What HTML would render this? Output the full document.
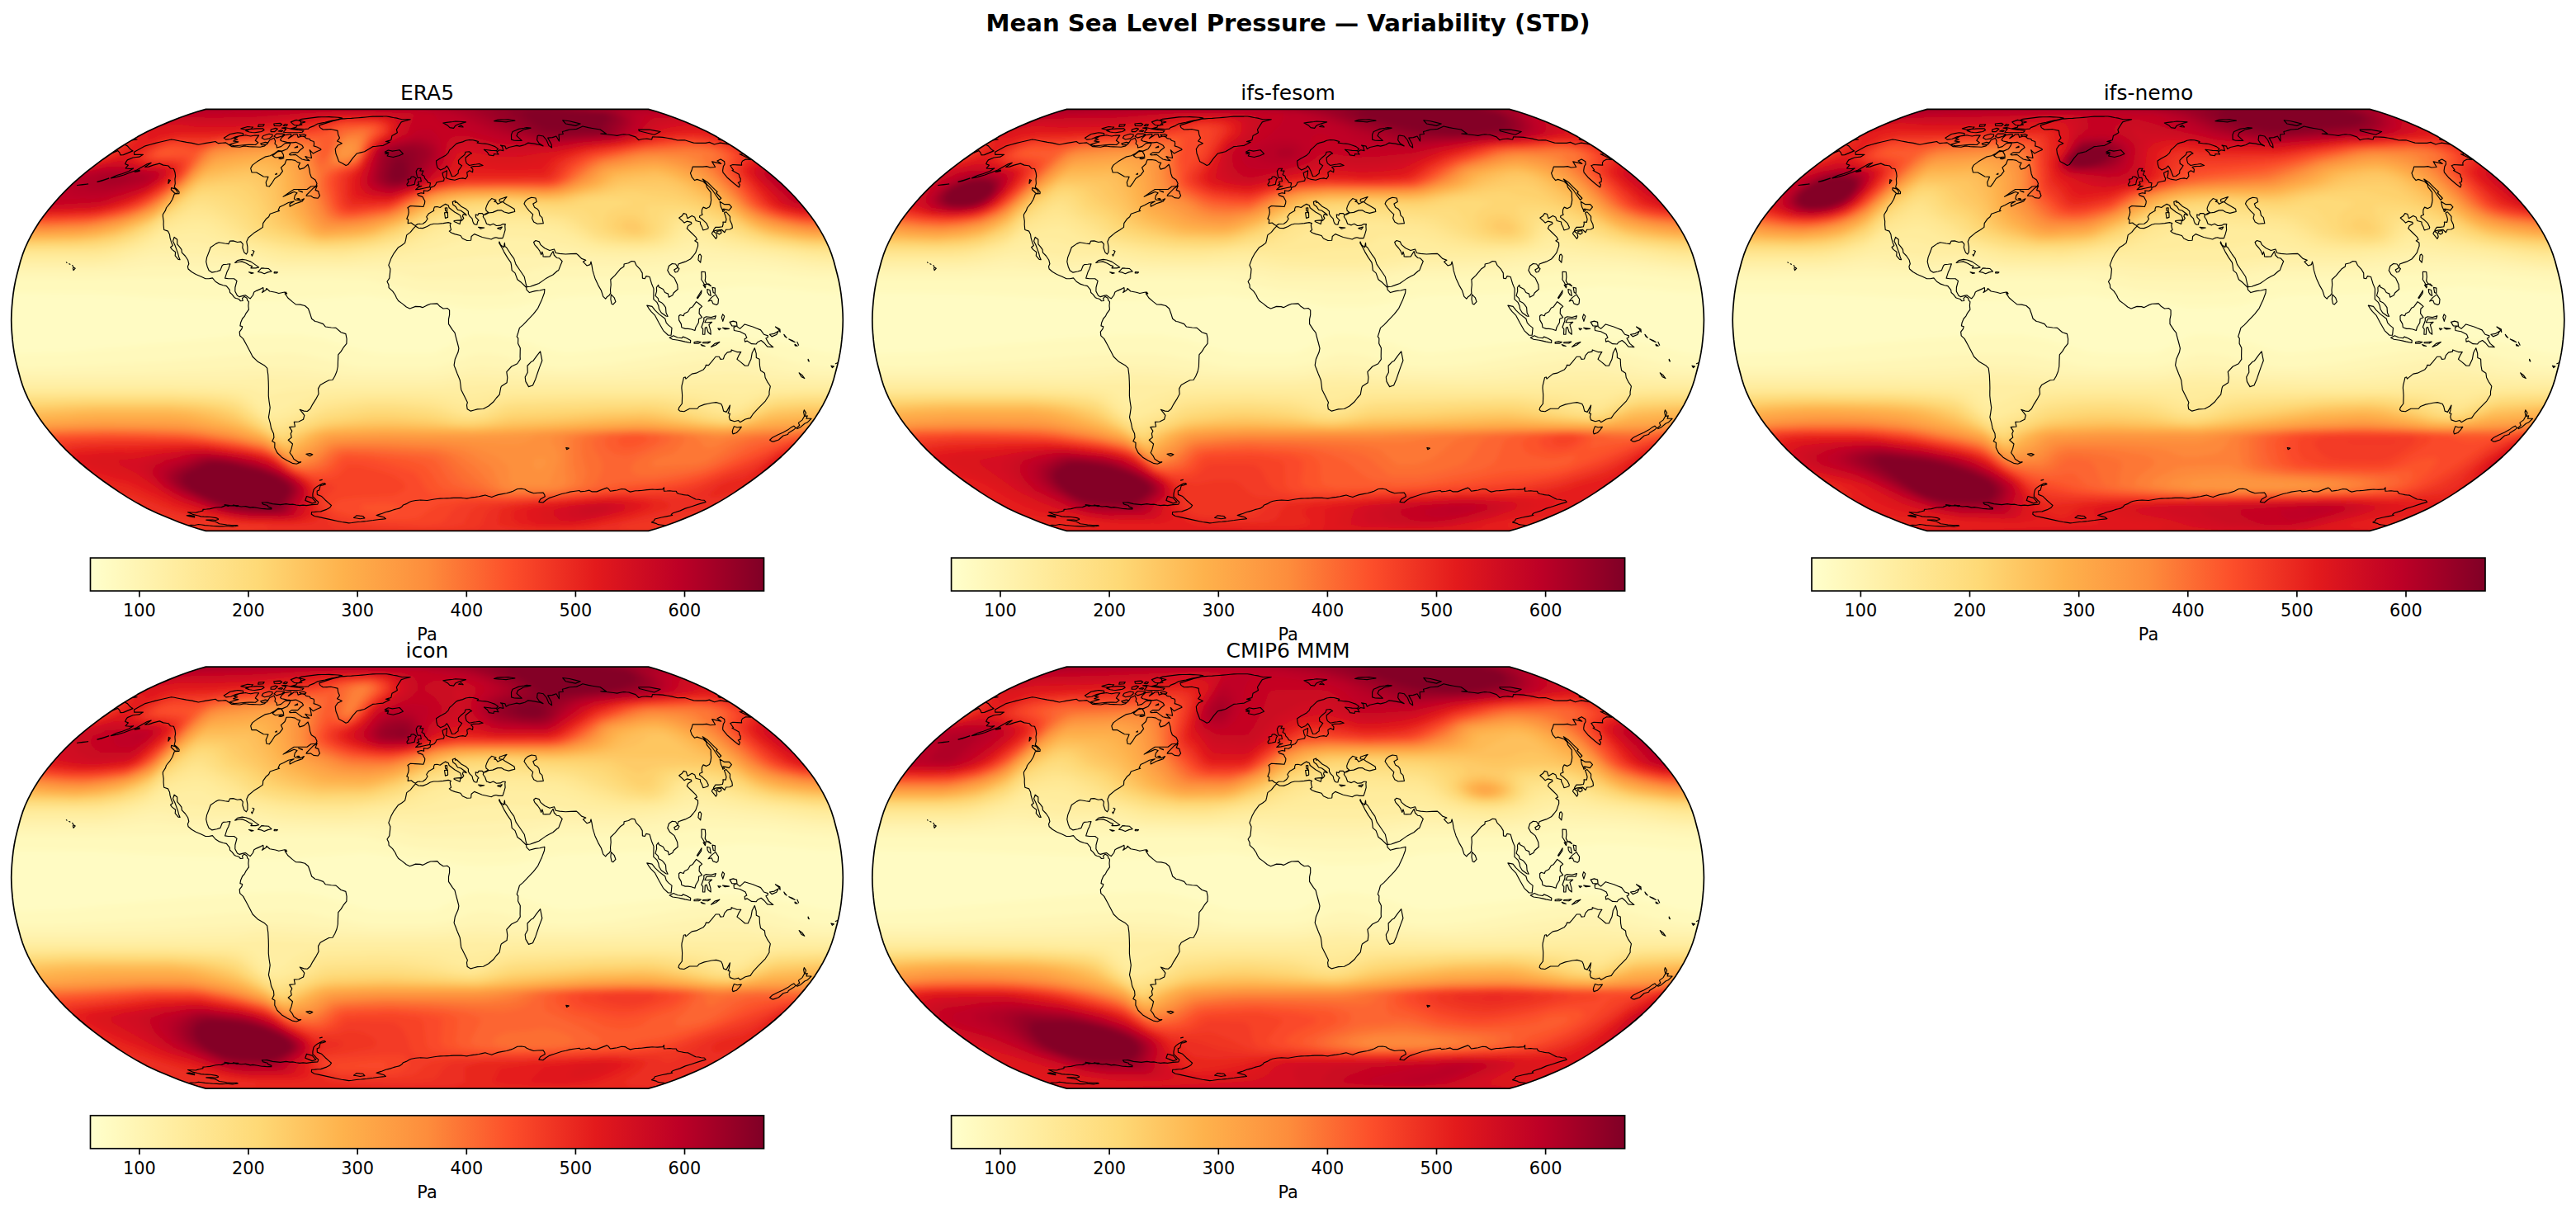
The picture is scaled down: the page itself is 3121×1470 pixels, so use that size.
<!DOCTYPE html>
<html><head><meta charset="utf-8"><title>Mean Sea Level Pressure — Variability (STD)</title>
<style>html,body{margin:0;padding:0;background:#fff;overflow:hidden;width:3121px;height:1470px}svg{display:block}text{font-family:"DejaVu Sans","Liberation Sans",sans-serif;fill:#000}.t{font-size:25px;text-anchor:middle}.k{font-size:20.83px;text-anchor:middle}</style></head><body>
<svg width="3121" height="1470" viewBox="0 0 3121 1470">
<defs>
<clipPath id="rc"><path d="M268.1 255.5L277.5 252.9L288.3 249.4L300.2 245.1L313.0 240.0L326.3 234.4L339.2 228.3L351.0 222.0L362.0 215.5L372.6 208.8L382.7 201.9L392.7 194.9L402.3 187.7L411.7 180.4L420.7 172.9L429.2 165.4L437.2 157.8L444.6 150.1L451.5 142.3L458.1 134.5L464.3 126.7L469.9 118.8L474.9 110.9L479.5 103.0L483.6 95.0L487.2 87.1L490.2 79.2L492.7 71.3L494.8 63.4L496.9 55.4L498.8 47.5L500.3 39.6L501.5 31.7L502.4 23.8L503.1 15.8L503.6 7.9L503.8 -0.0L503.6 -7.9L503.1 -15.8L502.4 -23.8L501.5 -31.7L500.3 -39.6L498.8 -47.5L496.9 -55.4L494.8 -63.4L492.7 -71.3L490.2 -79.2L487.2 -87.1L483.6 -95.0L479.5 -103.0L474.9 -110.9L469.9 -118.8L464.3 -126.7L458.1 -134.5L451.5 -142.3L444.6 -150.1L437.2 -157.8L429.2 -165.4L420.7 -172.9L411.7 -180.4L402.3 -187.7L392.7 -194.9L382.7 -201.9L372.6 -208.8L362.0 -215.5L351.0 -222.0L339.2 -228.3L326.3 -234.4L313.0 -240.0L300.2 -245.1L288.3 -249.4L277.5 -252.9L268.1 -255.5L-268.1 -255.5L-277.5 -252.9L-288.3 -249.4L-300.2 -245.1L-313.0 -240.0L-326.3 -234.4L-339.2 -228.3L-351.0 -222.0L-362.0 -215.5L-372.6 -208.8L-382.7 -201.9L-392.7 -194.9L-402.3 -187.7L-411.7 -180.4L-420.7 -172.9L-429.2 -165.4L-437.2 -157.8L-444.6 -150.1L-451.5 -142.3L-458.1 -134.5L-464.3 -126.7L-469.9 -118.8L-474.9 -110.9L-479.5 -103.0L-483.6 -95.0L-487.2 -87.1L-490.2 -79.2L-492.7 -71.3L-494.8 -63.4L-496.9 -55.4L-498.8 -47.5L-500.3 -39.6L-501.5 -31.7L-502.4 -23.8L-503.1 -15.8L-503.6 -7.9L-503.8 -0.0L-503.6 7.9L-503.1 15.8L-502.4 23.8L-501.5 31.7L-500.3 39.6L-498.8 47.5L-496.9 55.4L-494.8 63.4L-492.7 71.3L-490.2 79.2L-487.2 87.1L-483.6 95.0L-479.5 103.0L-474.9 110.9L-469.9 118.8L-464.3 126.7L-458.1 134.5L-451.5 142.3L-444.6 150.1L-437.2 157.8L-429.2 165.4L-420.7 172.9L-411.7 180.4L-402.3 187.7L-392.7 194.9L-382.7 201.9L-372.6 208.8L-362.0 215.5L-351.0 222.0L-339.2 228.3L-326.3 234.4L-313.0 240.0L-300.2 245.1L-288.3 249.4L-277.5 252.9L-268.1 255.5Z"/></clipPath>
<path id="ro" d="M268.1 255.5L277.5 252.9L288.3 249.4L300.2 245.1L313.0 240.0L326.3 234.4L339.2 228.3L351.0 222.0L362.0 215.5L372.6 208.8L382.7 201.9L392.7 194.9L402.3 187.7L411.7 180.4L420.7 172.9L429.2 165.4L437.2 157.8L444.6 150.1L451.5 142.3L458.1 134.5L464.3 126.7L469.9 118.8L474.9 110.9L479.5 103.0L483.6 95.0L487.2 87.1L490.2 79.2L492.7 71.3L494.8 63.4L496.9 55.4L498.8 47.5L500.3 39.6L501.5 31.7L502.4 23.8L503.1 15.8L503.6 7.9L503.8 -0.0L503.6 -7.9L503.1 -15.8L502.4 -23.8L501.5 -31.7L500.3 -39.6L498.8 -47.5L496.9 -55.4L494.8 -63.4L492.7 -71.3L490.2 -79.2L487.2 -87.1L483.6 -95.0L479.5 -103.0L474.9 -110.9L469.9 -118.8L464.3 -126.7L458.1 -134.5L451.5 -142.3L444.6 -150.1L437.2 -157.8L429.2 -165.4L420.7 -172.9L411.7 -180.4L402.3 -187.7L392.7 -194.9L382.7 -201.9L372.6 -208.8L362.0 -215.5L351.0 -222.0L339.2 -228.3L326.3 -234.4L313.0 -240.0L300.2 -245.1L288.3 -249.4L277.5 -252.9L268.1 -255.5L-268.1 -255.5L-277.5 -252.9L-288.3 -249.4L-300.2 -245.1L-313.0 -240.0L-326.3 -234.4L-339.2 -228.3L-351.0 -222.0L-362.0 -215.5L-372.6 -208.8L-382.7 -201.9L-392.7 -194.9L-402.3 -187.7L-411.7 -180.4L-420.7 -172.9L-429.2 -165.4L-437.2 -157.8L-444.6 -150.1L-451.5 -142.3L-458.1 -134.5L-464.3 -126.7L-469.9 -118.8L-474.9 -110.9L-479.5 -103.0L-483.6 -95.0L-487.2 -87.1L-490.2 -79.2L-492.7 -71.3L-494.8 -63.4L-496.9 -55.4L-498.8 -47.5L-500.3 -39.6L-501.5 -31.7L-502.4 -23.8L-503.1 -15.8L-503.6 -7.9L-503.8 -0.0L-503.6 7.9L-503.1 15.8L-502.4 23.8L-501.5 31.7L-500.3 39.6L-498.8 47.5L-496.9 55.4L-494.8 63.4L-492.7 71.3L-490.2 79.2L-487.2 87.1L-483.6 95.0L-479.5 103.0L-474.9 110.9L-469.9 118.8L-464.3 126.7L-458.1 134.5L-451.5 142.3L-444.6 150.1L-437.2 157.8L-429.2 165.4L-420.7 172.9L-411.7 180.4L-402.3 187.7L-392.7 194.9L-382.7 201.9L-372.6 208.8L-362.0 215.5L-351.0 222.0L-339.2 228.3L-326.3 234.4L-313.0 240.0L-300.2 245.1L-288.3 249.4L-277.5 252.9L-268.1 255.5Z" fill="none" stroke="#000" stroke-width="1.67" stroke-linejoin="round"/>
<linearGradient id="cb" x1="0" x2="1" y1="0" y2="0"><stop offset="0" stop-color="#ffffcc"/><stop offset="0.125" stop-color="#ffeda0"/><stop offset="0.25" stop-color="#fed976"/><stop offset="0.375" stop-color="#feb24c"/><stop offset="0.5" stop-color="#fd8d3c"/><stop offset="0.625" stop-color="#fc4e2a"/><stop offset="0.75" stop-color="#e31a1c"/><stop offset="0.875" stop-color="#bd0026"/><stop offset="1" stop-color="#800026"/></linearGradient>
<filter id="bl" x="-5%" y="-5%" width="110%" height="110%"><feGaussianBlur stdDeviation="3"/></filter>
<path id="co" d="M-355 -203.6l13.5-7.4 5.9-1.6 5.8-1.6 6.7-1.6 6.6-1.6 6.6-1.5 3.6 0.6 3.5 0.7 3.7 0.7 3.7 0.7 3.8 0.7 3.3 0.5 3.4 0.5 3.9 1 3.9 0.9 4-0.8 4-0.8 6.3-1 6.3-1.1 1.8 1.1 1.8 1 4.5-0.4 4.5-0.4 2.3 1.6 2.4 1.6 2.5 1.6 4.9 0.3 4.9 0.3 5.4-1.4 2.7 0.4 2.7 0.4 4.6 0.2 4.7 0.2 4.6 0.2 5.3-1.4 3.7-3.2 2.4-3.9 5.3-2.6 1.6 3.9-0.6 3.1 2.4 2.2 0 2.7 5.1-1.4 5-4 3.3-0.3 3.2-0.2-1.3 3.2-2.8 4.1-6.1 2.7-4.8-0.5-4.5 3.3-5.1 2.8-6.4 1.4-9.5 5.7-5.7 4.3-2.1 3.8 1.3 5 5.7 0 2.6 1.5 2.6 1.5 3.4 2.1 5.7 0.3-2.8 6.6 0.7 4.5 3.3 0.6 2.9-3.6 3.7-6 6.3-4.5 3.4-4.5-2.1-4.4 4.7-4.3 1.9-5.2 5.5 0 5 0.8 3.1 2.3 3 0.6-2.2 4.4 1.7 3.5 5.2-1.5 4.8-4.4 1.6 5.3 0.9 5.9 1.7 4.5 4.7 3 2 4.5-1.1 3-6.2 0.6-4.7 3.4-3.7 0-3.6 0-4.3 0-4.2 0-6.5 4.3-6.6 4.6 4.5-2.1 4.4-1.9 4.3-1.8 3.7 1.2-2.7 3.1-0.9 4 2 1.6 5.6 0.6 4.4-2.2-2.2 3.1-4.2 1.4-4.2 1.4-6.6 3.4-0.2-3.1 5.2-3.1-6.8 1.6-6 3.1-4.5 2.2-1.8 4 1.5 0.7-4.2 1.2-7.2 2.5-1.6 3.5-3.4 2.8-3.5 5.1-0.3 4.7-4.5 3.2-6.2 3.8-6.8 5.7-2.1 4.8 1.1 6.3 0 6.3-1.5 2.6-2.4-1.9-2.2-6.1 0.5-4.1-2.5-3.1-4.2 0.6-5-1.6-4.1 0.3-1.6 3.5-4.4-0.6-7.3-1.3-3.6 1.6-6.4 4.4-2.1 5.7-2.5 6.4-0.9 5.3 1.4 5.8 2 4.7 3.8 2.5 5.7-1.2 4.3-1.3 2.2-5.7 1.5-1.3 4.2-0.4 4.1-0.5-2.1 6.3-1.9 3.8-2.3 7.3 4.1 0.6 6.9 0 3.4 2.6-2.1 7.9-0.1 4.7 2.7 5.4 2.7 1.3 4.3-1.3 2.8-0.6 4 2.9 1.9 1.2 3.3-4.1 1.3-3.8 2.9-1.6 5.7-2.5 2.4-1.3 0.3 3.5-1.6 2.5 4.7-3.1 0.7-1.9 3.9 3.4 6.9 1.3 4.1 1.3 7.1-1.6 1.2 2.9 2.7 4.1 5.4 4.7 4.1 3.2 5.5 0.3 5.6 1.3 4.1 3.5 2.7 7.6 1.4 4.7 4.2 3.2 2.8 0.6 7 2.6 2.8 3.4 7 1 5.6 0.3 6.2 5.4 5.7 1.9 1.2 6-0.2 5.7-4 5.1-2.7 4.4-3.4 4.1-0.3 7-0.2 7.3-1.3 6-2.4 5.7-2.7 4.5-4.3 0.3-4.8 2.5-5.7 3.2-2.6 4.7 0.5 6.4-2.8 5.3-4.4 7-3 5.7-3.5 2.9-4-0.3-5.1-1.9 3.4 4.1 2.2 3.1-1.3 4.8-5.6 2.8-5.6 0.3 1.2 5.7-6.8 0.6 3.1 4.7-1.5 3.2 0.9 4.6-4 3.1 5.3 4.7-1.5 6.2-1.9 4.6 3.2 4.2 1.6 3.3 5.9 3.9 2.9-0.3-5.5 2.4-5-0.9-6.1-3-6.7-4.2-5.5-5.4-3.1-6.2 0.1-6.1-3.1-1.6 2.1-4.7-0.4-4.6-2.9-6.3-1.2-6.3-2-7.3 0.9-5.3 0.9-6.4-1.2-7.9-0.7-6.3 0-4.8 0.1-4.7-0.2-7.9-0.4-8-1.1-8.2-3.6-3.5-7.4-4.1-6.6-6.3-3.3-6.4-4.1-7.9-4-7.3-4-3.8-0.5-4.7 2.7-3.5 0.8-2.9-2.8-0.9 0.7-3.8 2-4.8 2.8-3.2 1.5-3.1 3.5-4.8-0.5-4.7 0.5-4.8-1.6-1.6-0.7-2.8-3.3-1.9-2.3 2.2 0.7 2.9-2.8 0.3-1.9-2.2-3.5-1-1.9-0.9-2.9-3.8-2.6-2.3-0.4-3.1-3.8-4.8-4-0.9-5.4-1.9-3.9-2.6-3.7-4.4-4.2 0.9-4.2 0-5.2-2.5-6.5-2.8-5.1-2.9-4.1-3.5-0.7-3.1 1.4-3.2-1.2-4.8-3.2-4.7-4-4.1-0.5-3.8-2.4-3.2-2.7-3.2-0.1-5.7-3.6-2.8-1.6 4.7 2.4 4.8 2 5.4 1.7 4.7 1 4.1 1.5 3.5-2.1-0.3-3.8-4.4 0.4-4.5-4.1-3.1-2-2.6 2.8-2.2-1.8-4.1-1.5-5.4-0.5-3.8-1.9-4.1-4.9-1.6-0.6-6.3 0.1-4.1-0.8-5.4-0.1-2.8 3.2-5.1 1-3.1 5-6.2 2.4-4.1 2.4-6.5 5.6-0.3 0.2-2.1-2-2.5-3.9-3.1 1.1-4.5-0.4-5.4 0.7-3.6-0.6-4.5-1.6-4.4-4-0.6-2.3-2.9-3.1-0.5-3.1-0.4-2.3-1-2.3-1-7.7 2-5.6 2-4.4 0.3 7.6-5.2-4.9 1.5-6.5 3.7-6.1 3.6-7.7 2.9-7.8 3-8.3 2.4-7.5 1.5 7-3.3 6.9-2.1 7.8-3 5.5-3.5-4.5 0.6-5-0.6 3.3-3.8-3.8-1.4 1.3-2.9 1.4-2 6.9-2.9 3.7-0.4 3.8-0.4 4.7-2.8-4.3 0-3.2 0-3.2 0zM-385.7 -171.7l-7 2.1-6.9 2.1 4.5-0.9zM-410.8 -164.8l-6.6 0.6-6.5 0.9 6.2-0.6zM-130.8 -236l6.3-2 6.3-2 4.6-1.3 4.5-1.2 4.5-1.2 4.3-0.3 4.2-0.3 4.3-0.2 4.2-0.3 4.2-0.3 4.5-0.4 4.4-0.4 4.4-0.4 4.4-0.4 4.1-0.1 4.1 0 4.2 0 4.1-0.1 4.1 0.7 4.1 0.8 4.2 0.7 3.1 0.8 3.2 0.8 3.4 0 3.4 0 3.4 0-3.6 1-3.7 1-3.7 1.1-2.9 4.5-2.9 4.7 1 3.7-3.2 1.9-3.3 1.9-1.1 5.2-3.2 0.9-3.2 0.9 4.8 0.8-3.9 2-4 2-4.2 0.4-4.2 0.5-4.3 0.4-4.9 3-5.1 3.1-4.6 1.1-4.6 1.1-5 5.6-5.8 8-2.5 0.9-3.7-2.3-4.8-2.3-1.6-4.3-2.1-5.6-0.7-5.5 2.8-4.1 5.3-2.7-2.9-1.3-2.9-1.3 3-3.9-1.8-3.9-0.7-4.9-4.1-0.9-4-0.9-4.8 0.3-4.8 0.2-1.8-1.2-1.7-1.2zM-128.6 -206.3l-5.3 2.2-4.3 2.2-2.8-2.8-1.3-1.4 1.2 3.6 1.1 6.2-3.9-0.8-3.7-1.2 1.9 2.6 3.1 2.5-5.1-0.8-3.9-0.9-3.9-2.8-3.7-2.8-3.4 0.3-3.4 0.2-1-0.8 2.9-2.2 3.7 0 3.7 0 2.9-3.1 3.9-3-1.5-2.4-3.7-2.2-3.8-1.8-4.4 0.5-3.3-0.2-3.4-0.3-3-0.7-2.9-0.6-2-1.3 1.3-2.6 3.9-3.4 3.9-0.6 4-0.6 0.1 2-3.5 3.1 4.4-2.6 2.4-2 4-0.3 0.5 1.8 0.5 1.8 4.9-1.3 3.3 0.8 1.6 1.8 4.4 0.8 0.8 1.8 4.1 1.3 0.4 2.6-0.5 2.7 4.3 1.4 4.1 2.2zM-143.9 -231.7l-5.1 0.4-3.9-0.2-3.9-0.2-4-0.2-4-0.1 6.3-1.7 0.3-1.8 3.3-0.6 3.3-0.6-1.7-1.6 5.5-1.7-2-0.6-2-0.5-1.9-0.5-1.9-0.5 3.5-1.4 4-0.5 3.9-0.5 4-0.5 4-0.5 3.9-0.5 4.4-0.1 4.5 0 4.5-0.1 3.7 0.2 3.6 0.2 3.7 0.2 2.5 0.4 2.5 0.5-5.6 1.6-3.2 0.7-3.3 0.7-4.4 1-4.5 1.1-4.3 0.9-4.4 0.9-4 2.3-5.9 2.3zM-239.1 -212.9l2.6 1 2.7 0.9 4.4-0.4 4.5-0.4 4.5-0.4 4.4-0.4 4 0.1 4 0.2 3.4-2.7-1.8-1.3-1.8-1.3 2.1-3.1 2.2-3.1-4.8 0-5 1-3.1-0.6-3.2-0.7-4.1 0.7-4.1 0.6-5.8 3.4 4.3 0.5-5.2 2.1 3.1 0.4 3.1 0.4-5.2 1.5zM-246.3 -220.7l2.5 2 5.8-0.7 5.9-2.6 4.6-1 4.6-1.1-0.1-2.2-3.3-0.4-3.3-0.4-4.5 0.9-4.5 0.9zM-151.4 -227.6l-3.1 0.3-3 0.2-4.8 0-4.7 0-3.6-0.2-3.5-0.3 3.2-3.9-2.5-0.6-2.6-0.6 4.2-0.5 3.7 0.9 3.7 0.8 4 0.6 4 0.6 3.4 0.4 3.4 0.4zM-175.8 -222.8l-6.7 2.1-3-2.1 3-3 3.3 0 3.4 0 2.9 0.5zM-191.1 -220l-5.9 1.1-3.2-1.8 1.6-2.6 7.2-2.3 4 0.8-0.1 2zM-200.7 -228.3l-4 0.6-4.1 0.6-3.3-0.3-3.3-0.4-2.2-0.9-2.2-0.8 5.5-2 4-0.2 4-0.3 3.7 0 3.7 0 1.5 1.7zM-155 -236l-3-0.1-3-0.1-1.3-1.2-1.3-1.1-1.6-1.5 6.7-2.5 2.5 0.7 2.5 0.7 0.9 2.2zM-173.8 -197.7l-5.2 0.4-5.1 0.4-3.3-2.2 5.9-4.8 4.8-0.8 2.5 4.2zM-184.7 -228.3l-4.7 0 0.1-2.5 5.7-1.7 2.5 1zM-213.4 -231.5l-3.7 0.4-3.8 0.3-2.4-0.6-2.3-0.6 8.1-2.4 3.3 0.3 3.3 0.2zM-194.3 -212.9l-5.8 0.8-1.7-1.6 5.7-1.8 2.6 0.5zM-176.2 -228.3l-4.2-0.5 3.3-1.2 2.2 0.5zM-198.7 -234.8l-3.1 0.2-3 0.2 0.6-2.3 3.5-0.2 3.4-0.2zM-178.6 -235.1l-3.3-0.2-3.3-0.2-0.5-2.3 4-0.4 4-0.3 1.8 1.4zM-170.5 -235.1l-3.9-0.4 2.3-1.9 3 0.5zM-147.6 -222.8l-4.9 0-2.4-1.8 5.4-0.7 2.8 1.2zM-156.9 -209.4l-3.5 0.6 3.3-1.9zM-179.6 -195.4l2.6 0.2 3.4-1.1-3.8-0.8zM-183.9 -176.5l1.8-1.2-0.2 1.2M-155.8 -156.9l4.5 1.3 0.2 0.6zM-157.8 -147l3.4 0.9-0.9-1.2zM-146.4 -150.4l5.7 0 3.1 2.2 5.3 0.6 2.3-3.1-1.2-2.8-0.5-2.5-3.7-1.5 2.1-5.2-4.5 2.8-3.6 3.6-4.6 4.7zM-302.8 -152.9l-3.3-1.2-4.1-4 0.3-2.1 4.7 1.2 2.5 3.4zM-313.6 -165.4l0.5-4.8 2 0.9zM-348.3 -180.4l-6 0.9 5.9-2.3zM-232.9 -69.4l3.1-2.8 5.7-1.3 4.5 0.6 6 2.2 5.1 3.5 4.6 3.2-3.7 1-6 0 1.6-2.3-3.4-1.2-3.9-2.3-5.2-2.2-4.2 0.7zM-205.1 -58.3l4.4-4.7 3.5 0.3 4.9 0.3 3.8 3.5-4.5 0.9-4.3 1.9-3.4-1.6zM-215.9 -58l5.4 1-2.5 0.6zM-185.2 -58.3l4.1 0.3-1 1.1-3.3-0.1zM-211.6 -84.3l2 1-2.5 5.7-0.8-1.9M-171.2 -33.9l1.3 1.9-2.3 0.3zM-428.7 -64l2.4 1.3-2.2 2.5-0.6-2.2zM-429.8 -66.2l0.8 0.9M-433.8 -68.1l1.2 0.6M-437.1 -70l0.6 0.6M-146.6 162.4l4.6-0.6 3.3 1.2-3.4 1.8zM168.3 154.7l3.4 0.6-2.5 1.6zM-51.3 -203.6l4.2-2.2 5 1.1 4.3-0.7 4.3-0.7 2.8 2.8 1.5 1.9-5.2 2.3-3.3 0.8-3.4 0.9-3.6-0.7-3.7-0.7 1.5-2.3-4.2-0.5 4.5-1.4zM19.3 -238.9l2.9 1.6 3 1.8 2.2 2.3 4.7 0.7 2.1-3 3.9-1.9 4.5-1.3 4.4-1.3-4.2-0.3-4.1-0.3-4.2-0.3-3.3 0.5-3.4 0.4-4.2 0.5zM38.1 -234.4l2.7 0.3 2.8 0.2-2.5-2.3zM102.1 -218.7l3.5 1.1 4.5 0.1 4.6 0.1-6.2-5.9 1.6-3.8 3.5-1.8 3.3-1.9 4.4-0.9 4.3-1-5-0.5-3.2 0.6-3.3 0.5-3.2 0.6-3.6 1.6-3.7 1.6-1.6 3.7zM168 -237.8l5.8 1.1 6 1.2 3-1.2 2.9-1.1-6.7-1.7-6.6-1.6-4.1-0.5-4.1-0.5zM81 -241.1l4.9 0.4 4.9 0.3 4.8 0.4 3.7-0.6 3.5-0.5 3.6-0.6-4.1-0.7-3.9-0.7-4.4 0.2-4.4 0.2-4.4 0.2-2.1 0.7zM257 -229.1l6 1.5 6.1 1.5 6.1 1.5 2.6-1.2 2.5-1.3 2.3-1.2-6.7-1.2-6.8-1.3-4.3 0-4.3 0-4.4 0zM354.3 -218.4l3.8 0.5M-358.1 -217.9l6.7-1-4.1-0.5M355.5 -219.4l-3 0 1.8 1M366.7 -212.6l-5.7-1.1-5.8-1-3.6 0.9-3.6 0.9-6.1-2.6-2.2 0.5-2.2 0.5-5.1 0-5 0-4.5-0.2-5.4-1.7-5.5-1.7-4.3 0.1-4.3 0.1-7.5-1.8-5.2-0.9-5.2-0.9-4.2-0.2-4.1-0.1-4.2-0.2-0.8 3.1-5.9-0.8-2.8 0.1-2.8 0.2-2.2 0.6-2.1 0.7-3.9-3.9-8.1-2.6-3.2-0.2-3.2-0.3-3.9 0.8-3.9 0.8-4.4-0.6-4.5-0.5-4.4-0.5-3.3-0.3-3.4-0.4 3.4 0 3.3 0-7.2-5-4.7-0.8-4.8-0.8-4.7-0.8-7.1-1.6-2.4 1.1-2.4 1.1-2.5 1.1-4.3 0.4-4.2 0.3-2.8 0.8-2.9 0.9-3 0.8 0.9 3-2.6 0.2-2.7 0.3 0.5 5.4-0.1 2.6-3.5-6-2.3 0.8-2.4 0.8-2.7 0.2-2.8 0.3 2.2 3.9 2.2 3.9 0.5 4.1-3.7-2.7-2.7-6.6-3.9-4.7-5.5-1-1.6 0.5-0.6 5.2 2.5 3.9 4.9 3.2-3.8-1.3-3.5-0.7-3.4-0.7-3.9-0.5-3.8-0.5-3.8 2.4-3.2 0.8-3.2 0.8-3.4-0.8-4.7 1.1-4.7 1-3.4 2-1.2-3.3-5.6-1.1 2.1 1.6 1.4 5-4.5-0.9-3.5 2.2 2.1 3.1-5.5-0.6-0.4 2.3-5.6-0.9-2-3.3-4.1-3.3 4.3 0.5 4.4 0.6 3.2 0.1 3.2 0.2 2-2.2-3.7-2.8-4.6-1.6-4.6-1.6-3.1-0.3-3.2-0.2-3.1-0.4-3.1-0.4 1.5-1.6-3.2-0.9-3.3-0.9-4.4-0.3-4.4 0.8-3.7 1.6-4.8 1.3-2.8 1-2.7 2.5-2.8 2.7-2.8 2.4-1.7 3.6-3 2.8-4.1 2.3-3.2 1.7-4.2 2.8 0.4 4.1 1.2 4.3 3.6 2.7 5.3-2.4 2.3-2.6 1.5 2 1.9 3.8 1.7 4.2 1.1 2.7 3.3-0.3 4.3-3.3 0.3-3.6 2.7-3.5 1.5-2.3-3.9-2.6-0.3-3.8 3.3-3.4 4.3-3.6 1-3.1 4.5-0.5 3 2.2-1.8 0.5-2.8 2.3-2.8 2.2 0.1 3.4 1 3.5 3.5 2.6 4.6-0.9 3.8-0.5 3.7-0.6 4.3 2-4.8 0.9-3.3 0.1-3.4 0.2-3.2 0.8 2.5 2.7-0.3 3.5-3.7-1.8-3.2 2.1 0.7 4.5-2.4 3.3-3.2-0.9-4.6 0.6-5.2 1.8-5.3-0.9-2.4-0.6-3.1-1.2 0.6-2.1 0.5-3 0.2-3.6-5.4 2.7 0.7 3.9 1.4 3-0.6 2.7-3.5 0.6-5.2 1.2-1.1 2.7-1.9 2.1-4.5 1.6 0 2.1-3.4 2.1-4.6-0.6 0.2 3.4-3.4-0.6-4.5 1.2 1.2 1.9 5.2 1.8 2.7 5-0.3 2.8-1.6 4.1-5-0.4-5.1-0.3-5.5-0.3-3.4 2.2 0.9 1.6 0.4 4-0.6 3.2-1.8 4.7 1.8 0.7-0.4 4.7 4-0.6 2.8 2.2 2.3 1.2 2.7-1.9 6.3-0.3 3.4-2.5 2.3-3.5-1.3-2.5 2.9-4.1 3.5-1.9 2.6-1.5-0.3-1.6 1-2.8 3.3-0.3 3.5 0.9 3.2-2.2 3.3-1.9 3.6 1.6 0.8 2.8 3.5 2.8 3.2 2.5 3.7 1.9 3.2 2.2 1.3 3.8-0.6 2.8 2-1.2 1.4-2.2-1.4-2.2 0.8-2.6 4 1.3-1.4-1.6-5.4-4-3.9-1-2.6-4.1-3.1-2.1-0.5-3.5 3.4-1.2-0.1 2.2 1.7-0.7 1.9 1.9 4.1 3.8 5.3 2.8 2.8 2.8 0 3.1 1.8 2.9 2.8 2.8 0.8 3.2 1.2 2.8 2 1.3 1.8 0 1-4.1 1.2-1-3.5-3.8-0.3-3.4 2.7 0.9 1-2.2 4.4 0 1.5 1.9 6-3.2-2.8-2.1-0.4-2.9 1.3-3.7 2-4.1 3.8-4 5.3 1.9-2.2 1.8 2.4 0.6 1.9 2.5 3-1.5 2.8-1.3-3.9-0.6 0.3-2.5 4.4-1.4 4.3-1.4-2 2.2-2.6 4 2.3 1.6 6.3 3.7 5.1 3.2 0.6 3.1-3.7 0.9-3.7 1-5.3-1.3-3.7-2.2-4.3 0-6 2.5-5.1 0.7-3.6 1.9-2.1 0-0.9 2.8 2.4 3.5 1.8 5 4.6 1.6 3.5-1.6 3.9 2.2 4.7-0.3 3-1.6 3.1 0-0.5 2.2 0.3 4.8-1.5 5.4-1.6 4.7-5.1 0-3-0.9-2.4 0.6-3.3 1.6-4.1-0.9-6.8-1.6-4.9-1.9-4.7-1.9-3.6 2.8-0.5 4.8-4.8 0.3-5.5-2.5-2.3-3.5-7.2-1.9-4.1-1.6-2.4-1.9 2.3-1.6-0.9-3.2-0.4-2.8 1-1.9-3.2-1-6 1-6.5 0.6-5.2 0-4 1-3.9 2.2-5.3 2.2-5.2-0.3-3.4-2.2-2.7 2.8-3.6 4.4-4.6 3.5-1.2 6.1-0.9 3.4-4.1 3.2-4.2 2.5-5.1 7-3.4 6.3-3 8 2.1 4.7-0.4 4.8-0.7 6.3-2.8 4.1 1.9 3.8 0.2 3.5 4.6 4.4 3.3 4.8 1.4 3.2 2.2 3.5 4.7 3.4 5 4.2 4.2 1.9 7-2.6 5.6 0.3 2.8 1 5-2.5 4.8-1.9 8.1-0.4 3.1 3.5 4.2 2.6 5-0.4 2.5 2.3 0 5.7-1.1 5.3 0 5.8 4.8 7.2 2.7 3.2 0.9 3.8 2.4 8.9 1.6 6.3-0.9 4.8-3.7 8.5-1.2 7.3 2 5.1 1.9 5 3.2 7.7 0.8 5.8 0.7 5.9 3.1 6.3 1.4 2.9 3.2 6.3-0.9 3.2 0.7 5 4.1 2.3 4.1-1.2 4-1.1 7.2-0.3 6.4-3.5 5.8-5 3.6-4.8 3.8-4.1 1.4-7.9 0.7-1.9 6.8-4.5 0.7-6.3-1-7 5.8-6.3 7.1-3.5 3.6-5.4-0.2-3.1 0.1-5.3 0.1-5.2-2.7-5.4 0.2-6.3-1.6-2.2 1.7-5.1 1.5-5.4 4.2-3.5 5.7-6 6.9-7.3 5.5-7 2.4-5.2 2.4-5.2 3-8.2 0.4-4.5-6 1.6-5.6 0.6-6.9 1.9-3.4-3.5-0.4-2.8-5.8-5.7-4.9-3.8-2.9-7.9-3.8-3.2-0.6-5.7-0.7-3.8-4.2-6-4.3-7.3-2-4.1-3.7-6.4 0.3-1.4 1.5 3.7 3.8 3.1 1.1-5.4 0.4 4.5 1.7 0.9 5.3 8.3 3.9 5.3 2.3 7 5.4 7.9 4.9 7.3 0.7 3.2 1.4 6.3 1 2.6 4.1-0.4 5.2-1.9 5.2-1.9 4.5-3.1 4.5-3.2 4-2.1 4-2 5.4-4.8 1.4-0.6 2.2-5.7 2.3-5.4-3.4-3.5-3.3-0.6-3.1-3.2-1.3-4.7-4 6.3-5.4 0.3-2.7-0.3 0-2.2-1.1-3.5-1.1 3.5-2.1-4.8-2.2-3.1-3.7-4.1-1.2-3.2 2.4-1.9 4.2 1.3 1.8 3.8 4.9 4.1 6 2.8 5.5-1.6 1.9 4.5 4.7 0.9 7.2 0.7 6.5-0.4 6.7-0.3 2.2 1.9 4 4.1 5.2 1.9-3.4 1.9 4.6 4.8 4-1.3 1-3.5 1 4.2 1 6.3 1.4 4.8 1.5 4.7 2.2 4.8 2.2 4.7 3.1 5.4 2.4 7.3 2.9 2.8 1.9-2.5 2.1-1.3 2.1-3.1-0.3-3.8 0.7-6.4-0.4-6.3 5.1-4.8 6.5-7.9 4.5-3.1 0.2-2.9 5.3-1.3 3.8-2.2 3.6 0.3 2 4.5 4.5 4.7 2.9 4.8 0.2 6.3 2.9 0.6 1.5-3.1 4.3 0.9 2.3 7.9 2.6 6.4-0.1 6.3-0.1 6.4 4.1 3.8 1.9 4.1 0.7 4.1 2.7 4.4 5.7 4.1 2.2 0.4-2.1-4.5-0.5-6.3-2.7-3.8-2.3-2.2-3.4-1.6-0.8-3.5-3.3-3.2 1.6-5.4-0.2-4.7 2.3-2.9 0.5 2.3 5.2 2.8 2.3 4.1 3.8 1.6 0.8 4.1 4.6-2.5 1.2-2.8 5.1-4.5-0.5-5.4-3.5-7.9-5.7-4.7-2.7-4.8 1.7-5.4 3.9-2.8 4.2 0.6 2.2 3.5 1.1-3.5 5.2-1.9 3.1-1 6.2-3.1 3.3-3.8 3-3.8 1.4-4.1 1.5-4.2-0.1-3.8-3.7-2.5 2.7-1.6-1.7-3.2-5.5-5.3-5-4.8 1.3-3.2 4.3-2.8-0.5-1.6-5.2-1.2-3.1 1.9-1.9-1.9-4.5-4.1 3.4-2.2 2.2-3.2 3.1 0.9 1.5 5.1 5.4-3.2 3.5 1.9 1.3 4.1 5.4 1.6 0 2.2 2.1 4.1 1.2 3.5 2.7-0.6 3.4-1.3 0.3-1.6-2.2-4.7-4.3-4.1-4.2-3.2 0.3-1.9 3.2-1.2-0.7-2.2 0.2-4.1 1.6-2.8 3.5 1.5 3.9-1.8 1.4-3.8 0.7-4.6-0.3-4.1-0.1-5.2-4.8-6.2-0.9-3.6-3.4-3.3-7.6-2.7-2.9 1.2-3.2-3.6-1.9-5.1 1.5-3.3 1.2-4.4 6.3 0 6.1 0 4.6-0.5 4.2 1.4 3.1-0.3 3.1-0.3-3.9-6.6 5.5 1.3 5.6 1.3-4.8-3.5 2-1 2.1-1 4.6 2.9 0.3 3.2-1.6 2.6-0.8 4.9 0.3 2.4 5 6 8.6 7.5 5.9 4.5 1-3-2.1-2.7 2.7-0.9 0.2-3.9-1.1-1.5-0.8-3.6-8.3-4.8 1.6-0.5-3.8-5.3 3-1.2 5.4 0.3 5.4 0.3-0.3-2.9 1.4-2.3 2-1 1.9-1 5.8 0.6-4.2-2.6-9.1-4.2 2.5 0.3 1.6-1.1M-366.7 -212.6l1.8 0.8 1.8 0.8 1.5 1.8 1.6 1.8 1.6 1.2 1.8 1.2-11.4 4.8-3.6 0.2-1.1-3-2-2.2-8 3.3M129.2 -118.8l4.3 2.2 7.3-0.6-1.5-7-2.8-2.5-1.1-5.6-1.8-2.2-3.6-2.2-1.7-4.1 4.4-2.5-1.2-4.6-5.1-0.7-4.5 1.9-3.1 2.8-1.3 3.1 3.1 4.7 3.1 3.8 4.5 4.4-1.2 4.4zM-13.8 -158.1l5.3-0.6 4.9-1.2 6.7-1.3 0.9-4.8-3.3-0.9-0.7-1.8-2.8-3-0.9-3-2.8-1.5 1.9-4.5-4.1-0.3 1.7-2.6-4.3 0-2 3.2 0.4 3 0.8 3.3 0.9 1.8 3.2-0.3 0.5 2.7 0.4 1.8-3.6 0.3-0.2 1.5 1.1 1.5-2.7 1.5 4.8 1.2 1-0.3-3.7 1.2zM-14.7 -167.8l-0.6 3.3-4.6 1.2-4.1 0.6-0.6-1.8 2.1-3-1-3 3.6-0.9 0.5-2.1 3.1-0.3 3.4 2.4-1.2 1.5zM21 -130.1l3.9-0.4 0.2 6-3.1 1zM21.8 -135.8l2.3-0.3 0 4.7-1.9-0.9zM32.6 -120.4l4-0.3 4-0.3-1 4.7-7-3.1zM62.1 -112.5l7.2 0.7-4.6 1.2zM85.2 -111.2l5.6-1.6-2 2.9zM346.8 -107.7l3.8-1 6.2-0.9 3.6 3.5 1.7-3.5 4.6-0.3 3.2-1.6-0.5-4.1-2.5-5.4 0.1-4.4-4.7-5.7-2.3 1.3 1.5 3.8 1 4.1-0.8 3.4-3.3-0.3 0.3 2.2-0.9 3.5-4.2 0.6-4.2 0-2.3 3.2zM358.3 -131.4l-0.6-2.2-1.7-3.4-1.4-6.6 5.6 3.4 5.8 0 2.9 3.2-3.2 4-5.6-1.5-1.7 0 1.9 2.2zM346.9 -107.4l3.3 2.2 1 4.4-1.3 2.3-2.4-2.9-2.6-3.2 0.9-2.2zM351.1 -107.4l4.9-1 0.5 2.9-2.6 1.6-2.5-1.6zM333.8 -170.8l5.9 3.9 5.9 6 6.1 5.6-1.5 1.2 6 6.5-2.2 2.2-4.4-6.2-4.2-6.2-6-6.1zM330.7 -79.8l1.6 2.2-1.1 7.9-2.8-3.2 0.7-5.7zM299.2 -60.8l4.5-2.9 1.7 1.6-2.2 3.8-2.7 0.3zM222.9 -31l3.9 4.1 1.6 4.7-3 3.2-1.9-0.6-1.1-5.7zM332.4 -58.6l4.4 0.3 0.5 6-0.6 4.8 1.8 3.1 5.4 3.2-2.5-2.5-5.6 0.3-1.4-2.5-2.1-3.2 0.3-3.2zM340.6 -22.8l3.8-4.4 5-3.8 3.6 5.7-0.5 5.3-1.9 1.6-4.3-1.6-1.6-3.8zM345.5 -39.6l3.4 0.9-0.1 6.4-2.1-1zM339.3 -37.4l3.2 1 1.2 6.9-2.3-1.2-1.7-2.6zM326.9 -26.9l5.6-8.9-0.5 3.5-4.2 6zM334.6 -42.5l2.8 0.7-0.5 2.8zM305 -4.8l1.7-1.5 3.9 1.2 1.1-2.8 4.4-2.2 2.6-4.5 2.7-1.2 4.7-6.4 2.6 1.9 4.4 3.8-3.2 2.9-0.3 5.7 3.4 4.7-3.9 1.9-0.3 4.5-3.4 5.7-1 3.8-4.2-1.6-4.1-0.6-3.4 0-4.4-1.6-0.5-4.1-2.7-4.8zM266.3 -17.7l6.2 1.2 3.5 4.5 5.2 5 7.1 5.4 1.4 4.8 2.7 3.1 4.1 3.2-0.9 8.9-3.6 0-5.9-5.7-2.7-4.8-2.7-4.7-4.5-8.6-4.9-5.1-2.9-3.8zM293.7 21.5l4.7-2.5 4.9 2.2 5.2 0.7 1.5-1.6 4.7 1.9 4.5 2.5-0.2 2.9-6.6-1.3-4.1-1-4.1-0.9-6.9-1zM335.3 -2.5l2.8-1.6 6.1 0.9 5.6-1.9-1.3 3.8-4.9-0.1-4.9-0.2-2.3 4.5 3.6 0 5.1-0.4-3.7 3.2 2 7 0.3 4.7-3.2-2.5-2-6.3-1.7 0.9-0.4 7.9-2.5 0 0.3-6.3-1.8-2.5 2.9-8zM366.6 2.5l4.2-1.2 4.2 1.2 0.5 5.4 3.5 2.6 5.8-5.4 4.8 1.6 4.9 1.5 4.8 1.9 4.8 1.9 3.9 5.4 4.9 1.6-0.2 2.2-2.3 1 3.7 6.3 5.1 4.4-6.9-0.6-2-2.2-1.8-2.2-3.9-3.2-4.3 2.2-1.6 2.2-5.6-0.3-5.3-3.5-2.8 1-0.3-3.5 2.6-1.3-1.7-4.1-6.8-3.5-6.9-1.2-0.4-3.8 2.9-1.6-5.1-0.3zM344 32.6l4.5-4.1 5.8-1.9-4.5 3.5zM323.6 26.6l4.2-0.6 4.1 0.6-2.9 1.6-5.5 0zM334.2 26.9l4.7-0.3 4.2-0.3-2.9 1.9-6.1-0.3zM331.7 29.8l4.9 1.9-3.6-0.7zM356.8 -3.2l1.3-3.8 2.1 2.2-1.9 6.4zM358.1 9.5l7.8 1-5.1 0.6zM352.4 10.1l3.4 0.4-2 1.5zM415 17.4l5.6-0.9 5-3.2-2.3 4.4-5.7 2.3zM421.9 8.2l5.5 2.9 0.3 3.5-1.8-3.2zM432.3 17.4l3.3 4.1-2.1-1.5zM438.3 23.1l4 1.6 3.4 2.2-3.5-1.6zM445.5 29.5l3.1 1.9-2.8-0.4zM448.3 26.6l1.8 3.8M461.6 47.5l1.2 2.6-1-0.7zM450.7 64l3.5 2.5 3.1 4.2-3.7-1.9zM489.4 55.4l3.5 0.7-2.1 1.6zM494.8 52.9l3-1.3M310.9 69.7l1.8-0.6 0.7 2.2 7.4-6 5.1-1 8.7-4.1 2.5-3.2 0.7-2.5 3.2 0.3 3.5-4.1 5.1-6.3 4.2 0 1.7 3.1 3.4-0.3 1.5-4.4 3.2-3.5 4.8-1 0.3-2.2 6.6 2.6 5 0-2.7 4.1-2.1 4.7 4.8 3.8 4.8 4.1 3.6 0 3.7-7.9 1.4-7.9 3-5.7 1.9 6.7 0.1 5 3.8 1.9 0.4 7.9 1 5.7 4.9 3.2 0.7 5.4 2.4 4.8 3.8 5.7-1.3 6.6 0 3.8-4.7 7.6-8.7 8.9-6.4 7-3.1 4.7-6 1.3-6.5 3.7-2.1-2.2-4.7 1.3-5.4-1.9-1.1-3.8 1.1-3.8-2.4-0.6 1.2-2.5 1.3-7-4.5 8.2-3.4-1.2-1.4-5.7-1.5-2.9-6-1.9-5.5 0.6-4.4 1-4.4 0.9-6.2 2.3-2.4 2.8-4.3 0-5 0-6.7 3.5-5-0.6-1.8-1.6 0.7-2.6 3.6-4.7 0.2-6.4 0.1-3.8-0.2-3.1-0.5-5.7 0.2-3.2 1.2-4.7zM371.9 128.9l3.8 1.2 5.1-0.6-2.6 3.5-3.5 3.7-4.2 1.3-0.8-2.5 0.8-3.2zM456.8 109l2.2 3.5-1.3 4.1 3-0.7-1.2 3.5 6 0-5 4.8-3 1.2-5.1 4.4-4 1.9-0.8-0.9 3.6-3.2-1.3-3.1 4.7-3.5 2.5-4.7-1-4.8zM444.3 128.3l2.3 2.5-2.5 2.2-6.3 4-0.8 1.6-5.5 1.6-5.6 4.9-6.1 2.2-1.7 0-3-1.9 3.3-3.1 6.3-3.1 6.7-3.1 5.8-3.1 4.2-3.2zM137.1 38l1.1 5.6 1.1 5.5-3 7.9-2.5 7.2-2.4 7.1-3.4 7.9-5 1.6-3.6-6.3-0.7-5.4 3.1-5.7-0.3-8 4.4-4.7 2.3-1 5.1-6.9zM-289.7 248.9l1.8-0.2 1.7-0.3 4.7 0.2 2.2-0.5 2.2-0.5 4 0.6 3.9 0.6 5.1 0.4 5.1 0.4 3.8 0.2 3.7 0.2 3.6 0 3.6-0.1 3.6 0 5.1 0.4 3.2-0.4 3.2-0.5-1.1-0.6-3.3-0.1-3.4-0.1-3-0.2-2.9-0.1-3.1-0.7-5.8-0.7-2.1-1.3-3.1-1.5-6.8-1.2-3.9-0.6 3.9-0.1 3.9-0.1 3.7 0.6 1.6-0.6 1.6-0.6-0.3-0.8-2.4-0.9-6.9-1.1-3.9-0.2-3.9-0.2-3.8-0.3-3-0.9-6.9-1.6-5.8-2.6 4.8 0.3 4.7 0.2 2.3-0.6 2.3-0.6 2.1-0.6 2.2-0.6-0.1-1.5 4.3-0.3 4.3-0.4 3.4-0.9 3.4-0.8 3.6-0.2 3.6-0.1 2.3-1 2.4-1 4.1 0.1 4 0.1 4 0.1 3.5 0.5 3.5 0.5 2.7-0.2 2.7-0.1 5.6 1.5 3.2-0.5 5.4 0.9 5.4 0.9 3.5 0.2 3.5 0.3 4.5 0 0.1-1.3-3.9-1.5-0.9-1.7-5.2-1.3-1.5-2.1 3-0.1 3-0.1 6.8 1.8 4.8 0.5 4.7 0.5 3.4-0.5 3.5-0.5 4.5 0.7 3.7-0.2 4.1 0.8 4.1 0.7 4.2-0.5 4.2 0.5 3.2-0.5 3.2-0.5 3.5-0.3 3.5-0.2 1-2.8-2.8-2.4-2.3-2.6-1.8-1.3 0-3.5 0.5-2.4 0.7-2.8 2-2.2 2.2-1.7 3.5-1.9 2.5-1.4 3-0.6 1.2 1.1-3.4 1.2-2.9 0.5-0.8 2.8-0.7 2.8-2.5 1.1 0.1 4.3 5.4 2.2 4.4 4.4 4.4 3.9 3 2.6-1.7 2.5-2 1.2-2.1 1.2-3.6 1.3-3.5 1.2-3.7 0.2-3.6 0.3-3.7 0.2-0.3 2.8 3.6 2.1 5.8 1.2 5.6 1.2 5.8 1.3 5.7 1.2 5 1.1 4.9 1.1 4.5 0.6 4.4 0.7 3.7-0.4 3.7-0.5 3.8-0.4 3.6-0.3 3.6-0.4 3.6-0.3 3.7-0.5 3.8-0.5 3.8-0.6 3.8-0.4 3.9-0.4 3.8-0.4-2.5-2-4.4-1.1-4.5-1.1 3.5-1.2 3.6-1.1 4.4-1.7 2.8-0.7 2.8-0.7 2.5-0.9 2.6-0.9 2.7-0.6 2.7-0.6 3.4-2.2 1.6-2 3.6-1.3 3.7-2.1 2.5-1 5.2-1 3-0.3 3-0.3 3.9 0.3 4 0.3 4.3-0.8 4.3-0.8 3.7-0.4 3.7-0.4 4.1-0.1 4-0.2 4-0.2 4.1-0.3 4.5 0 4.5 0 3.5 0.4 3.4 0.4 3.2-0.7 3.1-0.6 4.2-0.5 4.2-0.6 3.8-0.9 3.8-0.9 3.7 1.3 4.2 1.3 2.9-1.3 4.7-1.6 5.1-1 5.2-0.9 5.4-1.6 2.5-0.9 5.3-2.7 5-0.3 4.2 0.8 2.1 1.4 3.8 1.7 4.5 1.6 5.2-0.5 6.2-0.3 1.8 2.4 0.6 2.4-5.6 3.2-1.8 3.4 5 0.7 3.7-3.1 4.3-2.6 5.7-1.8 4.5-1.5 4.5-1.5 5-1.1 4.9-1.3 6-0.9 5.4-0.8 1.5 1.4 5.6-0.6 5-1.1 2.9 1.7 6 0 6.4-2.5 6.1-2.2 2 1.4 2 2.7 4.1-0.6 4.2-0.7 5.4-1.4 4.2 0.3 3.2 1.9 3.2 1.4 6.2-1.4 3.5-0.1 3.4-0.2 6.7-0.8 3.5-0.3 3.4-0.3 3 0.2 3 0.1 6.5-0.5 1.7-2-0.2 2.5 0.1 1.9 3.5-0.2 3.6-0.3 3.5 0.5 4.2 0 1 2.2 2.2 1.1 2.9 0.5 2.8 0.6 2.8 0.3 2.8 0.2 3.4 1.9 1.7 0.9 1.6 0.9 2.5 1.1 3.6 0.3 2.8 0.7 3.9 0.3 1.8 2.1-5.1 1.5-4.1 1.3-8.5 2.8-7.1 2.2-6.1 2.7-8.8 2.9-2.2 1.6 1.4 1.2-6.2 1.1-6.9 1.3-8.1 2-1.1 2.2-2.9 1.8 2.7 0.7 2.8 0.7 1.2 0.7 1.3 0.6 2.4 0.3 2.3 0.3 2.3 0.4 2.8 0.1M-89 239.6l1.8-1.3 1.8-1.4 3.7 0.4 3.8 0.3 2.3 2.4-2.8 0.4-2.8 0.5-3.9-0.7zM-146 213.7l6.6 1.8 4.8 5.2-4.8 1.3-4.1-1.7-4.2-1.6zM-291.4 236.9l3.5-0.4 6 1.3 0 1.3-6.3-1.3zM-235.1 224.3l3.2 0.3 3.2 0.2-1.6 1zM-245.4 223.8l6.1 1-1.9 0.8zM-130.1 194.3l2.9-0.8" fill="none" stroke="#000" stroke-width="1.15" stroke-linejoin="round" stroke-linecap="round"/>
</defs>
<rect width="3121" height="1470" fill="#fff"/>
<text x="1560.6" y="37.6" style="font-size:29.17px;font-weight:bold;text-anchor:middle">Mean Sea Level Pressure — Variability (STD)</text>
<g transform="translate(517.50 387.85)">
<g clip-path="url(#rc)"><g filter="url(#bl)"><rect x="-540" y="-290" width="1080" height="580" fill="#fffbc3"/>
<path fill="#fff9bc" d="M-516 -268l1032 0 0 235-42-1-72-7-24 0-84 8-132 5-54 12-18 2-24 1-18-1-36-6-36-3-36-5-18-2-78 5-60 1-120-4-72-4-108-1 0-229zM-243 20l51-2 36 0 30 5 48 14 12 2 12 2 48 0 12 0 6-2 36-18 6-2 12-1 18 1 18 3 12 3 36 12 8 1 10 2 25-2 71-9 42-5 36-2 30 0 24 1 24 4 66 13 12 1 18 0 0 231-1032 0 0-232 12 1 18 0 54-2 186-18z"/>
<path fill="#fff6b6" d="M-516 -268l1032 0 0 218-36-1-30-2-31-5-23-1-24-1-24 0-30 2-30 4-24 2-102 1-18 3-24 10-16 4-14 3-12 0-30 0-60-4-18-4-36-9-12-2-180-2-84 0-66 2-108-1 0-211zM309 38l39-3 30 1 30 4 36 11 24 5 18 2 30 0 0 214-1032 0 0-215 36 1 66-2 90-5 90-8 66-3 12 1 12 2 48 12 12 2 18 1 66 0 12-1 24-7 18-7 12-2 6 0 18 2 25 7 23 6 18 2 18 0 25-2 23-2 84-15z"/>
<path fill="#fff3b0" d="M-516 -268l1032 0 0 209-42 0-66-9-48-4-30-1-18 1-36 5-24 2-72-1-30 1-18 3-36 11-12 1-84 1-12-1-32-8-16-2-108 1-18-1-30-4-42-2-78 0-42 6-24 1-114 0 0-203zM330 50l24-1 18 0 18 3 36 8 18 3 30 3 42 0 0 206-1032 0 0-207 60 1 78-1 138-5 48-2 36 1 48 6 30 2 78 0 18-1 36-8 12-1 18 1 48 6 24 1 24 0 61-3 35-4 48-7z"/>
<path fill="#fff1a9" d="M-516 -268l1032 0 0 203-30 0-18-1-54-9-78-10-12 0-42 7-30 3-24 0-60-4-90 1-18 1-66 8-54 1-42 3-72-1-12-1-30-7-42-4-18-1-54 0-48 12-24 2-96 0-18-1 0-196zM52 68l14 0 66 3 66 1 72-2 96-6 18 1 30 4 24 2 36 1 42 1 0 199-1032 0 0-200 210-1 72 1 36-2 101 4 97 1 18-1 30-5z"/>
<path fill="#ffeea3" d="M-516 -268l1032 0 0 198-30 0-24-2-48-8-42-6-36-8-12-2-6 1-18 7-12 4-24 2-24 1-24-1-18-2-36-8-43-8-41-1-30 2-36 12-42 9-72 8-54 0-18-1-12-2-29-9-19-2-42-9-6-1-42 4-48 16-24 4-12 1-84-1-24-1 0-191zM-516 80l0-2 234 1 60 3 12 2 12 5 6 2 22-5 38-3 60-1 84 0 54-4 114 0 198-1 138 1 0 194-1032 0 0-186z"/>
<path fill="#ffec9d" d="M-516 -268l1032 0 0 194-36 0-24-3-24-5-60-8-42-13-12-1-6 2-11 8-7 4-18 4-24 2-36-2-24-5-30-12-10-3-26-6-24-1-48 0-12 1-36 16-30 10-48 8-30 4-48-1-24-1-68-18-10-3-18-9-6-1-12 0-30 7-6 1-18 10-12 4-24 7-18 4-12 0-84 0-24-2 0-186zM-516 86l0-3 6 0 192-1 72 3 18 2 12 5 6 4 15 14 3 2 6 1 10-3 26-13 12-5 18-3 30-2 36 0 48 0 24 2 30 2 6 0 30-5 18-2 168 0 60 2 48 5 24-5 18-2 96-1 0 189-1032 0 0-180z"/>
<path fill="#ffe997" d="M-516 -268l1032 0 0 190-42 0-78-11-30-7-36-13-12-3-6 1-11 11-7 5-12 5-12 2-18 1-36-2-12-3-12-4-32-16-28-6-18-2-12 0-48 0-17 2-16 6-33 16-18 7-24 5-48 6-24 0-30-1-12-1-18-4-42-11-18-8-18-12-6-2-6-1-12 1-30 9-18 11-12 6-24 8-18 4-18 1-84 0-24-1 0-183zM-516 86l198 0 48 1 30 2 6 1 12 4 6 4 18 17 6 3 6 2 6-1 10-3 15-6 17-10 12-4 18-2 30-2 36-1 48 2 18 3 24 7 6 0 6-1 24-9 18-3 96-2 78 0 24 1 30 4 12 3 24 7 6 0 6-1 24-10 18-4 36-2 60 0 0 186-1032 0 0-180z"/>
<path fill="#ffe691" d="M-516 -268l1032 0 0 187-30 0-24-2-60-8-30-7-12-4-24-10-18-5-6 0-6 2-12 15-12 7-12 2-12 1-30-1-18-2-12-4-30-17-8-4-33-6-25-1-54 1-12 2-14 4-14 6-32 16-12 4-30 6-36 5-42-1-30-3-42-11-10-4-10-6-17-12-11-6-6-1-12-1-10 2-26 11-18 12-12 6-18 7-18 4-12 2-18 1-78 0-24-2 0-179zM-516 92l0-3 102-1 108 0 54 3 12 2 12 3 12 7 18 15 12 6 6 1 25-9 17-9 12-5 24-4 30-3 36 0 42 3 12 3 24 8 6 2 6 0 6-1 24-12 18-4 102-2 72 0 24 2 24 4 12 3 24 9 6 1 7-1 29-14 18-5 36-2 60 0 0 183-1032 0 0-174z"/>
<path fill="#fee38b" d="M-516 -268l1032 0 0 185-48-1-54-7-24-5-18-6-42-17-18-3-6 1-5 3-7 12-6 6-6 3-10 3-14 2-24-1-18-2-12-3-13-8-17-11-12-5-42-6-18-2-54 3-18 3-19 6-14 6-15 10-12 5-30 8-36 5-24 0-18 0-36-5-36-9-6-2-9-6-21-15-12-8-6-2-12-3-6 0-6 2-30 15-18 13-12 6-18 7-18 4-18 3-24 0-66 1-24-2 0-177zM-516 92l6 0 96-1 96 0 36 1 36 3 12 2 6 2 6 4 17 13 7 5 12 7 6 1 6-1 24-9 24-12 24-5 30-3 30 0 42 3 12 2 24 8 12 3 6 0 6-1 10-4 20-9 18-3 102-3 66 0 18 2 24 4 12 4 18 6 18 3 6 0 11-4 19-10 18-6 36-2 60-1 0 181-1032 0 0-174z"/>
<path fill="#fee085" d="M-516 -268l1032 0 0 182-48 0-42-5-18-4-12-2-18-6-42-17-12-4-12-2-6 0-7 2-5 6-5 12-8 6-5 3-18 3-24-1-18-3-12-4-6-4-18-13-12-6-42-6-24-2-36 1-26 2-22 6-16 6-12 6-14 9-18 7-18 4-18 3-24 3-30 0-42-6-31-8-12-6-17-16-12-8-18-9-12-2-6 1-30 16-30 20-18 8-18 5-24 4-24 1-66 1-24-2 0-175zM-516 98l0-4 102-1 102 0 48 2 24 4 12 4 28 19 14 9 6 2 6-1 48-20 6-2 30-5 24-3 30 1 36 3 12 2 26 8 16 2 12-2 30-13 12-1 102-4 60 0 18 1 12 3 24 5 24 8 7 1 11 1 6 0 6-2 30-15 18-4 30-2 60 0 0 178-1032 0 0-168z"/>
<path fill="#fedd7f" d="M-516 -268l1032 0 0 180-6 0-30 0-18-1-30-3-24-4-24-8-48-20-18-5-12-1-6 0-6 3-4 3-7 18-9 6-16 4-18 0-18-4-17-6-19-16-6-4-6-2-12-2-60-6-24 0-30 2-18 4-18 6-17 6-19 12-12 5-30 8-30 4-36 1-12-1-30-6-19-5-11-3-4-3-7-6-10-12-9-7-18-11-12-4-6-1-6 0-12 6-12 8-18 10-18 13-12 6-18 8-18 5-18 2-30 1-60 0-24-1 0-173zM-516 98l0-1 6 0 36 0 66-2 96 0 48 3 18 2 12 3 12 7 18 12 18 12 6 2 6 0 42-18 12-4 30-5 24-3 30 0 30 3 12 2 30 8 18 1 18-3 24-10 12-2 102-3 60-1 24 3 48 13 24 2 14-3 28-13 18-5 30-1 60-1 0 176-1032 0 0-168z"/>
<path fill="#feda79" d="M-516 -268l1032 0 0 179-12 0-24 0-18-1-48-7-24-7-42-19-12-5-18-5-12-1-12 0-6 1-5 3-2 6-1 12-3 6-7 5-4 1-8 2-18-1-12-2-14-5-7-6-9-13-4-5-8-3-36-2-48-4-24 0-30 2-18 4-12 4-18 7-36 19-30 8-30 4-36 1-12-2-35-8-20-6-8-6-15-20-12-9-18-9-6-1-12-1-6 1-6 2-30 19-30 21-18 8-18 6-24 4-24 1-66 1-24-2 0-171zM-455 98l47-1 96 0 30 1 24 3 24 5 6 3 20 13 22 14 6 3 6 0 18-8 30-12 36-6 24-3 24 0 24 1 24 3 30 7 18 1 18-2 24-9 12-2 102-4 60-1 18 2 54 13 12 2 12 0 18-4 24-11 12-4 6-1 30-2 60-1 0 174-1032 0 0-173 60 0z"/>
<path fill="#fed673" d="M-516 -268l1032 0 0 177-18 0-36-1-48-7-24-7-30-15-24-10-24-7-18-2-24 1-5 3 8 24-2 6-7 4-6 2-6 0-12-1-16-5-8-5-1-7 0-6 3-6 4-3 12-4 17-5-17-4-12-1-24 2-24 6-12 1-18 0-30-3-12-1-26 0-34 4-12 2-18 6-18 8-30 16-24 8-18 4-18 1-24 2-12-1-12-2-30-8-18-6-6-4-5-6-11-18-8-7-6-5-11-6-7-1-18-2-12 2-6 3-54 37-24 12-18 6-24 4-24 2-60 0-30-2 0-169zM-516 104l0-2 6-1 42 0 60-2 96 0 36 2 25 3 17 5 21 13 33 19 6 1 6-2 12-7 36-12 54-8 18 0 24 2 30 3 30 6 18 0 17-2 25-7 12-2 48-2 54-3 54-2 18 2 36 8 24 5 12 2 12 0 18-4 30-13 12-3 30-2 60-1 0 172-1032 0 0-162z"/>
<path fill="#fed16d" d="M-516 -268l1032 0 0 175-18 1-36-1-30-4-18-3-12-4-12-5-36-19-30-11-24-7-24-3-24-5-6 0-48 5-9 1-15 5-18 2-54-3-56 2-16 4-18 6-18 8-30 16-24 8-12 3-18 2-30 2-12 0-12-3-31-10-13-6-7-6-12-24-11-12-10-6-12-2-12 0-12 1-12 3-6 3-54 38-24 12-18 6-18 3-30 3-60 1-30-3 0-167zM229 -124l5-3 6-1 6-1 6 1 6 3 6 8 3 5-2 6-7 3-6 0-19-3-8-6 0-6 3-5zM-516 104l114-3 90 0 36 2 24 4 18 5 17 10 19 10 18 11 6 2 6-2 12-7 30-11 36-5 24-3 18 0 18 1 30 2 36 6 18 0 18-2 30-7 54-3 54-3 54-2 18 2 23 5 33 6 16 2 12 0 18-3 30-13 12-2 30-2 30 0 30-2 0 170-1032 0 0-162z"/>
<path fill="#fecb67" d="M-516 -268l1032 0 0 174-24 0-18 0-18-1-42-7-18-6-12-6-30-18-54-22-12-3-42-3-12 1-18 5-24 4-30 7-18 0-48-3-42 2-18 2-24 8-48 23-24 9-12 3-18 2-30 2-12 0-16-5-32-13-6-5-4-6-8-19-6-11-4-6-8-6-6-1-12-1-24 2-12 2-6 2-6 4-42 32-12 8-24 11-18 6-24 4-24 2-60 1-30-2 0-166zM237 -118l3-2 6-1 6 1 4 2 4 6-2 4-6 3-6-1-11-6zM-440 104l38-1 90 0 24 1 18 2 21 4 15 5 24 13 12 6 18 11 6 2 6-1 12-7 10-5 26-8 54-5 30 0 42 3 30 4 18 0 18-2 30-6 54-2 54-5 54-1 12 1 54 10 30 3 12-1 12-2 30-12 12-3 30-2 30 0 30-1 0 167-1032 0 0-165 72-2z"/>
<path fill="#fec661" d="M-516 -268l1032 0 0 172-24 1-18 0-18-2-30-4-18-5-18-7-36-22-26-13-28-14-12-4-12-1-30 2-12 1-24 8-18 3-24 6-12 2-12 0-48-2-36 1-24 2-10 2-14 5-48 24-30 11-12 2-24 3-18 1-12-1-12-3-23-12-9-6-6-6-3-6-8-24-5-10-10-8-8-2-6 0-30 3-18 4-6 2-48 37-12 8-24 11-18 6-24 5-24 2-60 1-30-3 0-164zM-516 110l18-1 36-1 60-3 90 0 24 2 27 3 27 9 36 17 18 11 6 2 6 0 18-11 12-5 12-3 54-6 36 0 36 2 30 3 24 1 18-1 30-5 54-3 66-5 42-2 12 2 30 5 30 5 24 2 12-1 12-3 30-11 12-2 24-2 36-1 30-1 0 165-1032 0 0-156z"/>
<path fill="#fec05b" d="M-516 -268l1032 0 0 171-24 0-18 0-18-1-30-5-18-4-18-8-36-24-24-12-25-15-17-6-12-1-21 1-21 4-24 10-36 8-18 3-12 1-30-2-24 0-32 0-22 3-16 3-8 3-48 24-30 11-24 4-36 2-10-2-8-3-23-15-7-6-4-6-4-12-5-24-5-6-12-6-12-2-24 3-30 6-12 8-48 38-6 4-18 7-24 9-24 5-24 2-60 1-30-3 0-162zM-457 110l61-3 84 0 30 3 24 5 24 7 36 15 24 14 6 1 19-12 14-6 9-2 12-2 42-3 30-1 96 5 24-2 24-3 60-3 42-4 60-2 12 1 23 4 37 5 24 2 12-1 12-2 30-10 12-2 24-2 36-1 30-2 0 163-1032 0 0-159 18-1 36-1z"/>
<path fill="#feba55" d="M-516 -268l1032 0 0 170-30 0-18-1-18-1-29-6-13-3-12-5-12-7-30-21-41-24-19-8-12-3-6-1-42 5-6 2-12 7-10 4-44 11-18 1-54-1-42 1-12 1-24 6-42 22-36 13-18 4-42 3-12-3-7-4-21-18-5-6-5-12-1-6-2-18-2-6-5-5-6-3-8-4-10-1-24 3-30 6-6 2-12 9-48 39-12 6-36 14-24 5-24 2-60 1-24-2-6-1 0-161zM-423 110l27 0 84 0 17 0 13 2 24 6 30 9 30 12 24 14 6 1 6-2 18-12 12-5 12-3 24-2 48-1 102 3 42-3 60-3 66-5 36-2 18 2 55 7 29 2 19-2 35-9 12-2 24-2 36-1 30-3 0 161-1032 0 0-155 18-2 42-2 30-2z"/>
<path fill="#feb54f" d="M-516 -268l1032 0 0 168-30 1-18-1-24-3-24-4-18-6-18-10-36-26-28-17-26-11-12-3-6-1-34 3-14 3-14 9-10 5-42 11-18 1-60-1-36 1-17 1-22 6-39 21-36 14-18 3-42 3-12-3-6-4-16-16-4-6-3-6-5-12-2-24-3-6-3-2-6-4-12-5-6 0-24 2-36 8-6 2-6 5-54 44-18 9-30 11-24 5-24 2-60 2-24-3-6-1 0-159zM-463 116l61-4 90 0 18 2 24 4 48 13 24 9 24 15 6 1 6-2 22-14 8-3 12-3 24-2 48-1 84 2 24 0 42-3 53-2 49-4 54-2 18 1 42 5 42 3 26-3 28-7 18-2 84-5 0 158-1032 0 0-152 18-2 30-1z"/>
<path fill="#feaf4b" d="M-516 -268l1032 0 0 167-30 0-18 0-24-3-24-5-18-6-18-9-36-28-22-14-26-12-12-4-12-2-12 1-36 5-6 3-12 9-6 3-42 12-18 1-42-2-30 1-30 1-18 2-18 6-18 10-24 12-30 11-12 2-12 2-36 2-10-3-8-6-15-18-5-12-2-6-3-24-2-6-3-4-6-5-6-3-6-2-12-1-30 3-24 5-6 3-12 8-54 45-18 8-30 11-24 5-24 3-54 1-24-2-12-2 0-157zM-425 116l29-1 78 0 18 1 12 1 60 14 24 8 12 6 18 11 6 2 6-1 27-17 9-3 12-2 60-3 108 3 108-5 60-5 36-1 18 1 28 3 56 4 24-2 24-5 12-2 96-6 0 155-1032 0 0-148 90-7z"/>
<path fill="#feaa49" d="M-516 -268l1032 0 0 165-30 1-18-1-23-3-25-5-18-6-18-9-36-29-16-11-20-10-12-5-12-3-12-2-26 2-22 4-6 2-18 13-30 10-18 3-12 1-42-2-36 1-24 1-24 3-12 5-18 10-24 12-30 10-12 3-12 1-24 2-12 0-6-1-8-6-14-18-3-6-4-12-3-24-1-6-3-6-6-5-6-4-7-3-11-1-18 1-18 3-18 3-12 5-66 54-18 9-24 9-24 6-24 3-60 2-24-2-12-3 0-155zM-470 122l74-4 84 0 18 2 60 12 30 9 12 5 18 12 6 2 6 0 3-2 28-18 11-3 6 0 60-3 114 2 198-11 78 7 24 1 18-1 42-6 96-7 0 153-1032 0 0-146 42-3z"/>
<path fill="#fea546" d="M-516 -268l1032 0 0 164-30 0-18 0-18-2-30-6-18-6-12-6-8-6-34-28-18-12-18-9-12-5-12-3-12-1-18 1-36 6-7 3-6 6-10 6-25 9-18 4-12 1-48-2-42 1-18 2-23 3-13 6-18 10-18 9-30 10-12 3-18 2-24 2-6-1-6-2-6-5-8-10-7-12-3-12-3-24-4-12-4-6-7-5-12-4-6-1-18 1-18 2-30 6-12 8-24 22-36 29-12 6-30 11-24 6-24 4-60 1-22-2-14-3 0-153zM-428 122l32-1 60 0 30 0 24 3 42 8 36 10 12 5 18 12 6 3 6 0 6-2 30-19 12-3 60-2 114 1 192-10 18 1 72 5 18 1 60-6 42-3 54-3 0 150-1032 0 0-143 48-4 36-2z"/>
<path fill="#fea044" d="M-516 -268l1032 0 0 162-30 1-18 0-18-3-30-6-18-6-18-10-8-6-28-25-18-12-18-9-12-4-12-3-12-2-16 1-38 7-11 5-6 6-7 5-24 9-12 3-18 2-42-2-30 1-24 0-18 2-21 4-45 24-30 9-12 3-18 2-24 2-6-1-6-3-5-6-5-6-6-12-4-12-2-18-2-12-2-6-3-6-6-6-7-3-6-3-12-1-30 2-30 5-6 3-12 8-24 23-36 29-18 8-24 9-30 7-18 2-54 2-24-1-18-5 0-151zM-479 128l17-2 66-3 84 1 18 1 48 8 18 4 24 7 12 4 24 16 6 1 6-3 30-19 6-2 6-1 60-2 54 1 66 0 132-8 54-2 18 0 72 5 18 1 48-5 108-6 0 148-1032 0 0-142 36-1z"/>
<path fill="#fd9a42" d="M-516 -268l1032 0 0 161-36 1-18-1-18-3-24-5-18-6-18-10-12-11-24-22-18-12-12-6-12-5-18-5-12-1-18 2-36 6-5 1-7 4-12 10-24 10-12 4-18 2-42-1-48 0-18 1-12 2-19 4-35 19-18 8-30 7-24 3-18 0-6-1-7-6-5-6-7-12-3-12-2-24-6-18-5-6-8-6-11-3-6 0-24 1-24 2-18 4-6 2-12 9-24 24-36 29-18 8-18 7-24 6-30 5-54 2-12-1-12-1-18-5 0-149zM-462 128l72-3 72 1 24 1 24 4 30 5 36 9 12 5 24 15 6 2 8-3 16-9 12-9 6-2 6-2 18-1 42-1 54 1 72-1 48-2 78-6 54-2 18 0 72 6 18 0 48-4 108-6 0 146-1032 0 0-141 48-2z"/>
<path fill="#fd953f" d="M-516 -268l1032 0 0 159-36 1-18-1-18-3-24-5-18-6-12-6-9-7-33-30-12-9-12-8-12-5-12-4-12-2-12-1-18 2-42 8-6 3-13 10-5 3-21 9-9 3-12 2-72-1-36 1-14 1-16 3-9 3-39 21-12 4-30 7-24 3-18 0-6-2-6-6-6-8-3-7-3-12-2-24-2-6-4-12-3-6-7-6-6-2-12-3-6-1-18 1-24 3-19 2-11 4-12 9-23 23-31 26-6 4-12 6-24 9-30 8-24 3-48 2-24-1-24-6 0-147zM-102 -204l-1 2 1 1 4-1zM-419 128l35 0 78 1 36 3 36 7 36 9 6 3 24 15 6 3 6-1 7-4 29-18 6-1 18-2 48-1 42 1 78 1 120-10 60-3 24 1 66 5 18 0 48-4 36-1 18-2 54-2 0 144-1032 0 0-139 96-4z"/>
<path fill="#fd903d" d="M-516 -268l1032 0 0 158-36 1-18-1-18-3-30-7-12-4-10-6-9-6-35-33-24-17-18-7-18-3-12-1-18 1-42 9-8 3-14 12-20 10-12 4-18 2-48-1-48 1-24 2-12 2-12 4-36 20-12 4-24 6-18 2-18 1-12-1-6-3-4-5-4-6-5-12-3-12 0-18-2-6-6-18-5-6-12-6-19-1-32 1-34 5-6 2-12 10-24 25-30 25-8 5-10 5-24 9-30 7-24 4-48 2-24-2-12-2-12-4 0-145zM-102 -210l-5 8 5 5 6-2 6-3 1-6-1-1-6-4zM-516 134l42-1 18-2 60-2 78 1 30 2 48 7 42 10 6 3 24 16 6 3 6-1 6-2 12-6 12-10 6-3 6-2 12-1 60-2 70 2 50 4 24 1 12-1 6-2 14-8 61-6 33-1 42-1 84 7 18-1 32-4 40-1 18-2 54-1 0 142-1032 0 0-132zM132 168l-3 2-1 6 4 5 6 0 5-5 2-6-1-1-6-2z"/>
<path fill="#fd893b" d="M-516 -268l1032 0 0 156-36 1-18-1-18-2-24-6-18-6-8-4-9-6-31-31-18-15-12-8-6-3-12-4-12-1-18-1-18 1-42 9-12 6-15 11-11 6-16 7-12 2-78-1-30 1-18 2-12 2-12 4-36 19-12 5-24 5-12 2-18 1-12-1-6-1-6-5-7-12-4-12-1-6-1-18-1-6-9-24-9-6-10-2-12-1-42 2-30 4-6 2-6 3-6 6-26 28-28 24-18 10-24 9-30 7-18 3-54 2-12 0-12-1-12-3-12-4 0-143zM-102 -214l-8 12 1 6 1 2 6 0 6-2 10-6 2-6-1-6-5-3-6 0zM-472 134l16-2 66-1 72 1 30 1 54 9 36 9 12 6 18 12 6 3 6 1 8-3 10-5 18-13 6-2 6-1 24-2 36 0 60 2 18 2 14 1 22 6 18 8 13 10 2 6 1 12 2 5 2 1 28 1 16-1 11-30 0-6-2-6-7-12 6-6 42-4 48-3 30 1 60 5 18 1 54-4 36-1 18-3 54-1 0 141-1032 0 0-136 42-1z"/>
<path fill="#fd8038" d="M-516 -268l1032 0 0 154-36 2-18-1-18-3-30-7-17-7-13-8-36-38-18-15-6-4-6-3-6-2-30-2-12 1-12 1-47 10-11 6-15 12-10 6-17 6-14 2-48-1-48 1-24 2-12 2-12 4-36 19-12 4-30 6-18 2-12 0-6-1-7-4-5-6-3-6-6-18-2-24-4-12-3-12-5-6-7-2-12-2-12-1-24 1-48 5-6 1-7 4-26 30-6 6-21 17-19 13-23 10-24 6-30 5-48 3-24-1-18-4-12-4 0-141zM-96 -220l-6 3-3 3-3 5-3 7-2 6 5 4 6 0 12-4 7-6 1-12-1-6-1 0-6-1zM-463 134l49-2 48 0 60 2 30 2 42 7 36 9 12 6 18 12 6 4 6 1 6-1 10-4 8-5 12-10 6-3 6-1 18-1 36 0 72 3 24 5 14 6 10 7 9 5 5 6 8 18 8 5 6 1 24-1 18 1 12-2 11-4 2-6-2-12 1-18-3-18 5-6 52-5 36-1 18 1 62 5 10 3 6 0 15-3 33-2 42-2 12-2 60-2 0 140-1032 0 0-134 48-2z"/>
<path fill="#fd7736" d="M-516 -268l1032 0 0 153-42 1-18-1-24-4-18-5-18-8-6-4-7-6-17-19-28-29-2-4-2-2-1-6-21-2-48 1-48 10-12 5-7 4-15 12-10 6-16 6-12 1-48-1-48 1-24 2-18 4-13 5-29 15-12 5-24 5-18 2-18 0-7-3-5-3-2-3-6-12-4-12-1-6 0-18-5-12-4-18-2-1-12-4-18-1-30 1-48 4-6 1-10 6-24 30-13 12-25 19-12 6-18 8-24 6-30 5-48 2-24-1-18-4-12-4 0-139zM-102 -220l-6 8-5 10-2 6 1 5 6 2 18-5 6-5 2-3 5-18-1-2-6-3-12 2zM-438 134l48-1 54 1 36 1 30 4 36 6 36 8 12 6 24 16 6 2 7-1 11-3 6-3 12-11 6-4 12-2 54 0 60 3 12 3 6 2 8 3 18 12 10 10 12 14 9 6 15 2 54-1 7-1 14-6 3-6 0-6-3-12-1-30 6-6 40-4 30-1 18 1 42 3 11 1 7 6 6 8 6 1 6-1 17-8 22-6 51-2 18-3 60-1 0 138-1032 0 0-133 42-1 18-3 18 0z"/>
<path fill="#fc6e33" d="M-516 -268l1032 0 0 152-42 1-18-1-30-6-18-6-15-8-7-6-14-16-24-26-3-6 4-6 0-6-13-4-18-2-54 4-16 2-38 9-12 6-20 15-10 6-12 5-12 1-48-1-48 1-24 2-20 4-26 12-14 8-12 5-33 5-15 2-6 0-7-2-5-2-4-4-4-6-7-18-1-6 1-18-7-18-2-12-6-6-18-2-12 0-30 1-48 5-10 2-9 6-22 30-14 12-17 13-12 8-12 6-12 4-30 8-24 4-48 2-24-1-18-4-12-5 0-70 78 0 20-7-2-3-6-1-90 0 0-56zM-96 -226l-6 3-6 7-8 14-2 6 0 6 4 3 6 0 18-5 6-5 3-5 6-18 0-6-3-2-12 1zM-494 140l26-1 12-2 54-2 60 0 54 3 48 7 42 9 12 6 24 16 12 3 6-1 12-4 18-15 12-4 30 0 78 4 12 3 7 2 8 6 26 24 8 6 10 6 13 3 12 1 54-1 17-3 15-5 5-13 0-5-5-19-1-12 1-6 5-6 35-3 24-1 18 1 40 3 2 6-6 8-6 6-6 3-6 1-14 6-4 6 6 2 6 0 42-3 12-3 5-2 10-6 18-12 9-4 18-6 16-2 26 0 18-3 60-2 0 137-1032 0 0-131 18 0z"/>
<path fill="#fc6530" d="M-516 -268l1032 0 0 150-42 1-18-1-24-4-24-7-12-7-8-6-14-18-17-18-4-6 0-6 4-6-2-6-13-6-24-2-54 4-24 4-30 7-12 5-18 13-5 5-10 6-9 3-12 2-48-1-48 1-24 2-12 2-10 3-26 12-12 7-12 4-42 7-12 0-6-2-6-3-5-7-8-24 0-12 3-6 4-5 26-7 4-1 6-4 13-31-1-3-6-3-18 3-7 3-9 12-8 18-6 9-6-5-1-4 0-12-1-6-4-2-18-1-18-1-78 6-13 4-9 6-16 24-11 12-23 18-12 8-12 6-24 8-36 7-54 2-12 0-12-1-18-4-12-5 0-64 72 0 17-5 15-6 5-6-13-1-96 0 0-53zM-464 140l8-2 6 0 60-2 72 2 36 2 54 9 30 6 12 6 24 16 12 3 6 1 6-1 10-4 14-13 6-4 6-1 30 0 72 5 10 1 11 6 20 24 9 6 16 6 18 5 12 1 60-2 27-4 20-6 7-12 2-6 0-6-1-6-8-12-2-6 0-6 7-6 44-3 42 3 2 6-8 6-35 18-5 6-1 6 5 5 4 1 8 1 18-1 37-6 17-4 17-8 29-18 14-6 42-5 18-3 60-2 0 136-1032 0 0-126 18 0 30-4z"/>
<path fill="#fc5c2e" d="M-516 -268l1032 0 0 149-42 1-18-1-24-4-21-7-12-6-8-6-13-16-17-20-3-6 1-6 3-6-2-6-12-6-6-1-12-2-12 0-54 3-57 12-14 6-13 10-8 8-10 6-6 2-12 2-66-1-36 1-12 1-24 5-21 8-23 12-10 4-42 6-12 0-8-4-5-6-8-24-1-6 1-6 3-6 6-4 24-7 6-4 12-26 4-7 1-6-5-1-6 0-24 2-8 5-6 12-4 12-6 7-1-1-2-6 2-12-5-5-42 0-78 6-16 5-9 6-10 18-9 12-7 6-21 16-12 8-12 7-24 8-36 7-54 2-12 0-12-1-17-5-13-6 0-57 60 0 12-2 23-7 15-6 5-6-7-2-6-1-102 0 0-51zM-458 140l8-1 18 0 60-1 72 2 24 2 48 8 30 6 6 2 6 4 24 17 6 2 12 2 12-2 6-2 5-3 11-12 8-3 6-1 18 1 66 5 12 2 8 2 6 6 11 18 6 6 16 6 34 6 15 2 60-2 42-6 24-6 6-2 6-1 38-2 40-7 18-4 18-6 15-8 27-15 18-6 30-5 12-4 66-2 0 134-1032 0 0-118 24 0 12-6 18-4zM221 140l31-1 29 1 1 6-9 6-15 7-12 4-6 1-12-2-7-4-5-6-1-6 1-1z"/>
<path fill="#fc522b" d="M-516 -268l1032 0 0 147-48 2-18-2-18-3-17-6-13-6-8-6-30-36-2-6 5-11-2-7-12-6-5-1-12-3-12-1-18 0-48 5-54 11-12 6-12 7-12 13-10 5-8 2-102 1-18 1-24 5-24 9-23 12-7 3-42 6-12-1-6-3-4-5-2-3-6-21 0-6 0-6 4-6 2-1 10-5 14-4 6-4 3-4 9-20 8-10 1-6-3-1-12-2-24 2-6 1-12 6-6 2-6 1-60 3-54 5-9 1-17 6-9 6-8 18-4 6-11 12-8 7-18 12-21 11-21 7-36 7-48 3-24-1-17-4-19-8 0-52 60 0 39-12 15-6 6-6-6-4-6-1-108 0 0-49zM-324 -202l0 1 6 0 11-1-5-2-6 1zM-447 140l51-1 48 1 48 1 30 3 42 7 30 6 12 6 24 17 6 2 12 3 12 0 9-3 8-6 7-8 6-4 6-1 23 1 47 6 20 6 6 4 6 8 7 12 8 6 21 4 42 5 12 0 48-1 18-2 52-6 20-3 36-4 30-4 24-6 18-5 18-8 42-20 36-10 12-4 18-2 48-1 0 133-1032 0 0-106 36 0 2-2 1-6 5-6 10-4 6-5 6-2zM238 140l27 0 2 6-15 7-12 1-6-2-4-6 4-3z"/>
<path fill="#fa4a29" d="M-516 -268l1032 0 0 146-48 2-18-2-18-4-13-4-14-6-8-6-29-36-1-6 1-6 3-6-2-6-11-6-10-3-12-3-12-1-18 0-48 6-54 11-8 2-11 6-11 8-8 10-10 6-6 1-102 1-18 1-24 5-26 10-22 11-6 2-42 6-9-1-3 0-6-4-4-8-4-18-1-6 1-6 4-6 22-8 6-5 7-10 5-12 6-8 5-5 1-6-6-4-6 0-30 0-14 4-4 3-6 2-18 3-48 3-60 5-30 10-6 1-5-3-7-1-12 0-6 1-12 6 0 1 6 3 30-2 6 4-1 6-6 12-4 6-7 6-16 12-20 13-12 5-12 4-36 8-12 2-36 1-30 0-18-5-8-4-4-4-6 0 0-45 54 0 18-7 32-10 14-6 7-6-2-6-9-1-114 0 0-47zM-454 146l4-3 6 0 54-2 90 2 24 2 48 7 30 7 12 5 24 17 6 2 18 5 12 0 6-2 7-4 11-12 6-2 18 1 11 1 24 6 25 8 6 4 12 19 8 5 10 2 42 1 30 2 66-3 135-14 21-4 24-7 32-13 46-20 36-12 30-2 36-1 0 131-1032 0 0-97 42 0 6-1 3-4 0-6 0-6 9-9zM-78 224l-2 6 20 3 18 0 8-3-5-6-15-1-18 1z"/>
<path fill="#f74327" d="M-516 -268l1032 0 0 145-48 1-18-1-18-4-12-3-12-6-8-6-29-36-1-6 2-6 3-6-2-6-10-6-15-5-12-2-12-1-18 0-48 5-54 11-13 4-11 6-8 6-10 12-12 6-6 1-96 0-18 1-24 5-29 11-19 10-6 2-42 5-6 0-6-2-3-3-4-6-3-18-1-6 1-6 4-6 18-7 6-4 4-7 8-15 6-8 8-7 2-6-8-6-8 0-30 0-24 8-12 2-108 10-12 3-18 4-6 1-24-2-12 2-7 2-9 6 4 6 33 0 3 2 2 4-1 6-8 12-7 6-16 12-20 12-22 9-36 8-48 3-18 0-12-1-18-5-4-2-8-8-6 0 0-31 36 0 6-2 30-13 36-12 15-6 7-6 1-6-5-1-12-1-114-1 0-45zM-450 146l12-1 24-1 54-1 66 2 36 4 42 7 24 6 6 3 24 17 18 7 6 2 6 0 12 1 6-1 6-3 12-12 6 0 7 0 24 6 18 6 5 3 5 3 5 6-1 6-9 5-6 2-42 2-18 2-6 2-7 5 2 6 20 6 9 2 30 3 24 1 18-2 7-4 7-6 11-6 23-4 18-2 36 0 60-2 78-8 43-2 29-4 24-5 18-7 48-19 54-24 6-1 18-2 48-1 0 129-1032 0 0-91 54 0 7-5-1-18 3-6z"/>
<path fill="#f33b25" d="M-516 -268l1032 0 0 143-48 2-12-1-18-3-12-3-14-6-9-6-29-36-1-6 3-6 4-6-2-6-10-6-14-5-12-3-18-2-24 1-42 5-56 10-17 6-10 6-7 6-9 12-9 4-6 1-96 0-18 2-24 5-32 12-16 9-6 2-42 4-6 0-5-3-4-6-4-18 1-12 4-6 14-6 6-4 15-26 9-9 5-3 2-5-6-7-7-1-6 0-30 0-7 2-17 5-18 3-102 10-24 5-6 1-24-2-12 1-12 4-14 8 1 6 7 2 24 0 6 1 5 3-1 6-4 8-10 10-14 11-18 11-12 5-12 5-18 5-18 3-42 2-32 0-10-1-11-5-6-6 1-6 10-10 12-10 24-16 18-7 34-11 15-5 8-7 2-6-5-2-12-2-120 0 0-44zM-426 146l54-1 78 1 42 5 30 4 18 4 12 4 6 3 24 17 24 11 26 6-1 6-7 6-4 6 0 6 3 6 8 6 11 4 30 4 45 4 21 1 19-1 10-6 8-12 10-6 13-2 96-5 78-7 54-2 24-3 24-7 54-21 54-26 6-2 26-3 46 0 0 126-1032 0 0-85 60 0 6-2 2-3 2-6-3-11 0-13 5-4 18-1z"/>
<path fill="#f03423" d="M-516 -268l1032 0 0 63-90 0 0 3 0 1 90 0 0 75-48 2-18-2-19-4-16-6-9-6-29-36-1-6 3-6 5-6-1-6-17-8-12-5-18-4-18-1-18 1-42 6-63 11-15 6-10 6-6 6-9 12-5 2-6 1-96 1-12 1-30 6-54 22-42 4-6-1-6-6-3-18 1-12 5-6 9-4 6-4 6-10 6-12 5-6 7-7 7-5 2-6-4-6-11-2-6 0-30 0-42 9-102 11-24 4-30-1-12 1-6 2-12 5-11 7-1 6 12 3 24 1 7 2 1 6-2 6-5 6-7 6-30 20-8 4-16 6-30 8-24 2-54 1-19-5-7-6 2-6 12-12 15-12 18-12 21-8 32-10 16-6 7-6 4-6-5-4-6-1-6-1-126 0 0-42zM-445 152l1 0 12-2 30-2 108 0 30 2 54 9 18 5 6 3 18 13 28 14 8 6 3 6 0 18 3 6 6 6 6 5 6 3 12 2 36 4 60 2 24 0 20-4 10-18 11-6 163-13 60 0 24-3 12-3 38-17 28-9 12-6 30-17 12-5 30-2 42-1 0 124-1032 0 0-79 72-1 4-4 2-6 0-6-8-18z"/>
<path fill="#ec2d21" d="M-516 -268l1032 0 0 55-96 0-6 1-1 4 7 4 2 2 4 2 12 2 78 0 0 71-48 1-12 0-19-4-17-5-6-3-5-4-29-36 0-6 4-7 5-5-2-6-15-8-18-7-18-3-12-2-30 2-77 12-28 6-15 6-9 6-15 19-12 1-90 0-12 1-30 7-36 14-12 6-6 2-42 2-6-2-2-2-1-6-2-12 1-12 5-6 5-2 6-5 7-11 6-12 5-6 16-12 2-6-3-6-9-3-6 0-30-1-12 1-18 4-30 5-66 8-24 2-18 3-36 0-18 3-12 5-15 9-1 6 10 4 24 1 6 1 2 0 3 6-2 6-4 6-15 12-14 9-17 9-7 3-12 4-24 6-12 1-24 1-30 1-12 0-14-4-8-6 1-6 19-18 16-12 16-8 12-5 37-11 16-6 8-6 4-6-3-6-14-1-132 0 0-41zM-430 152l46-2 96 0 18 1 30 4 36 6 12 4 6 3 18 13 25 13 6 6 3 6 2 20 6 9 6 7 2 6 4 3 6 2 37 1 23 3 54 2 30-2 24-4 6-5 7-17 14-7 141-11 66 2 18-1 12-4 32-16 28-9 12-5 30-19 12-6 6-1 18-2 54-1 0 91-162 0-12-2-6-5-6-2-6 0-24 3-65 12-2 6 13 2 24 1 246 0 0 15-1032 0 0-16 210 0 30 1 60 0 26-3-6-6-44-1-48-7-42-7-6 0-6 1-6 5-6 2-6 0-156 0 0-38 84 0 4-3-3-6 3-12-3-6-9-12-2-6 4-4 6-1z"/>
<path fill="#e8251f" d="M-516 -268l1032 0 0 51-108 0-6 2 0 1 16 12 8 4 12 3 78 0 0 66-54 2-12-1-18-4-10-4-9-6-30-36 0-6 4-6 7-6-2-6-2-1-12-7-18-7-18-5-18-2-30 2-60 11-30 4-18 4-18 7-6 4-3 2-9 13-6 4-6 1-90 0-12 1-30 8-48 19-6 2-42 1-5-7-1-2-1-10 1-12 5-6 7-5 5-7 10-18 3-4 6-6 12-8 2-6-2-6-6-2-6-2-36-1-126 18-42 4-36 0-18 3-18 8-13 8-1 6 8 4 6 1 24 1 6 3 3 3-2 6-4 6-9 8-18 12-24 11-15 5-21 5-12 2-24 1-30 1-12-1-8-2-10-6 0-6 19-18 16-12 13-7 18-7 36-10 15-6 15-12 1-6-7-2-12-1-138 0 0-39zM-345 152l51-1 24 1 54 8 18 4 12 5 18 13 22 12 7 6 2 6 2 6 0 12 4 12-1 5-1 1-5 3-18 2-54 0-24-2-10-3-32-4-24-5-18-6-38-15-10-2-6 0-6 4-6 0-6 0-12-6-13-8 2-12-19-17-5-7-1-6 12-2 18-2 60-1zM435 158l9-2 24-2 48-1 0 83-144 0-6-1-4-5 12-12 3-6-5-3-6 1-6 3-12 1-6 0-1-2 13-11 18-7 12-2 6-4 34-24 8-4zM173 218l43-3 24 0 43 3 13 6-8 6-18 5-42 11-16 2-8 3-12 2-42 2-24-1-24-2-15-4-1-6 3-12 13-5 66-6z"/>
<path fill="#e51e1d" d="M-516 -268l1032 0 0 46-120 0-5 2 5 6 12 9 12 6 12 4 12 2 72 0 0 63-54 2-13-2-17-4-6-1-10-7-30-36 0-6 4-4 9-8-3-6-12-7-12-7-12-4-18-4-18-1-18 0-18 2-54 11-35 4-13 3-11 3-15 6-8 6-8 12-6 2-96 0-10 4-26 8-18 7-30 12-6 1-24 0-12-2-6-2-2-6-1-6 1-12 4-6 6-6 16-27 6-5 14-10 2-6-1-6-3-2-6-2-12-2-30 0-139 18-29 2-36 0-12 2-6 1-12 5-12 6-11 8-1 6 6 4 10 2 20 1 6 2 6 4-1 5-5 6-6 6-18 12-25 12-19 6-16 4-12 2-30 1-24 1-12-1-6-2-8-5 0-6 18-18 16-12 9-6 16-6 44-12 15-6 15-12 5-6-4-3-12-2-150 0 0-37zM-422 158l26-1 42-1 72-3 18 1 36 5 30 6 12 5 18 13 20 11 7 6 2 6 1 6 0 12 2 12-8 6-6 2-18 2-54-2-30-4-30-6-18-5-18-7-47-22-31-7-6-2-18-12-9-9-4-6 1-3 6-2zM451 158l35-2 30 0 0 71-132-1-2-2 14-12 5-6 4-6-3-2-5-4 0-6 21-18 8-5 12-5 12-1zM189 218l33-2 18 0 22 2 8 3 5 3-7 6-22 8-30 7-30 6-36 1-18-1-18-2-3-1-7-6-1-6 2-6 17-6 64-5z"/>
<path fill="#e0181d" d="M-516 -268l1032 0 0 42-132 0-2 0-2 6-2 2-8-2-4-2-6-2-18-3-18-2-18 1-24 4-17 4-31 7-42 5-12 3-12 3-16 6-14 13-18 1-24 1-48-4-6 1-17 12-13 4-24 10-30 11-6 2-18-1-12-2-6-3-3-3-2-6 1-12 3-6 7-9 11-21 7-7 16-11 3-6-1-6-6-4-4-2-14-1-36-1-132 18-18 1-54 1-18 3-6 3-6 2-4-2 2-6-16-2-162 1 0-35zM384 -214l0-1 2 1-2 1zM-380 -196l14-4 6 0 1 4 11 6 12 2 18 1 6 2 2 1 0 6-4 6-7 6-18 12-21 10-24 8-24 4-60 2-6-1-9-5-1-6 18-18 15-12 10-6 21-7 36-9zM404 -196l4-4 24 7 12 1 72 0 0 60-60 2-18-4-7-2-5-2-6-4-31-36 1-6 12-10zM-345 158l57-4 18 1 54 7 12 3 16 5 38 24 6 6 3 6 2 6-3 24-10 6-10 2-54-1-30-4-24-5-18-5-18-6-42-21-12-5-48-14-18-13 0-6 24-3 24-2 18 1 12-1zM435 164l15-2 24-2 42 0 0 52-96 0-5-6 5-6 1-6-8-6-5-6 6-6 8-6 10-5zM202 218l20-1 18 1 12 2 12 4-7 6-17 6-36 9-24 4-24 1-24-2-10-6-2-6 1-6 20-6 57-5z"/>
<path fill="#db141e" d="M-516 -268l1032 0 0 38-144 0-18-2-42 0-24 4-30 8-24 6-51 6-39 11-12 5-12 2-18 2-12-1-12-1-24-5-12 0-14 17-9 6-13 5-18 8-30 11-6 1-18-1-12-4-2-2-4-5-1-7 1-6 2-6 16-30 6-6 11-6 8-6 2-6 0-6-3-3-6-3-18-2-36-1-36 3-85 12-17 2-48 0-24-2-36 0-36 2-132 0 0-32zM-373 -196l7 0 13 6 5 2 30 3 5 1 1 6-4 6-7 6-19 12-29 12-21 6-16 3-54 2-6-1-10-4-2-6 11-12 13-12 8-6 10-6 18-6 42-10zM412 -196l2 0 6 1 24 5 72 0 0 57-60 1-20-4-12-6-15-18-12-12-5-6 2-6 14-10zM-319 158l37-3 18 1 48 7 18 5 12 5 34 21 7 6 3 6 1 6-1 6-2 7 0 5-3 6-9 6-6 1-42 0-18-1-18-3-24-6-18-5-24-9-18-9-24-14-12-6-48-14-7-6 13-4 8-2 22-1 18 0 30-4zM466 164l50 0 0 31-78 0-1-1-1-6-7-6-4-6 7-6 30-5zM158 224l58-5 18 1 19 4-5 6-18 6-38 9-24 3-12-1-6-1-10-4-3-6 1-6 18-5z"/>
<path fill="#d51120" d="M-516 -268l1032 0 0 33-144 0-36-2-30 2-12 2-12 3-9 4-39 10-48 6-30 6-19 2-23 4-24 1-36-6-12-1-6 3-8 17-6 6-9 6-25 13-30 10-6 0-18-1-9-4-5-6-2-6 1-6 2-6 15-30 6-6 11-6 9-6 2-6 0-6-4-6-8-2-24-2-36 0-42 4-66 9-18 1-48 0-18-3-42 2-30 2-144 0 0-29zM-392 -190l20-3 6 1 7 2 11 3 24 2 6 1 4 6-4 6-7 6-17 11-18 7-17 6-13 4-18 3-54 2-11-3-3-6 11-12 13-12 7-6 10-6 17-6 22-4zM408 -190l6-3 6 0 24 4 72 0 0 54-60 2-14-3-10-4-3-2-17-18-12-12-4-6 1-6 11-5zM-298 158l16-1 12 0 48 6 28 7 14 8 27 16 6 6 3 6 1 6-1 6-4 12-3 6-5 3-6 2-12 1-36-1-18-1-12-2-18-4-36-12-12-5-12-7-36-25-12-6-6-3-4-6 22-2 30-6 24-3zM461 176l13-5 42 0 0 7-54-1zM174 224l42-3 18 1 8 2-4 7-17 6-23 5-12 2-12 0-12-1-2-1-7-6 1-6 14-4z"/>
<path fill="#d00d21" d="M-516 -268l1032 0 0 30-162-1-18-1-36 1-12 2-12 5-10 6-26 8-12 2-42 5-30 5-48 3-18 0-36-7-12-1-6 2-1 1-4 6-4 12-4 6-6 6-8 6-10 6-14 6-21 7-12 3-18-3-6-2-4-5-2-6 0-6 1-6 10-24 4-6 7-6 12-6 9-6 3-6 0-6-2-6-8-3-30-2-42 0-30 2-72 8-12 1-42 0-30-2-72 4-144 0 0-26zM-385 -190l13-1 24 6 24 1 6 5 1 1-4 6-7 6-14 9-12 5-36 12-18 3-54 2-4-1-2-1-3-5 10-12 13-12 7-6 10-6 17-6 24-4zM415 -190l5-1 6 1 24 3 66 0 0 50-60 2-7-1-15-6-31-30-4-6 3-6 12-5zM-283 158l13 0 18 2 30 4 18 5 18 6 31 19 6 6 3 6 1 6-2 6-8 18-7 4-6 1-48-1-24-3-18-5-30-10-18-7-14-9-8-6-14-11-5-7-3-6 9-6 17-5 36-6zM188 224l28-2 16 2-3 6-16 6-15 3-12 2-6-1-6-1-4-3 1-6 15-5z"/>
<path fill="#cb0922" d="M-516 -268l1032 0 0 26-162 0-30-1-36 1-6 1-12 7-10 8-19 6-19 4-30 3-42 5-60-1-42-8-12 1-6 5-7 21-4 6-14 12-9 6-14 6-18 6-12 2-12-2-6-1-6-4-3-7-1-6 11-30 3-6 8-6 13-6 11-6 3-6 0-6-1-6-2-2-6-2-36-3-36 0-33 1-75 8-48 0-24-1-36 1-36 2-156 0 0-22zM-408 -184l24-4 12 0 24 4 18 1 6 2 4 3-4 7-6 5-12 7-12 5-36 12-18 3-48 2-6-1-4-4 9-12 19-18 10-6 14-4zM408 -184l12-4 6 0 18 2 12 0 60 0 0 46-60 3-12-2-6-3-31-30-5-6zM-307 164l25-4 12 0 12 0 42 7 15 3 15 7 29 17 7 6 3 6 0 6-2 6-4 6-2 6-3 6-10 4-42 0-24-3-24-6-30-11-18-8-10-6-8-6-12-12-4-6 1-6 3-1 8-5 16-4zM203 224l17 0 0 6-10 4-12 3-11-1-3-6 14-4z"/>
<path fill="#c50624" d="M-516 -268l1032 0 0 22-192 0-42 1-9 1-9 8-3 4-7 6-18 6-14 3-36 3-30 4-12 0-48-3-12-1-36-9-12 0-6 2-2 1-4 6-3 18-2 6-16 18-9 6-12 5-18 6-12 2-12-3-6-2-3-2-4-6 0-6 7-24 2-5 4-7 6-4 30-14 9-24-45-2-48 0-36 1-66 5-48 1-48-1-24 1-12 2-174 0 0-19zM-400 -184l16-2 12 0 18 3 24 2 7 3-3 6-7 6-11 6-52 17-15 1-33 2-12 0-3-2 2-6 5-6 18-18 10-6 22-5zM416 -183l10-3 30 2 60 0 0 42-60 2-11-2-7-5-27-25-5-6 2-1 6-4zM-295 164l13-2 12-1 30 3 34 6 14 6 12 5 21 13 7 6 3 6 0 6-3 6-4 6-2 6-4 6-6 2-12 1-30 0-24-3-18-4-12-5-30-11-12-6-12-7-9-9-5-6-1-6 4-6 5-2 7-4 17-4z"/>
<path fill="#c00225" d="M-516 -268l1032 0 0 19-192 0-54 1-6 2-8 14-8 6-17 6-81 8-36-3-30-4-36-11-24-5-6-3-6-5-4-7-20-2-36-1-66-1-108 4-84 1-36 3-174 0 0-16zM-18 -226l6-4 6-1 12 0 6 6 4 6 2 11 1 6-1 6-3 6-15 18-9 6-27 10-12 1-12-3-6-3-4-5-1-6 3-12 6-18 3-6 5-3 24-9 12-5zM-390 -184l18 0 42 5 4 1-3 6-8 6-5 3-8 3-40 12-12 2-24 0-18 0-4-2 2-6 4-6 12-12 11-6 23-4zM425 -184l7 0 24 1 60 0 0 36-54 2-12-1-6-2-12-9-17-14-3-7 8-4zM-286 164l10-1 12-1 30 4 24 5 18 6 12 5 20 12 6 6 3 6 0 6-8 12-2 6-5 6-8 2-36 0-12-1-12-2-12-3-18-6-30-12-15-8-8-6-6-6-4-6 0-6 7-6 8-4 24-7z"/>
<path fill="#b90026" d="M-516 -268l1032 0 0 16-198 0-54 1-9 1-1 12-4 6-8 6-14 5-6 2-72 5-30-3-30-5-18-7-46-21-32-3-36-2-96 0-168 4-18 1-192 0 0-12zM-22 -220l10-3 12 2 6 2 6 6 2 5 1 6-1 6-3 6-14 18-9 6-17 6-13 3-6 0-11-3-8-6-1-6 7-30 4-6 15-6 18-5zM-411 -178l21-3 12-1 46 4 0 6-10 7-17 5-31 8-18 1-18-1-4-2-2-1-2-5 4-6 6-6 10-4zM420 -178l12-3 6-1 18 1 60 0 0 30-42 0-18-2-12-3-6-3-18-13zM-277 164l13 0 11 0 37 7 18 5 12 5 24 13 7 6 2 6-1 6-8 12-1 6-5 5-3 1-9 1-36-1-24-3-12-4-28-11-14-6-12-6-8-6-5-6-3-6 1-6 9-6 6-2 24-8z"/>
<path fill="#b00026" d="M-516 -268l281 0 0 12-89 3-192 0 0-9zM-2 -268l518 0 0 13-216 0-42 1-6 1-8 3 4 6 0 6-4 6-7 6-3 2-12 3-6 1-66 4-24-2-30-8-18-6-37-18-17-3-26-3 0-6zM-37 -214l19-4 6-1 6 1 6 2 6 3 4 5 1 6-1 6-10 14-6 10-9 6-15 5-12 3-10-2-8-3-3-3-2-6 6-30 5-6 12-4zM-398 -178l20-1 29 1 7 3 5 3-14 6-33 8-12 1-12-1-6-2-3-6 4-6 11-4zM432 -178l12-1 72 0 0 22-42 0-17-3-13-4-12-7-1-1 1-4zM-289 170l13-4 6-1 12 0 18 3 18 3 18 5 18 6 12 6 10 6 7 6 2 6-1 6-8 12-2 6-2 2-6 4-42-1-24-3-37-14-23-10-11-8-5-6-2-6 4-6 2-1 7-5 11-4z"/>
<path fill="#a70026" d="M29 -268l202 0 0 12 3 2 2 4 7 6 0 6-10 12-11 4-66 4-18 0-29-8-25-10-30-15-12-3-13-2 0-6zM-26 -214l8-1 6 0 7 1 5 3 5 3 2 6-2 6-8 12-6 12-10 6-17 6-6 0-6 0-6-3-5-3-3-6 2-16 4-14 6-6 20-5zM-397 -172l13-3 6 0 12 1 13 2-18 6-7 1-12 1-5-2-1-1zM448 -172l8-3 60 0 0 11-48-1-6-1-12-5zM-282 170l6-2 12-1 30 3 30 7 15 5 13 6 9 6 7 6 3 6-2 6-8 12-2 7-5 3-12 1-30-1-24-3-33-13-26-12-8-6-5-6-1-6 5-6 2-1 18-8z"/>
<path fill="#9e0026" d="M58 -268l138 0 0 13 26 1 6 3 10 7-1 6-6 6-3 6-6 2-66 5-12-1-25-6-35-16-18-10-8-4 0-6zM-44 -208l8-1 18-3 6 1 9 3 4 6-2 6-7 12-4 13-11 5-13 4-6 0-6-1-6-3-5-6 1-6 5-24 5-3zM-276 170l12-2 26 2 34 8 12 5 13 5 10 6 7 6 3 6-2 6-8 12-3 6-2 2-6 1-6 1-30-1-18-2-18-6-18-7-26-12-8-6-4-6 0-6 6-6 20-9z"/>
<path fill="#960026" d="M79 -268l99 0 0 12 38 3 10 3 7 6-11 18-12 2-54 2-12 0-16-4-34-18-10-6-5-6 0-6zM-32 -208l16 0 7 6-7 30-12 6-8 2-6 0-6-1-6-7 3-18 4-12 11-5zM-269 170l11 0 10 0 32 7 24 7 10 4 10 6 8 6 2 6-2 6-5 6-6 13-5 1-24 0-26-2-16-4-18-6-28-14-8-6-4-6 1-6 7-6 26-11z"/>
<path fill="#8d0026" d="M99 -268l63 0 0 13 54 4 5 1 7 6-7 6-2 6-3 4-6 2-66 1-6-1-11-6-27-18-1-12zM-39 -202l9-1 8 1 2 6 0 6-1 18-9 5-6 2-6-1-6-3-2-3 2-13 6-14zM-276 176l12-4 6-1 12 1 24 5 18 4 12 5 12 5 6 3 7 6 2 6-2 6-12 18-7 1-12 0-30-2-19-5-30-12-11-6-8-6-3-6 1-6 8-6 8-3z"/>
<path fill="#840026" d="M114 -250l6-3 6-1 12-1 72 4 6 1 4 6-7 6-2 6-7 2-42 0-18-1-12-6-12-8zM-39 -190l3-4 6 1 3 3 1 6 1 6-1 6-10 4-6-2-3-2 1-6 2-8zM-271 176l7-2 6-1 24 3 30 7 16 5 8 5 10 7 3 6-3 6-10 15-6 3-42-2-18-5-27-11-12-6-7-6-3-6 2-6 5-3 12-6z"/>
</g>
<use href="#co"/>
</g><use href="#ro"/></g>
<text class="t" x="517.5" y="120.8">ERA5</text>
<rect x="109.5" y="676.1" width="816.0" height="40.0" fill="url(#cb)" stroke="#000" stroke-width="1.67"/>
<path d="M168.9 716.1v7.3" stroke="#000" stroke-width="1.67"/>
<text class="k" x="168.9" y="747.4">100</text>
<path d="M301.0 716.1v7.3" stroke="#000" stroke-width="1.67"/>
<text class="k" x="301.0" y="747.4">200</text>
<path d="M433.2 716.1v7.3" stroke="#000" stroke-width="1.67"/>
<text class="k" x="433.2" y="747.4">300</text>
<path d="M565.3 716.1v7.3" stroke="#000" stroke-width="1.67"/>
<text class="k" x="565.3" y="747.4">400</text>
<path d="M697.4 716.1v7.3" stroke="#000" stroke-width="1.67"/>
<text class="k" x="697.4" y="747.4">500</text>
<path d="M829.5 716.1v7.3" stroke="#000" stroke-width="1.67"/>
<text class="k" x="829.5" y="747.4">600</text>
<text class="k" x="517.5" y="776.1">Pa</text>
<g transform="translate(1560.60 387.85)">
<g clip-path="url(#rc)"><g filter="url(#bl)"><rect x="-540" y="-290" width="1080" height="580" fill="#fffbc3"/>
<path fill="#fff9bc" d="M-516 -268l1032 0 0 235-42-1-66-6-30-1-84 7-132 5-54 11-18 2-30 0-12 0-36-7-36-1-54-6-78 5-48 1-132-5-72-3-108-2 0-228zM-237 20l51-2 24 0 12 1 30 6 48 14 18 2 48 0 12 0 12-4 30-16 6-2 12-1 18 1 18 3 24 7 24 8 7 1 11 2 25-2 71-9 36-4 30-2 36-1 30 2 24 3 66 14 12 1 18-1 0 231-1032 0 0-232 12 1 18 0 54-2 150-15 42-3z"/>
<path fill="#fff6b6" d="M-516 -268l1032 0 0 218-36 0-78-8-48 0-24 1-66 6-102 1-18 3-30 9-12 2-12 2-18 0-24 0-60-3-24-4-30-7-18-2-132-1-126 0-66 1-108 0 0-212zM311 38l37-2 30 0 30 5 36 9 24 5 18 2 30 0 0 215-1032 0 0-216 48 1 60-2 82-5 98-8 60-1 24 2 31 7 34 6 19 2 60-1 18-2 18-5 18-7 12-2 6 0 18 2 26 7 28 6 18 1 18 0 18-1 24-2 60-11 24-4z"/>
<path fill="#fff3b0" d="M-516 -268l1032 0 0 210-42-1-66-7-48-2-30-1-18 1-54 7-102 2-12 1-48 9-12 1-90 0-12-2-34-8-14-1-102 0-48-4-66 3-54-3-42 4-24 1-114 0 0-204zM327 50l27-1 18 0 18 2 42 9 22 2 26 2 36 0 0 208-1032 0 0-208 60 0 84-1 126-4 54-3 36 1 46 5 32 3 78 0 18-1 30-6 18-2 18 1 60 7 48 1 48-3 84-11z"/>
<path fill="#fff1a9" d="M-516 -268l1032 0 0 205-30 0-18-2-54-7-66-6-24-1-66 10-102 3-48 7-24 2-90-1-36-6-18-2-48 2-54-1-18-1-36-5-66 3-48-5-12 1-36 6-24 2-96 1-18-1 0-198zM335 62l37-1 18 2 48 6 36 1 42 0 0 202-1032 0 0-202 78 0 198-1 42-3 36 1 36 3 36 1 90 1 18-1 36-6 12 0 78 6 60 1 54-2 72-7z"/>
<path fill="#ffeea3" d="M-516 -268l1032 0 0 200-30 0-18-1-54-8-78-10-12-1-36 8-24 4-18 1-90 2-54 9-18 1-42 0-42-2-42-6-18-1-48 3-54-1-18-2-36-6-60 0-36-5-12 0-12 2-36 9-24 3-96 1-24-1 0-193zM43 74l23-1 90 4 66 1 150-6 60 3 84 1 0 196-1032 0 0-197 210 0 168 3 138 0 18-1 24-2z"/>
<path fill="#ffec9d" d="M-516 -268l1032 0 0 196-30 0-24-2-43-8-53-7-30-6-12-1-6 0-12 6-12 5-18 2-30 3-90-3-18 3-16 4-14 3-24 3-36 0-48-2-36-5-18-1-54 5-54-2-18-2-30-6-40-5-14-3-12-4-12-2-36 4-24 10-24 6-24 4-96 1-24-1 0-189zM-516 80l198 0 78 2 18 3 12 4 12 12 6 4 6-1 18-9 18-6 12-3 18-1 60-1 90 0 60-3 132 2 108-1 48 0 48-1 90-1 0 192-1032 0 0-186z"/>
<path fill="#ffe997" d="M-516 -268l1032 0 0 192-30 0-24-2-84-13-18-4-30-8-12-1-6 3-9 7-9 5-12 3-18 1-24 0-30-2-18-3-36-10-30-1-13 1-23 12-6 1-30 1-24 3-18 2-18 0-48-1-48 4-36 0-30-2-60-11-18-6-6-3-18-11-6-2-12 1-30 9-6 2-18 11-18 6-30 7-18 1-84 0-24-1 0-185zM-516 86l0-2 192-1 42 1 42 3 12 2 8 3 10 8 12 12 6 3 6 2 6-1 14-6 10-5 9-7 9-4 12-3 30-2 48-1 48 2 18 1 30 6 6 0 30-8 18-2 180 0 48 2 42 6 12-2 18-5 24-3 90-2 0 189-1032 0 0-180z"/>
<path fill="#ffe691" d="M-516 -268l1032 0 0 189-42-1-72-10-36-7-36-12-12-2-6 1-12 13-4 3-8 4-12 2-12 0-30 0-30-6-12-4-24-10-11-4-43-5-30-1-36 0-6 2-13 5-23 15-12 4-12 3-78 7-18 1-30-1-30-3-48-10-18-8-24-15-12-5-6 0-6 1-30 12-18 13-12 6-30 8-18 3-12 1-84 0-24-2 0-181zM-454 86l148 1 36 1 30 3 12 3 6 3 6 4 18 16 12 5 6 0 24-9 6-3 12-9 6-2 12-3 30-2 42-1 48 2 18 3 24 7 12 2 10-3 20-8 18-3 174-2 48 4 12 2 24 6 12 1 6-1 24-10 18-4 24-2 72 0 0 185-1032 0 0-185 60 0z"/>
<path fill="#fee38b" d="M-516 -268l1032 0 0 186-48-1-60-8-36-9-12-3-24-9-18-5-6 0-6 4-8 13-10 7-18 3-18 0-12-1-16-3-20-5-30-15-12-4-48-5-24-1-42 1-12 2-11 3-14 6-29 16-12 4-60 7-18 1-30-1-36-4-30-5-12-4-12-6-42-26-6-2-6-1-6 2-30 16-18 15-6 4-18 6-18 5-12 2-18 1-84 0-24-2 0-178zM-516 92l0-2 96-2 108 1 54 3 18 2 12 4 6 3 19 15 11 7 6 3 6 1 29-11 13-8 12-6 12-2 30-2 42-1 42 2 18 4 20 7 16 2 12-2 18-8 18-4 174-4 18 2 30 4 30 8 12 2 6 0 6-2 30-13 18-4 90-2 0 183-1032 0 0-174z"/>
<path fill="#fee085" d="M-516 -268l1032 0 0 184-42-1-60-8-18-3-24-7-42-16-18-3-6 1-4 3-5 12-4 6-5 4-6 2-12 2-24-1-18-3-11-4-14-6-23-13-12-4-42-4-30-1-48 1-18 3-19 6-14 6-15 11-6 3-12 3-24 4-18 3-24 1-36-1-36-4-24-5-12-3-11-6-13-9-18-10-18-14-6-2-6 1-6 3-24 13-6 5-18 16-6 4-6 2-24 8-18 3-24 2-78-1-24-2 0-175zM-516 92l90-1 108 0 30 1 30 2 18 3 12 4 30 21 12 7 6 2 6-1 24-10 24-13 18-3 30-3 36 0 42 3 12 2 24 7 18 3 18-4 24-9 12-2 162-4 30 3 30 6 14 4 22 3 6 0 10-3 26-12 18-4 90-3 0 181-1032 0 0-174z"/>
<path fill="#fedd7f" d="M-516 -268l1032 0 0 182-30-1-24-2-30-3-24-4-18-4-15-6-45-17-18-4-6 0-6 2-2 1-3 6-2 12-5 6-6 3-12 2-18 0-24-5-13-6-23-16-12-5-18-2-60-3-48 1-18 2-19 5-17 6-11 6-13 9-6 3-12 3-24 5-12 2-24 1-36-1-42-6-18-4-12-4-18-14-22-12-14-13-6-3-6-1-12 5-24 15-6 4-18 17-6 4-12 5-18 6-24 3-30 2-66-1-24-2 0-173zM-516 98l0-3 84-2 120 0 42 2 24 4 12 2 12 7 11 8 19 12 12 6 6 0 26-12 22-11 18-3 30-3 30-1 36 2 18 3 29 7 19 2 14-2 28-9 12-2 102-4 60-1 18 2 54 11 24 3 12-2 10-4 20-9 18-5 90-3 0 179-1032 0 0-168z"/>
<path fill="#feda79" d="M-516 -268l1032 0 0 180-48-2-54-7-18-4-13-5-41-17-12-4-12-3-12-2-6 0-8 2-3 6 1 12-1 6-7 6-12 3-12 0-12-1-12-3-9-5-7-6-8-14-6-7-6-2-6 0-30 2-60-3-54 2-18 3-23 7-14 6-23 14-24 7-18 4-12 1-24 1-24-1-42-6-29-8-7-4-17-14-19-9-3-3-11-12-4-2-6-2-6 1-6 2-24 14-12 9-18 17-6 4-18 8-18 5-18 3-30 1-66-1-24-2 0-171zM-516 98l0-1 108-2 96 0 42 2 24 4 12 3 6 3 18 13 24 15 6 2 6 0 12-6 42-17 24-4 24-2 24-1 30 2 24 3 30 7 18 1 18-2 24-7 12-2 54-2 48-3 60-1 18 2 25 5 34 7 19 1 12-2 12-4 18-9 18-4 90-4 0 177-1032 0 0-168z"/>
<path fill="#fed673" d="M-516 -268l1032 0 0 178-48-2-36-4-18-3-24-7-42-19-18-7-18-5-18-2-12 1-5 2 8 24-1 6-8 5-5 1-19 0-18-6-6-6-2-12 2-6 6-5 6-3 10-4-16-3-12-1-24 2-30 6-12 1-60-2-36 1-18 1-24 7-18 6-13 6-21 12-26 9-12 2-12 1-24 0-24-1-36-5-23-6-7-2-6-4-18-14-19-10-5-4-6-8-6-5-6-2-6-1-12 3-27 17-9 7-18 17-6 5-12 5-18 7-24 4-30 1-60-1-30-2 0-169zM-487 98l67-2 102 0 24 1 24 3 24 4 12 3 48 29 6 4 6 0 18-9 30-12 24-5 30-3 24 0 24 1 24 3 36 6 18 1 18-2 24-6 12-1 54-2 48-3 54-2 18 1 49 9 35 3 18-3 30-12 12-3 90-4 0 175-1032 0 0-172 24-1z"/>
<path fill="#fed16d" d="M-516 -268l1032 0 0 176-54-2-36-4-18-4-18-6-48-24-36-13-12-3-18-3-12-4-24 2-48 5-18 5-18 3-66-2-30 1-18 2-16 3-18 6-14 6-30 17-30 9-12 2-12 0-42-1-18-3-24-5-20-7-9-6-13-11-22-13-10-12-4-2-6-3-6-1-12 1-6 2-30 20-6 5-18 18-6 4-12 6-18 7-24 4-30 2-60-2-30-2 0-167zM256 -130l8 1 6 3 7 8 3 6-2 6-8 3-12 0-12-2-2-1-7-6 0-6 2-6 7-4 6-1zM-427 98l115 0 24 2 24 3 18 4 12 3 20 12 16 9 18 11 6 1 6-2 12-7 36-14 48-5 18-1 24 1 36 3 30 5 18 1 16-2 26-5 12-1 54-2 48-3 54-2 18 2 33 5 51 5 18-3 30-12 12-3 90-4 0 173-1032 0 0-170 84-3z"/>
<path fill="#fecb67" d="M-516 -268l1032 0 0 175-36-2-24-2-30-3-22-6-15-6-29-15-36-17-25-16-11-4-6-1-24 3-96 19-12 0-72 0-39 1-33 11-17 7-25 14-18 6-18 5-24 1-30-1-12-1-26-6-19-6-11-6-16-14-15-10-20-18-13-3-12 0-6 0-6 3-30 21-30 27-13 6-17 7-18 3-36 3-60-2-30-2 0-165zM249 -118l3-2 6-2 6 1 6 4 4 5-4 6-6 1-6-1-11-6zM-516 104l66-3 42-1 96 0 30 2 24 4 24 7 16 9 20 11 18 11 6 2 6-2 12-8 30-11 18-3 30-4 24-1 24 1 30 2 36 5 18 0 18-1 30-5 60-2 66-4 36-1 12 1 36 5 54 4 18-2 30-12 12-2 90-5 0 171-1032 0 0-162z"/>
<path fill="#fec661" d="M-516 -268l1032 0 0 173-36-1-24-2-30-4-18-4-12-5-12-6-24-14-31-17-29-19-9-5-9-1-6 0-11 1-49 16-54 10-12 1-48 0-42 0-18 1-12 2-24 8-42 21-18 7-18 5-18 1-42-2-19-4-20-6-14-6-7-5-12-13-14-12-10-12-14-6-16-1-12 0-6 1-6 4-30 20-24 23-6 4-12 7-18 7-24 5-30 1-60-1-30-3 0-163zM-474 104l60-2 96 0 38 2 28 6 18 7 36 17 18 12 6 2 6-1 12-8 10-5 26-8 48-5 18-1 24 1 36 2 30 3 18 1 48-5 54-2 72-4 36-1 48 5 54 3 18-2 30-11 12-2 90-5 0 169-1032 0 0-165 36-2z"/>
<path fill="#fec05b" d="M-516 -268l1032 0 0 172-60-4-30-4-18-4-12-5-12-6-82-53-14-5-12-1-7 0-11 4-42 15-48 11-18 2-54-1-42 1-12 0-12 2-9 2-15 6-42 21-24 9-12 3-12 1-42-1-14-3-19-6-16-6-11-6-5-6-18-24-7-11-6-4-24-2-24 0-12 6-30 21-24 23-6 4-12 7-18 7-24 5-30 2-60-2-30-3 0-161zM-432 104l120 0 18 1 18 3 14 2 28 10 36 16 18 11 6 3 6 0 13-10 17-7 12-4 18-3 30-2 24-1 24 1 36 1 30 3 18 1 48-5 60-1 48-3 54-2 48 4 54 3 20-3 28-9 12-2 90-6 0 167-1032 0 0-162 78-5z"/>
<path fill="#feba55" d="M-516 -268l1032 0 0 170-42-2-24-2-24-4-18-4-12-5-12-6-30-21-45-30-15-6-12-3-6 0-22 3-20 7-12 7-12 5-48 10-12 1-102 0-18 3-18 4-42 21-30 12-12 3-12 1-36-1-12-2-16-5-26-10-9-8-5-6-16-30-4-6-8-4-48 1-6 1-6 3-36 25-30 27-18 10-12 5-12 3-12 1-30 3-60-3-30-3 0-159zM-486 111l42-4 36-1 96 0 24 2 24 5 36 12 30 12 24 15 6 0 6-3 12-9 14-6 10-3 12-2 36-3 42 0 90 4 48-4 60-1 102-5 42 3 60 3 12-1 12-2 30-9 54-4 42-3 0 165-1032 0 0-159 30-2z"/>
<path fill="#feb54f" d="M-516 -268l1032 0 0 169-42-3-24-2-24-4-18-4-18-8-12-7-30-23-33-22-12-6-9-3-12-2-6-1-12 2-20 4-16 6-9 6-9 4-12 4-36 8-18 1-90 0-24 2-22 5-44 23-24 9-12 3-12 1-30-1-18-3-6-2-30-12-8-6-5-6-7-12-6-18-4-6-6-6-6-2-6-1-48 2-6 2-6 4-36 25-30 27-12 7-18 8-12 3-12 2-30 2-54-2-36-4 0-157zM-457 110l61-2 84 0 24 2 26 6 58 20 12 6 18 11 6 1 6-2 17-12 13-5 12-3 24-3 48-1 102 3 48-3 162-5 42 2 66 2 18-2 30-8 54-5 42-3 0 163-1032 0 0-155 54-6z"/>
<path fill="#feaf4b" d="M-516 -268l1032 0 0 167-42-2-23-3-25-4-18-4-12-5-12-7-14-10-28-23-20-13-12-6-16-5-18-3-17 2-25 6-6 3-14 9-10 4-42 11-18 1-96 0-24 2-18 6-42 21-24 9-12 3-12 1-24-1-19-3-16-6-25-12-7-6-4-6-2-6-5-17-3-7-4-6-7-6-10-1-6 0-42 2-6 1-6 3-36 25-36 32-12 7-18 7-24 5-30 3-42-2-37-4-11-1 0-155zM-414 110l102 0 24 3 18 4 66 21 12 5 18 12 6 2 6-2 21-15 9-3 12-4 24-2 48-2 102 3 210-7 108 3 12-1 36-7 30-2 24-3 42-3 0 160-1032 0 0-152 24-2 24-4 54-3z"/>
<path fill="#feaa49" d="M-516 -268l1032 0 0 166-42-3-24-2-30-6-12-3-12-5-14-9-9-6-25-21-12-9-9-6-15-7-12-5-12-3-12-1-18 3-30 7-18 12-6 3-24 6-18 4-18 2-96 0-31 3-17 6-42 21-24 9-12 2-28-2-20-3-7-3-29-14-6-4-6-8-3-10-4-18-3-6-5-6-9-4-12-2-48 4-6 2-6 3-36 26-36 31-18 10-12 5-24 5-24 2-36-1-42-4-18-3 0-152zM-458 116l32-2 30-1 84 0 18 2 12 2 54 15 24 7 12 6 18 11 6 3 6-2 25-17 11-4 12-2 24-2 48-1 96 2 210-6 108 2 12-1 30-5 30-1 30-5 42-3 0 158-1032 0 0-149 24-1 30-5z"/>
<path fill="#fea546" d="M-516 -268l1032 0 0 164-42-2-24-3-24-4-18-5-12-5-12-7-15-12-21-19-18-12-18-9-12-4-12-3-12-1-12 1-36 9-6 2-18 13-36 10-18 3-102 0-24 2-18 4-42 21-30 10-12 3-24-2-18-3-6-2-36-19-4-4-4-6-2-6-3-18-2-6-3-6-6-4-6-3-12-2-49 3-5 1-6 2-12 8-36 27-30 27-18 9-18 7-24 4-24 2-36-2-36-4-18-3 0-150zM-419 116l101 0 24 2 60 14 30 9 6 2 24 15 6 2 6 0 3-2 27-18 6-2 12-2 24-2 42-2 102 2 210-5 108 1 18-1 24-3 36-2 24-4 42-3 0 155-1032 0 0-146 30-2 18-4 48-3z"/>
<path fill="#fea044" d="M-516 -268l1032 0 0 163-60-5-30-5-18-5-12-5-12-7-12-10-24-22-12-8-12-7-12-6-12-4-12-2-12-1-18 3-36 9-5 2-7 6-10 6-32 10-18 2-102 1-24 2-18 3-42 21-30 10-12 2-24-2-12-2-12-5-32-18-6-6-3-6-4-24-2-6-5-6-8-4-4-2-14 0-48 4-6 1-6 2-12 8-36 27-30 27-12 7-18 7-24 6-24 2-30-1-42-4-24-4 0-148zM-457 122l31-2 30-1 78 0 18 1 60 12 36 10 12 5 18 12 6 3 6 0 6-3 24-16 6-3 12-3 30-2 36-1 102 1 210-5 114 1 60-4 30-4 48-3 0 152-1032 0 0-144 30-1 24-4z"/>
<path fill="#fd9a42" d="M-516 -268l1032 0 0 162-42-4-30-3-18-4-18-5-12-5-12-7-9-8-27-25-12-8-12-7-12-6-12-3-12-2-12-1-18 3-36 9-8 4-7 6-11 6-34 10-18 2-96 0-24 2-12 2-10 2-38 19-24 8-18 4-18-2-12-2-12-4-30-17-6-4-5-8-2-6-4-24-3-6-4-4-6-3-6-2-12 0-18 0-36 4-12 4-12 8-30 23-36 32-12 7-18 7-24 5-24 3-30-1-42-5-24-4 0-146zM-416 122l32 0 72 1 24 2 60 12 24 6 12 5 24 15 6 1 6-2 24-16 10-6 8-1 30-3 36-1 108 1 204-5 114 1 66-3 24-4 48-2 0 149-1032 0 0-142 36-1 18-4 42-2z"/>
<path fill="#fd953f" d="M-516 -268l1032 0 0 160-66-6-24-4-18-5-12-5-12-8-31-30-23-16-18-9-12-3-18-2-18 2-42 10-6 3-6 3-7 6-11 6-30 9-18 2-96 0-24 2-12 1-14 4-34 17-12 5-24 6-6 0-18-1-9-3-9-3-36-21-5-6-3-6-3-12-1-13-1-5-4-6-7-4-5-2-13 0-25 0-29 4-12 2-6 2-12 8-30 25-36 31-12 7-18 8-24 5-24 2-30-1-42-4-24-6 0-143zM-468 128l30-2 42-2 84 1 18 1 60 11 30 8 12 4 24 16 6 1 6-1 6-3 22-16 8-4 7-2 29-2 30-1 120 0 198-5 78 0 36 0 60-2 30-3 48-2 0 147-1032 0 0-141 42-1z"/>
<path fill="#fd903d" d="M-516 -268l1032 0 0 159-66-7-24-4-18-5-11-5-10-6-7-6-26-25-24-19-12-6-6-2-12-2-18-2-18 2-42 11-5 1-7 4-11 8-7 4-18 7-12 3-18 2-96 0-30 2-12 2-11 4-31 16-12 4-24 5-12 0-12-1-16-6-32-18-5-6-4-6-3-12-1-18-3-6-8-6-6-2-12-1-24 1-31 2-17 3-6 3-12 8-66 57-18 10-12 4-18 4-30 4-24-1-42-4-18-4-12-3 0-141zM-445 128l43-1 42 0 54 1 24 2 48 9 36 9 6 3 24 15 6 2 6 0 7-4 11-7 12-9 6-3 12-3 24-2 30-1 102 0 66-1 156-5 72-1 36 1 48-1 18 0 18-3 54-2 0 145-1032 0 0-139 30-1 36-3z"/>
<path fill="#fd893b" d="M-516 -268l1032 0 0 157-42-3-30-4-18-3-18-6-18-9-7-6-23-23-12-10-12-10-12-8-12-4-6-1-24-2-18 2-48 13-6 3-18 12-10 4-20 7-18 2-96 0-30 2-12 2-12 4-30 15-12 4-24 4-18 0-12-3-6-2-16-11-14-6-6-5-4-7-2-6-3-12 0-18-3-4-2-2-10-4-18-1-30 1-36 4-6 1-6 2-12 8-66 59-12 7-18 7-24 5-24 2-30-1-36-4-18-3-12-4 0-139zM-516 134l36-1 24-3 48-1 72 0 42 1 54 9 42 10 6 3 24 16 6 2 6 0 6-2 12-7 12-10 9-5 15-2 30-3 186-1 144-6 72-1 48 1 48 0 18-1 18-2 54-2 0 143-1032 0 0-132z"/>
<path fill="#fd8038" d="M-516 -268l1032 0 0 156-30-3-42-4-18-4-18-5-14-8-8-6-32-31-24-20-6-4-6-2-24-2-18-1-12 2-48 13-7 3-17 12-18 8-18 5-24 1-84 0-30 2-18 4-24 10-13 6-11 5-24 3-18-1-12-3-6-3-31-19-5-6-4-12-1-11 1-13-2-6-11-6-19-1-42 2-30 3-12 3-6 3-12 10-17 16-43 39-12 7-18 7-24 5-24 2-24-1-42-5-18-3-12-5 0-136zM-473 134l17-2 60-2 78 1 30 2 54 9 36 8 12 6 18 13 6 3 6 0 8-2 10-5 15-13 9-4 12-2 30-3 24-1 156 1 29-3 121-4 72-2 48 1 48 1 18-2 18-2 54-2 0 142-1032 0 0-137 24 1 18-1z"/>
<path fill="#fd7736" d="M-516 -268l1032 0 0 154-24-1-48-6-18-3-18-6-11-6-8-6-48-48-5-6-3-6-15-1-42 0-18 2-48 15-22 14-13 6-19 6-30 1-78 0-30 2-18 4-16 5-25 12-7 3-24 2-18-1-12-4-33-18-5-6-4-12-2-12 1-18-5-6-12-2-12-1-36 1-42 3-12 4-6 3-12 10-19 18-41 37-12 7-18 8-24 5-24 2-24-2-42-4-18-4-12-5 0-134zM-465 134l9-1 18-1 60 0 72 1 24 2 48 8 36 8 12 6 18 13 6 3 6 1 6 0 12-5 18-15 6-3 12-3 30-2 24-1 66 0 66 2 54 2 48-9 66-3 90-2 36 2 42 0 18-1 24-3 54-1 0 140-1032 0 0-135 30 0 18-2z"/>
<path fill="#fc6e33" d="M-516 -268l1032 0 0 153-72-7-18-3-18-7-7-4-9-6-41-42-3-6 2-5-1-7-13-2-18-1-48 1-15 2-18 6-27 8-8 4-18 12-13 6-15 5-12 1-18 0-84 0-24 2-12 2-9 2-17 6-22 11-6 2-24 1-18-1-12-4-15-9-13-6-6-6-3-6-3-12 0-12 0-12 0-6-2-1-12-3-18-1-78 5-6 1-12 4-12 10-21 21-33 31-7 5-11 7-18 8-24 4-24 2-24-1-36-4-18-4-18-7 0-64 78 0 20-7-2-1-6-1-90 0 0-58zM-454 134l52-1 48 0 54 2 24 3 42 7 36 8 12 5 24 17 6 2 6-1 12-4 6-3 12-11 6-4 6-2 30-3 30-2 66 2 63 3 15 2 16 4 14 13 6 4 6 1 18-1 15-5 10-6 21-18 18-6 116-5 42 3 42 1 18-1 24-4 54-1 0 139-1032 0 0-133 36 0 12-2 12-2z"/>
<path fill="#fc6530" d="M-516 -268l1032 0 0 152-30-3-42-4-18-4-18-6-12-9-36-36-4-6-1-6 2-6-2-6-13-4-8-2-16 0-18 2-30 1-18 3-20 6-22 7-12 5-18 13-12 5-18 5-42 1-60-1-30 2-12 2-12 3-18 6-18 9-6 2-24 1-18-2-12-4-24-12-7-6-3-6-3-18-1-6 2-18-5-6-25-1-84 5-11 2-7 3-6 4-6 5-23 24-32 30-17 12-18 8-18 3-30 3-24-1-36-5-18-3-9-5-3-2-6-2 0-56 72 0 18-6 14-6-2-6-102 0 0-54zM-405 134l45 1 60 1 24 3 36 6 30 6 18 5 30 20 6 2 6 0 11-2 7-2 17-16 7-3 6-1 30-3 24-1 48 1 24 2 45 5 21 5 6 3 6 4 13 12 5 4 6 3 12 0 18 0 12-2 22-5 19-6 9-6 4-5 13-19 13-6 94-4 36 3 42 2 18-2 18-3 60-1 0 137-1032 0 0-132 30 1 18-2 12-3 48-1z"/>
<path fill="#fc5c2e" d="M-516 -268l1032 0 0 150-30-2-48-6-16-4-15-6-8-6-35-36-4-6 1-6 2-6-3-6-15-6-9-1-18 0-48 2-18 3-46 14-11 6-19 12-8 4-6 3-12 3-42 1-60-1-24 1-12 1-12 3-24 8-18 8-6 2-18 0-24-2-12-4-27-15-4-6-4-24 2-18 0-6-3-2-6-1-12 0-24 1-66 4-12 2-12 3-12 6-25 29-31 30-16 11-18 7-18 4-24 3-24-1-36-4-12-2-12-4-4-2-8-7-6 0 0-48 60 0 12-3 23-8 14-6 3-6-10-1-102 0 0-53zM-465 140l9-2 6-1 60-1 78 1 30 3 60 9 24 6 6 2 6 3 24 17 12 3 6 0 15-4 3-2 12-12 5-4 7-1 54-4 60 3 19 2 21 6 15 6 9 6 14 12 11 6 19 3 18 1 18-1 12-1 38-8 28-6 13-6 6-6 9-24 12-6 68-3 38 3 10 4 18 1 18-2 30-5 60-2 0 136-1032 0 0-127 30 0 18-3z"/>
<path fill="#fc522b" d="M-516 -268l1032 0 0 149-24-1-48-6-18-4-15-6-9-6-35-36-2-6 3-12-4-6-13-6-15-2-18 0-54 2-12 3-48 15-13 6-18 12-13 6-10 3-30 1-72-1-24 1-12 1-12 3-24 7-18 8-6 2-18 0-24-3-12-4-23-11-5-7-4-30 3-18-1-2-6-4-30 1-78 5-18 3-24 6-24 0-12 3-1 0 1 1 6 1 18 2 6 2-1 6-9 12-10 12-26 24-14 10-18 7-12 3-18 3-12 0-18 0-38-5-16-2-11-4-7-6 0-7-12 0 0-37 54 0 46-16 14-6 4-6-4-1-12-1-102 0 0-52zM-459 140l3-1 18-1 60-1 66 2 30 2 54 8 30 7 6 2 6 3 24 17 6 3 12 2 12-2 6-2 4-3 10-12 10-4 12-2 42-1 48 2 24 4 3 1 9 6 2 6 1 18 2 6 7 2 12 2 90-1 18-2 54-8 42-9 54-4 19-4 10-6 1-4 3-2-9 0-18 3-12 0-18-4-7-5-3-6 1-6 11-6 46-2 25 2 1 6-3 6 1 5 12-3 36-6 24-5 12-3 24-2 42-1 0 135-1032 0 0-120 24 0 6-1 24-8z"/>
<path fill="#fa4a29" d="M-516 -268l1032 0 0 148-24-1-48-6-12-3-17-6-9-6-35-36-2-6 3-12-3-6-15-6-18-3-18 0-54 3-12 1-48 15-24 13-11 7-13 6-6 1-36 2-66-1-24 1-12 1-12 3-24 7-18 7-6 2-18 0-24-3-19-8-11-6-7-6-1-6 1-12-2-12 4-24-7-2-6 0-108 7-36 5-24 0-12 2-13 6 1 2 6 3 18 3 6 4-2 6-9 12-5 6-20 19-14 11-10 6-12 5-18 3-18 2-12 0-30-2-30-5-12-3-8-6 1-6 13-15 12-12 18-11 18-7 27-9 13-6 5-6-9-3-12 0-102 0 0-51zM-452 140l44-1 48 0 60 2 24 3 48 7 30 6 12 5 24 18 6 2 12 3 12-1 8-2 9-6 7-9 6-4 6-1 54-2 42 4 6 1 11 5 1 6-3 24 13 6 32 2 96-2 56-6 46-7 54-6 25-5 65-26 36-10 12-5 18-1 48-1 0 133-1032 0 0-108 36 0 4-6 5-6 9-4 6-6zM313 140l29-1 16 1 0 6-7 6-9 5-12 2-13-1-5-1-6-5-2-6 8-5z"/>
<path fill="#f74327" d="M-516 -268l1032 0 0 147-24-2-48-6-12-2-13-5-10-6-34-36-2-6 4-12-4-6-12-6-7-2-18-3-18 1-24 2-30 1-15 1-39 12-12 5-18 9-14 10-16 6-36 2-66-1-24 1-12 1-12 2-48 16-18-1-24-3-12-4-13-7-8-6-2-6 4-12 3-6 4-5 6-4 5-9 1-6-3-6 0-6-3-2-138 11-30 4-30 1-12 2-7 2-10 6 1 6 22 4 5 3 2 5-4 6-9 12-19 18-11 10-18 9-12 4-12 2-24 2-30-2-42-7-10-6 1-6 16-18 14-12 9-6 18-7 36-13 8-4 6-6-8-4-6-1-114 0 0-49zM-406 140l46 1 66 2 72 10 18 4 12 3 6 3 24 18 6 2 18 5 12-1 6-1 6-4 10-12 2-1 6-2 48-2 18 1 22 4 4 6 1 24 6 6 15 3 36 2 126-5 71-6 43-5 34-7 20-6 34-12 32-14 36-13 30-2 36-1 0 132-1032 0 0-98 42 0 6-1 3-3 0-12 4-6 6-6 5-3 42-2zM328 140l21 0 0 6-1 1-12 6-11-1-7-6 6-4z"/>
<path fill="#f33b25" d="M-516 -268l1032 0 0 146-30-2-38-6-16-3-12-4-7-5-35-36-1-6 4-12-3-6-18-8-24-4-12 0-30 3-30 1-21 2-45 15-19 9-17 12-12 5-6 1-48 1-48-1-30 1-18 3-24 7-18 7-6 1-18-1-24-3-8-3-13-6-8-6-2-6 2-6 3-6 14-14 7-16 4-12-2-6-9-2-12 2-12 3-42 5-102 9-36 0-12 3-11 4-10 6-1 6 4 2 22 4 5 6-2 6-4 6-11 12-22 20-6 4-12 6-18 6-30 2-26-2-40-6-11-6-1-6 16-18 14-12 10-6 14-6 42-14 7-4 6-6-7-5-6-1-120 0 0-48zM-450 146l12-1 30-2 72 0 48 2 54 7 24 4 18 5 6 3 24 18 18 7 12 2 12 0 6-1 6-4 12-11 30-1 24 1 6 3 4 4 9 18 7 6 16 5 12 2 36 0 168-7 69-6 45-9 29-9 19-6 36-17 30-12 6-1 18-2 48-1 0 129-1032 0 0-92 54 0 6-4 0-6-1-6 0-6 3-6z"/>
<path fill="#f03423" d="M-516 -268l1032 0 0 60-96 0-1 0 7 7 12 2 78 0 0 76-24-2-42-6-22-5-8-3-6-5-33-34 0-6 5-12-3-6-17-8-12-3-18-2-12 0-30 3-36 1-20 3-40 13-23 11-17 12-14 4-48 2-54-1-30 2-12 2-42 13-6 1-18-1-24-3-6-2-10-5-8-6-3-6 3-7 14-17 15-30 2-6-1 0-18-4-30 5-40 5-98 9-36 0-12 3-12 5-12 7-3 6 9 4 14 2 4 2 5 4-1 6-4 6-16 18-13 12-9 6-10 5-18 6-30 2-24-2-29-5-13-3-6-3-2-6 16-18 14-12 9-6 14-6 45-15 6-3 6-6-3-6-9-1-126 0 0-47zM-422 146l62-1 66 1 24 2 42 6 18 3 18 5 6 4 24 17 24 10 24 6 6 0 18-4 24 0 6 3 12 11 5 3 7 3 54 1 36-1 60-3 144-5 24-3 42-8 42-12 18-7 36-17 24-10 30-4 42 0 0 126-1032 0 0-86 60 0 6-2 2-2 1-6-3-12 1-12 5-3 18-2z"/>
<path fill="#ec2d21" d="M-516 -268l1032 0 0 54-109 0 5 6 9 6 17 7 78 0 0 71-24-2-42-6-16-4-13-6-31-30-5-6 0-6 6-12-3-6-10-6-12-4-18-3-12-2-12 1-30 3-36 1-25 5-29 8-12 4-22 11-16 12-10 3-48 2-54-2-30 2-12 2-42 13-6 1-18-1-24-4-11-4-7-4-2-2-3-6 2-6 14-18 18-30 1-6-6-4-7-2-11-1-42 8-46 5-74 6-36 1-18 3-12 4-12 7-4 3-3 6 7 5 18 3 7 4 0 6-3 6-10 12-19 18-9 6-8 5-18 5-24 2-24-1-26-5-22-5-4-7 10-12 19-18 9-6 14-5 39-13 14-6 8-5-1-7-18-2-126 0 0-46zM-443 152l17-2 30-2 54 0 48 0 30 3 36 4 18 3 18 6 6 3 24 17 22 10 10 6 3 6 0 18 4 6 9 6 6 2 54 2 12-1 6-3 14-12 10-3 6-1 120-6 156-6 24-2 36-8 42-13 18-7 42-22 12-4 36-3 36-1 0 124-1032 0 0-81 66 0 6 0 3-3 2-6 0-6-5-12-1-6 1-5z"/>
<path fill="#e8251f" d="M-516 -268l1032 0 0 50-108 0-6 1-2 3 16 12 14 6 8 2 78 1 0 68-24-2-42-7-9-2-15-6-33-30-5-6 1-6 8-12-4-6-15-8-6-2-12-4-18-2-18 0-36 4-30 2-30 4-24 7-15 5-21 11-18 13-6 1-48 2-54-1-30 2-12 2-42 12-6 1-18-1-24-4-6-2-9-6-4-6 3-6 12-18 10-17 9-13 2-6-6-6-23-2-60 9-47 5-55 4-36 0-12 2-12 3-12 6-12 7-3 2-2 6 8 6 15 3 6 2 3 1 1 6-3 6-9 12-18 18-16 10-18 5-24 2-24-1-19-4-22-6-6-6 9-12 19-18 9-6 16-6 39-12 9-3 4-3 8-6 4-6-10-2-12-1-132 0 0-45zM-415 152l79-2 48 0 18 1 42 5 24 5 12 4 6 3 18 13 24 13 8 6 3 6 1 6 0 6 0 6 0 2 2 4 10 9 6 2 12 2 60 3 18-1 9-3 3-3 4-9 7-6 7-1 102-7 114-5 54-1 36-4 18-4 54-17 12-6 36-21 6-2 12-2 20-2 46 0 0 120-1032 0 0-75 78 0 6-3 2-6 1-6-3-6-8-12-1-6 3-2 18-3z"/>
<path fill="#e51e1d" d="M-516 -268l1032 0 0 46-120 0-7 2 7 9 12 8 6 3 18 7 12 2 72 0 0 65-18-1-24-4-25-5-18-6-34-30-5-6 1-6 9-12-3-6-3-2-12-7-12-5-6-1-12-2-30 0-36 4-36 2-24 4-36 10-21 9-21 14-6 3-6 2-42 1-48-2-36 2-12 2-42 12-6 1-12-1-26-4-4 0-10-6-4-6 2-6 11-18 6-12 7-10 8-8 2-6-4-6-6-2-24-2-73 10-53 6-78 3-12 2-12 4-12 6-12 7-2 2-2 6 7 6 21 5 5 1 2 6-2 6-9 12-14 15-6 5-12 7-18 5-24 2-24-1-12-3-22-6-7-6 3-6 9-12 13-12 10-6 18-6 36-11 12-4 6-4 12-11-6-4-18-1-18 1-120 0 0-44zM-342 152l48-1 18 1 54 6 24 6 12 5 18 13 22 12 7 6 4 12 0 6-2 6 2 6 9 10 6 5 6 2 6 1 30 2 72 2 18-1 14-3-2-6-4-5-2-7 12-6 84-7 102-4 78-1 24-2 24-6 9-4 33-9 18-10 23-17 13-5 36-3 42-1 0 88-174 0-12-3-12-1-30 3-26 6 8 3 18 1 228 0 0 20-1032 0 0-66 90 0 6-3 4-9 1-6-4-6-12-12-4-6 3-5 24-3 60-3zM-324 241l-1 2 5 5 14 3 24 1 24 0 24-1 21-3-27-1-60-7-18-1z"/>
<path fill="#e0181d" d="M-516 -268l1032 0 0 42-132 0-5 0-7 5-12-2-6 0-66 7-42 3-30 5-24 7-27 11-18 12-9 3-24 3-18 1-42-4-18 0-30 4-42 11-12 3-18-2-24-4-5-3-5-6 2-6 16-30 4-6 12-12 2-6-2-6-12-4-24-1-93 11-39 4-72 2-18 2-12 4-12-1-48 2-120 0 0-43zM-373 -196l7 0 8 6 28 6 5 6-3 6-3 6-10 12-6 6-13 11-6 3-12 4-24 3-24-1-11-2-21-6-9-6 2-6 9-12 12-12 10-6 16-6 40-10zM411 -196l3 0 30 7 72 0 0 62-18-1-18-3-23-5-20-6-11-7-12-11-13-12-4-6 0-6 8-6 3-4zM-390 158l30-1 36-3 42-1 60 6 18 4 12 4 6 3 18 13 20 11 6 6 3 6 1 6-1 6-3 6 1 6 3 6-2 6-10 4-6 1-48-1-24-1-60-10-12-2-18-6-24-12-25-15-14-6-21-6-18-11-7-7-1-6 14-3 18-2zM483 158l33 0 0 77-144 0-6-2-4-2 41-31 2-6-2-6 4-6 13-12 12-5 6-2 18-2 24-2zM-516 218l0-2 120 0 18 6 12 5 6 3 7 6-7 3-156 0 0-15zM112 218l116-4 84 2 15 2-6 6-11 6-22 7-49 11-5 4-12 2 0 6-180 0 0-6 2-6 0-6 0-12 13-6 51-5z"/>
<path fill="#db141e" d="M-516 -268l1032 0 0 38-144 0-19-2-5 1-3 5-9 2-42 7-53 3-43 9-11 3-19 8-9 4-15 9-6 2-18 3-24 1-54-3-36 5-25 7-29 6-18-1-22-5-2-1-4-5 1-6 13-30 5-6 13-12 2-6-1-6-5-3-9-3-21-1-12 1-120 13-54 1-31-2-41 9-42 3-120 0 0-42zM-387 -190l15-2 18 6 18 3 6 3 2 2-2 6-3 6-9 12-6 6-12 10-6 3-12 4-24 3-24-1-12-2-13-5-10-6 1-6 3-6 5-6 13-12 9-6 16-5 24-6zM412 -190l2-1 6-1 24 4 72 1 0 59-18-1-18-3-17-4-19-6-18-11-21-19-4-6 2-5 5-4zM-341 158l53-3 18 0 54 7 13 2 16 6 19 14 17 10 7 6 3 6 1 6-2 6-4 6-1 12-3 3-6 4-12 1-42 0-30-3-48-11-24-8-12-6-42-23-42-16-6-7 6-3 9-3 39-3 18-2zM461 164l19-1 36 0 0 58-120-1-1-2 7-3 1-3 15-12 5-6 3-6-1-6 0-6 8-6 23-5zM147 218l69-3 30 1 40 2 13 6-9 6-19 6-31 9-30 6-24 2-42 2-54-1-18-2-12-4 4-18 12-6 32-3 36-2z"/>
<path fill="#d51120" d="M-516 -268l1032 0 0 34-174-1-5 3-3 6-40 8-54 4-42 7-12 3-21 8-27 13-24 3-18 1-12 0-30-3-12 0-36 6-24 8-18 4-12 2-12-1-15-3-13-6 2-12 8-23 6-7 8-5 6-6 2-7 0-6-4-3-6-3-24-2-18 0-33 2-87 10-48 1-30-2-18 3-36 7-36 4-120 0 0-41zM-405 -184l21-4 6-1 6 0 30 6 6 2 5 3-1 6-3 6-9 12-6 6-7 6-9 6-12 4-24 3-21-1-9-1-14-5-8-6 0-6 2-6 10-12 7-6 10-5 17-6zM411 -184l9-4 6-1 24 3 66 0 0 57-30-3-17-4-19-6-18-11-23-19-4-6 3-4zM-317 158l35-2 24 1 42 6 18 5 12 5 34 21 6 6 3 6 1 6-3 7-5 5-4 12-8 5-6 1-48 0-24-3-24-6-18-5-18-7-19-9-11-6-42-30-4-6 40-8 18-3zM460 176l14-4 42 0 0 11-60-1zM175 218l41-1 30 1 18 1 6 1 11 4-7 6-28 10-18 4-30 6-24 2-42 0-42-1-14-3 0-6 4-12 13-6 27-2 54-3z"/>
<path fill="#d00d21" d="M-516 -268l1032 0 0 30-162 0-18-1-6 1-2 0 0 6-5 6-29 7-54 4-48 7-60 21-18 2-18 2-54-4-36 8-19 7-26 6-9 1-12-1-12-3-6-3-3-6 1-12 2-12 6-8 13-10 6-6 2-6 0-6-5-6-4-1-18-2-24-1-42 3-78 8-48 0-30-2-10 1-44 11-30 4-132 0 0-39zM-395 -184l11-2 12 0 30 5 8 3 0 6-3 6-8 12-15 14-9 4-9 3-24 4-18-1-12-3-9-3-7-6-1-6 2-6 4-6 12-12 11-6 24-5zM420 -184l6-1 6-1 24 2 60 0 0 55-18-2-12-2-12-3-18-6-20-12-22-18-3-6 3-2zM-292 158l22-1 48 6 24 6 12 5 6 4 26 16 6 6 3 6 0 6-3 6-7 6-5 12-8 3-48 1-24-3-18-4-18-6-30-13-14-8-15-12-11-12-2-6 3-6 15-6 12-2 24-3zM206 218l28 0 24 3 11 3-6 6-17 7-30 7-30 5-18 2-36-1-32-2-4-2-3-4 0-6 2-6 16-6 93-5z"/>
<path fill="#cb0922" d="M-516 -268l1032 0 0 27-186 0-6 1-6 2 3 6-6 6-21 5-12 2-42 3-42 6-15 2-27 9-24 5-24 4-24 1-30-3-12-1-18 7-24 6-26 8-22 4-12-2-7-2-5-6-3-6 0-6 0-6 3-9 2-3 18-12 6-6 2-6 0-6-3-6-13-3-24-2-30 0-30 1-72 7-84 0-19 3-41 10-24 4-132 0 0-38zM-411 -178l21-4 12-1 24 2 12 2 4 1 1 6-2 6-8 12-13 12-12 7-18 4-12 1-12-1-12-1-10-4-7-6 0-6 2-6 3-6 12-11 12-5zM420 -178l12-5 6 0 18 1 60 0 0 52-12-1-18-3-12-3-13-5-20-12-21-18zM-318 164l36-5 18 0 48 6 18 5 12 5 30 19 7 6 2 6 0 6-3 5-9 7-3 8-4 4-2 1-6 1-42 0-18-1-25-7-41-17-12-7-8-6-12-12-2-6-1-6 4-6 13-5zM134 224l76-4 18 0 12 2 17 3-4 5-19 7-30 7-30 4-30 0-18-2-9-4-5-6 2-6 18-5z"/>
<path fill="#c50624" d="M-516 -268l1032 0 0 24-198 0-5 0-1 2-1 4 3 6-5 6-21 5-60 5-42 6-36 8-42 4-24 1-30-4-12 0-6 2-3 3-9 6-6 2-36 10-24 5-6 0-6-1-6-4-6-7-1-5-1-6 1-6 4-6 20-12 7-6 2-6 1-6-1-6-8-4-6-1-36-2-30 0-33 1-63 5-78 1-18 2-36 9-42 8-132 0 0-37zM-400 -178l16-3 12 0 18 1 12 3 3 5-2 6-3 6-4 6-13 12-11 6-6 2-18 3-18-1-18-4-7-6 0-6 3-6 4-6 12-9 18-8zM430 -178l8-2 6-1 72 0 0 50-24-2-12-3-15-6-19-12-13-12-4-6zM-301 164l25-4 12 1 24 2 18 2 12 3 10 2 14 7 28 17 7 6 2 6-1 7-5 5-7 6-3 6-3 3-6 3-48 1-18-3-12-3-12-4-31-15-11-5-8-7-5-6-4-6-2-6 0-6 5-6 14-4zM161 224l55-2 27 2-2 6-25 8-18 4-18 2-18 0-14-2-11-6-1-6 20-4z"/>
<path fill="#c00225" d="M-516 -268l1032 0 0 21-192 0-12 0-6 1-6 3 6 5 1 6-4 6-3 1-18 4-42 3-48 5-42 7-48 0-18-1-12-4-24-12-6-2-6 0-6 3-1 2-1 18-4 6-12 6-12 3-18 4-18 1-6-1-6-1-6-5-3-7 0-6 5-6 23-12 9-6 2-3 9-9 3-6 1-6-67-2-36 0-42 1-60 3-78 1-20 3-34 9-24 5-18 3-132 0 0-35zM-390 -178l18-2 18 2 6 1 6 5-1 6-2 6-5 6-5 6-11 8-10 4-8 2-18 2-12-1-13-3-8-6 0-6 3-6 6-6 12-9 12-5 12-3zM441 -178l15-1 60 0 0 47-12-1-12-1-12-3-11-5-10-6-15-12-5-6-2-6 1-2zM-289 164l19-2 48 4 18 5 24 11 20 12 7 6 2 6-1 6-14 12-3 6-5 3-6 2-36 0-18-1-18-5-37-17-11-6-7-6-6-6-3-6-1-6 1-6 6-6 16-4zM189 224l21 0 18 0 1 6-18 6-25 4-12-1-8-3-3-6 23-5z"/>
<path fill="#b90026" d="M-516 -268l1032 0 0 18-192 0-24 1-6 5 6 6 1 6-4 6-21 4-90 8-36 5-30-3-24-4-12-4-24-12-30-10-14-8-52-3-96 0-150 4-6 0-24 5-30 8-30 6-12 1-132 0 0-33zM-22 -214l10-3 6-1 12 1 6 2 6 7 1 6-4 6-15 5-12 2-7-1-11-2-6-4-3-6 6-6 9-5zM-375 -178l15 1 12 3 3 2 0 6-2 6-4 6-6 6-9 7-12 5-18 3-12 0-15-3-9-6 0-6 3-6 6-6 15-9 18-6 12-2zM455 -178l61 0 0 45-12-1-18-3-13-5-11-6-8-6-6-6-4-6-1-6 7-4zM-281 164l11-1 12 1 30 3 18 3 24 10 24 14 7 6 2 6-2 6-14 12-4 6-7 3-42 0-18-2-24-9-20-10-10-6-8-6-5-6-3-6 0-6 2-6 8-5 18-6zM191 230l13-1 6 0 3 1-15 2-6-1z"/>
<path fill="#b00026" d="M-516 -268l1032 0 0 15-198 0-30 1-7 2 7 5 7 7 0 6-4 6-15 3-126 10-18-2-24-6-24-8-55-21-23-2-42-3-120 0-114 3-24 2-54 14-24 4-144 0 0-30zM-10 -208l10-1 6 1 3 6-3 3-6 2-6 0-6-1-4-4 4-4zM-395 -172l11-3 12-1 12 0 6 2 6 2 1 6-2 6-4 6-5 6-8 6-12 5-12 2-18 1-12-2-9-6 0-6 4-6 5-5 12-8 12-4zM449 -172l7-3 6-1 54 0 0 42-19-2-21-6-11-6-7-6-6-6-3-6zM-290 170l14-4 6-1 12 0 30 3 12 2 12 4 24 10 16 10 7 6 2 6-2 6-22 18-7 1-36 0-12 0-18-6-18-8-19-11-7-6-5-6-3-6 0-6 3-6 7-4z"/>
<path fill="#a70026" d="M-516 -268l284 0 0 12-38 2-18 2-66 16-18 1-144 0 0-27zM-12 -268l528 0 0 13-216 0-18 1-6 3 0 1 9 6 4 6 1 6-5 6-15 3-60 4-54 3-12-1-18-4-48-14-37-15-23-3-30-3 0-6zM-390 -172l12-2 18 0 8 2 3 6-1 6-4 6-6 6-12 8-12 4-12 1-16-1-8-2-6-4 0-6 4-6 6-6 14-7 12-4zM455 -172l7-2 6 0 48 0 0 39-18-1-19-6-11-6-7-6-6-6-2-6zM-283 170l7-2 12-2 42 4 18 5 24 11 14 8 7 6 2 6-3 6-20 15-6 2-42 0-18-3-18-8-20-12-7-6-5-6-2-6 0-6 4-6 6-3z"/>
<path fill="#9e0026" d="M-516 -268l238 0 0 12-22 4-5 2-25 7-18 3-6 2-6 0-156 0 0-24zM13 -268l245 0 0 12 6 2 16 10 3 6 1 6-6 6-8 1-66 5-54 0-18-3-25-9-29-7-30-12-35-5 0-6zM-383 -172l11-1 14 1 4 3 3 3-1 6-4 6-4 5-10 7-8 3-12 3-12 0-12-1-8-5-1-6 3-6 12-9 12-5 12-3zM462 -172l6-1 48 0 0 37-18-1-18-5-9-6-8-6-5-6-2-6zM-277 170l7-1 12-1 36 4 18 5 24 10 11 7 7 6 2 6-3 6-17 12-6 3-6 1-36-1-18-3-18-8-16-10-7-6-4-6-3-6 1-6 5-5 6-4z"/>
<path fill="#960026" d="M-516 -268l226 0 0 12-16 3-5 3-19 5-4 1-20 3-162 0 0-21zM39 -268l208 0 0 12 17 6 10 6 4 6 0 6-8 6-6 1-66 3-30 0-18-1-12-3-60-16-18-9-6-2-15-3 0-6zM-398 -166l14-4 12-1 12 1 6 4 0 6-3 6-6 6-9 6-12 4-18 1-12-2-5-3-1-6 3-6 7-6 8-4zM460 -166l2-2 6-3 48 0 0 34-18-1-13-4-12-6-7-6-5-6zM-269 170l11 0 12 0 30 5 24 8 18 10 10 7 1 6-4 6-13 10-6 3-6 1-12 0-30-1-18-5-18-9-13-11-5-6-2-6 2-6 7-6 11-5z"/>
<path fill="#8d0026" d="M66 -268l171 0 0 12 15 4 7 2 9 6 4 6-1 6-1 1-6 2-17 3-49 3-37-3-17-2-58-16-13-6-7-6 0-6zM-516 -250l0-4 192 0 6 2 1 2-25 4-174 0zM-395 -166l11-3 12-1 6 0 6 2 3 2 1 6-3 6-7 7-12 7-12 2-12 0-6-1-8-3-2-6 3-6 8-6 11-5zM464 -166l4-2 6-1 42-1 0 32-18-1-12-3-12-7-6-5-4-6zM-275 176l11-4 18 0 30 5 24 8 18 9 7 6 2 6-5 6-10 8-6 3-6 1-36-1-12-1-18-6-15-10-7-6-4-6-2-6 2-6 8-5z"/>
<path fill="#840026" d="M91 -268l136 0 0 12 13 3 13 3 9 6 3 6-1 3-3 3-39 6-29 0-25-2-24-5-46-11-14-5-1-1 1-2 7-4 0-6zM-391 -166l7-1 12-2 6 1 6 2 3 6-3 6-6 6-12 7-18 2-12-1-5-2-2-6 3-6 7-6 9-4zM468 -166l6-2 6 0 36 0 0 29-18-1-12-4-8-4-7-6-5-6zM-270 176l6-2 6-1 24 2 24 5 23 8 10 6 7 6 2 6-5 6-13 8-12 3-30-1-18-3-12-5-12-8-7-6-4-6-2-6 1-1 3-5 9-5z"/>
</g>
<use href="#co"/>
</g><use href="#ro"/></g>
<text class="t" x="1560.6" y="120.8">ifs-fesom</text>
<rect x="1152.6" y="676.1" width="816.0" height="40.0" fill="url(#cb)" stroke="#000" stroke-width="1.67"/>
<path d="M1212.0 716.1v7.3" stroke="#000" stroke-width="1.67"/>
<text class="k" x="1212.0" y="747.4">100</text>
<path d="M1344.1 716.1v7.3" stroke="#000" stroke-width="1.67"/>
<text class="k" x="1344.1" y="747.4">200</text>
<path d="M1476.3 716.1v7.3" stroke="#000" stroke-width="1.67"/>
<text class="k" x="1476.3" y="747.4">300</text>
<path d="M1608.4 716.1v7.3" stroke="#000" stroke-width="1.67"/>
<text class="k" x="1608.4" y="747.4">400</text>
<path d="M1740.5 716.1v7.3" stroke="#000" stroke-width="1.67"/>
<text class="k" x="1740.5" y="747.4">500</text>
<path d="M1872.6 716.1v7.3" stroke="#000" stroke-width="1.67"/>
<text class="k" x="1872.6" y="747.4">600</text>
<text class="k" x="1560.6" y="776.1">Pa</text>
<g transform="translate(2603.00 387.85)">
<g clip-path="url(#rc)"><g filter="url(#bl)"><rect x="-540" y="-290" width="1080" height="580" fill="#fffbc3"/>
<path fill="#fff9bc" d="M-516 -268l1032 0 0 235-42-1-66-6-30-1-84 7-132 5-54 12-18 1-30 1-12 0-36-7-36-2-42-5-12-1-78 5-54 1-126-5-72-3-108-2 0-228zM-237 20l51-2 24 0 12 1 30 6 48 14 18 2 48 0 12 0 12-4 30-16 6-2 12-1 18 1 18 3 24 7 24 8 7 1 11 2 25-2 71-9 36-4 30-2 36-1 30 2 24 3 66 14 12 1 18-1 0 231-1032 0 0-232 12 1 18 0 54-2 150-15 42-3z"/>
<path fill="#fff6b6" d="M-516 -268l1032 0 0 218-36 0-78-8-48 0-96 7-96 1-18 3-30 9-12 3-12 1-18 1-24 0-60-3-18-3-36-9-12-2-138-1-126 0-66 1-108 0 0-212zM311 38l37-2 30 0 30 5 36 9 24 5 18 2 30 0 0 215-1032 0 0-216 42 1 60-1 88-6 98-8 60-1 24 2 31 7 34 6 19 2 60-1 18-2 18-5 18-7 12-2 6 0 18 2 26 7 28 6 18 2 18 0 22-2 20-2 60-11 24-4z"/>
<path fill="#fff3b0" d="M-516 -268l1032 0 0 210-42-1-66-7-48-2-30-1-18 2-54 6-102 1-21 2-39 8-12 2-90-1-12-1-34-8-14-1-42 1-60-1-48-4-66 3-54-3-42 4-24 1-114 0 0-204zM327 50l27-1 18 0 18 2 36 8 28 3 32 2 30 1 0 207-1032 0 0-208 54 0 84-1 132-4 54-3 36 1 46 5 32 3 78 0 18-1 30-6 18-2 18 1 60 7 48 1 52-3 80-11z"/>
<path fill="#fff1a9" d="M-516 -268l1032 0 0 205-30 0-18-2-54-7-66-6-24-1-66 10-18 1-84 0-18 1-36 6-18 1-84-1-60-5-48 2-60 0-18-2-30-5-66 3-48-5-12 1-36 6-24 2-96 1-18-1 0-198zM344 62l34 0 60 7 36 1 42 0 0 202-1032 0 0-202 78 0 198-1 42-3 36 1 36 3 36 1 90 1 18-1 36-6 12 0 78 6 66 1 54-2 78-7z"/>
<path fill="#ffeea3" d="M-516 -268l1032 0 0 200-30 0-18-1-54-8-78-10-12-1-6 1-36 8-30 4-24 0-54-2-18 0-54 6-18 1-36 0-78-2-30 0-48 4-54-1-18-1-36-8-60 0-36-5-12 0-12 2-36 9-24 3-96 1-24-1 0-193zM43 74l23-1 84 4 60 1 48-1 114-5 60 3 84 1 0 196-1032 0 0-197 210 0 168 3 138 0 18-1 24-2z"/>
<path fill="#ffec9d" d="M-516 -268l1032 0 0 196-30 0-24-2-43-8-53-7-30-6-12-1-6 0-18 8-12 3-36 4-18 0-30-2-18-3-24-6-24-1-18 1-30 5-42 1-108 9-30 4-18 1-48-1-18-1-30-8-46-6-14-3-12-4-12-2-36 4-24 10-24 6-24 4-96 1-24-1 0-189zM-516 80l204 1 72 1 18 3 12 4 12 12 6 4 6-1 18-9 18-6 18-3 18-1 54-1 90 0 60-2 126 1 114-2 48 1 48-1 90-1 0 192-1032 0 0-186z"/>
<path fill="#ffe997" d="M-516 -268l1032 0 0 192-30 0-24-2-90-14-48-12-6 0-6 2-12 9-6 3-12 3-30 2-24-1-18-2-12-2-12-5-24-11-35-5-37-2-36 0-12 1-30 15-32 9-16 4-66 8-42 0-30-3-63-15-14-6-19-11-6-2-12 1-30 9-6 2-18 11-18 6-30 7-18 1-84 0-24-1 0-185zM-516 86l0-2 120-1 96 1 60 3 12 2 8 3 10 8 12 12 6 3 6 2 6-1 14-6 10-5 9-7 9-4 12-3 30-2 48-1 48 2 18 1 30 6 6 0 30-7 24-3 186-1 42 1 36 5 6 1 24-5 24-3 90-2 0 189-1032 0 0-180z"/>
<path fill="#ffe691" d="M-516 -268l1032 0 0 189-42-1-72-10-36-7-36-12-12-2-6 1-10 10-8 6-6 3-12 2-12 1-30-1-18-2-12-3-12-6-22-12-8-2-36-5-30-2-42 1-18 2-18 6-42 20-12 3-18 3-48 7-42-1-30-3-45-11-14-6-31-19-12-4-6 0-6 1-30 12-18 13-12 6-30 8-18 3-12 1-84 0-24-2 0-181zM-468 86l162 1 36 1 30 3 12 3 6 3 6 4 18 16 12 5 6 0 24-9 6-3 12-9 6-2 12-3 30-3 42 0 48 1 18 3 24 8 12 2 11-3 25-9 12-2 18-1 90-3 84 0 42 3 12 3 18 5 6 1 12-2 24-8 12-2 18-1 78-2 0 186-1032 0 0-185 42 0z"/>
<path fill="#fee38b" d="M-516 -268l1032 0 0 186-48-1-60-8-36-9-12-3-24-9-18-5-6 0-6 3-11 14-10 6-9 2-12 1-24 0-18-3-18-6-30-17-12-4-42-4-24-1-48 1-12 2-17 5-16 6-22 12-11 5-12 4-24 4-36 5-42-1-30-3-42-11-6-3-17-12-31-18-6-2-6-1-6 2-30 16-18 15-6 4-18 6-18 5-12 2-18 1-84 0-24-2 0-178zM-516 92l0-2 96-2 108 1 54 3 18 2 12 4 6 3 19 15 11 7 6 3 6 1 29-11 13-8 12-6 18-3 30-2 36-1 42 3 18 4 20 7 16 2 13-2 17-7 12-4 12-2 24-2 78-3 78-1 42 4 12 4 18 7 12 1 11-3 25-9 18-4 90-2 0 183-1032 0 0-174z"/>
<path fill="#fee085" d="M-516 -268l1032 0 0 184-42-1-60-8-18-3-24-7-42-16-18-3-6 1-5 3-7 13-4 5-8 4-18 3-24-2-12-2-18-5-6-4-24-15-12-4-42-5-24-1-48 2-18 3-11 2-25 9-7 4-17 10-12 5-30 7-36 4-36 0-36-4-24-6-13-5-11-6-12-9-18-10-18-14-6-2-6 1-6 3-24 13-6 5-18 16-6 4-6 2-24 8-18 3-24 2-78-1-24-2 0-175zM-504 92l78-2 90 1 42 1 42 3 12 2 12 4 30 21 12 7 6 2 6-1 24-10 24-13 18-3 30-3 36-1 42 3 12 3 24 8 12 2 6 0 18-3 24-9 18-4 84-5 78-2 24 2 24 3 12 3 22 9 14 1 6-1 30-12 12-3 18-2 78-2 0 181-1032 0 0-179 6 0z"/>
<path fill="#fedd7f" d="M-516 -268l1032 0 0 182-30-1-24-2-30-3-24-4-18-4-15-6-45-17-18-4-6 0-6 2-3 1-4 6-3 12-8 7-12 3-24-1-15-3-16-6-9-6-14-11-12-5-12-2-66-5-48 2-20 3-36 12-22 13-12 6-30 8-12 2-24 2-36 0-36-5-30-8-10-6-14-12-22-12-14-13-6-3-6-1-12 5-24 15-30 25-12 5-18 6-24 4-30 1-66-1-24-2 0-173zM-438 92l126 1 36 2 24 3 12 2 12 4 26 18 10 7 12 5 6 0 26-12 22-10 6-2 24-4 24-2 30 0 42 3 12 3 21 6 9 2 12 1 17-3 31-10 18-2 84-7 72-2 24 2 24 4 12 4 12 6 18 3 6 0 12-3 24-10 18-5 90-3 0 179-1032 0 0-177 78-2z"/>
<path fill="#feda79" d="M-516 -268l1032 0 0 180-48-2-54-7-18-4-13-5-41-17-12-4-12-3-12-2-6 0-9 2-4 6 0 12-2 6-3 3-6 3-6 1-21-1-9-1-13-5-7-6-13-18-3-2-6-3-6-1-42 1-48-4-42 2-12 1-12 3-24 7-18 7-30 17-18 6-18 4-30 3-36 0-36-6-17-5-13-4-6-4-12-12-5-4-19-9-3-3-11-12-4-2-6-2-6 1-6 2-30 18-12 10-12 12-6 4-18 8-18 5-24 3-30 1-60-1-24-2 0-171zM-516 98l42-3 66-1 96 1 42 3 24 3 12 3 6 3 18 13 24 14 6 3 6 0 12-6 42-17 24-4 24-2 24-1 30 2 24 3 30 8 18 1 18-2 30-9 24-4 78-7 66-2 24 2 24 4 12 4 9 3 15 5 12 2 12-2 13-5 17-7 18-4 90-4 0 177-1032 0 0-168z"/>
<path fill="#fed673" d="M-516 -268l1032 0 0 178-48-2-36-4-18-3-24-7-42-19-18-7-18-5-18-2-12 0-6 1-3 2 8 24-2 6-9 4-6 0-18-2-7-2-7-6-2-11 3-7 1-1 12-8 5-3-17-4-18-2-18 2-30 7-12 1-54-4-24 0-30 3-18 5-30 10-14 6-22 13-24 8-12 3-18 2-18 1-24 0-36-5-13-4-17-6-9-6-9-9-6-5-19-10-5-4-6-8-6-6-6-2-6 0-12 3-30 19-30 27-12 6-18 6-24 4-30 1-60-1-30-2 0-169zM-488 98l50-2 54 0 78 1 42 4 18 3 12 3 24 15 30 18 6 0 18-9 36-13 24-4 24-2 24-1 24 1 24 3 36 7 18 1 18-2 30-8 12-2 72-8 30-2 54-2 12 1 18 2 24 6 24 8 18 2 14-2 34-12 12-3 90-4 0 175-1032 0 0-172 24-1z"/>
<path fill="#fed16d" d="M-516 -268l1032 0 0 176-54-2-36-4-18-4-18-6-48-24-36-13-48-11-18 1-30 3-24 4-18 5-12 1-54-3-24 1-31 2-17 5-24 8-13 5-29 16-18 7-12 4-12 2-18 2-36 1-36-7-24-8-7-5-17-17-22-13-10-12-4-2-6-3-6-1-12 1-6 2-36 25-18 18-6 4-12 6-18 7-24 4-30 2-60-2-30-2 0-167zM253 -124l5-1 6 2 6 5 4 6-4 5-3 1-9 0-13-6 0-6 7-5zM-451 98l49-1 84 2 30 1 24 3 18 4 12 3 20 12 16 9 18 11 6 1 6-2 12-7 36-13 48-6 18 0 24 1 30 2 36 6 18 1 22-3 26-5 18-3 72-9 36-3 42-1 24 3 24 5 24 8 12 2 12 1 18-3 30-11 12-3 90-5 0 174-1032 0 0-170 60-3z"/>
<path fill="#fecb67" d="M-516 -268l1032 0 0 175-36-2-24-2-36-4-16-5-15-6-29-15-36-17-25-16-11-4-6-1-30 2-12 2-84 16-12 0-48-2-24 1-30 3-12 3-24 9-48 23-24 9-18 3-36 2-12 0-12-2-24-6-12-4-12-6-6-6-12-14-18-12-16-16-14-4-12 0-6 1-6 3-30 21-30 27-12 6-18 7-18 4-36 2-60-1-30-3 0-165zM-507 104l45-3 54-2 90 1 42 3 24 5 18 6 16 8 20 10 18 12 6 2 6-2 12-8 30-11 12-2 42-4 18-1 24 1 30 2 36 5 18 1 18-2 36-7 84-11 32-3 40-1 24 2 30 7 24 7 12 2 12 0 18-2 36-12 96-7 0 172-1032 0 0-167 6 0z"/>
<path fill="#fec661" d="M-516 -268l1032 0 0 173-54-3-36-4-18-4-12-5-12-6-24-14-31-17-26-18-9-4-6-2-12-2-16 2-26 6-20 6-52 12-18 1-54-2-26 1-22 3-15 3-15 6-48 23-30 13-18 3-36 2-12-1-12-2-27-8-9-3-4-3-7-6-5-6-8-12-13-12-11-12-13-6-17-1-12 0-6 1-6 4-30 20-30 27-12 7-18 7-24 5-30 2-60-2-30-3 0-163zM-482 104l44-2 42-1 78 1 36 3 30 5 18 7 23 11 13 6 18 12 6 2 6-1 12-9 24-8 12-3 36-4 42-1 42 2 42 4 18 0 138-19 36-3 30-1 12 1 12 2 60 14 18 1 18-3 36-11 96-7 0 170-1032 0 0-165 30-2z"/>
<path fill="#fec05b" d="M-516 -268l1032 0 0 172-36-2-24-2-30-4-18-4-12-5-12-6-24-16-24-14-34-23-14-5-12-1-12 0-27 6-21 9-12 3-48 10-12 1-48-1-54 3-22 5-8 4-48 23-30 13-12 2-42 3-12 0-12-3-18-6-18-8-5-3-5-6-8-16-10-15-8-12-6-3-24-2-24 0-12 6-30 21-24 23-6 4-12 7-18 8-24 4-30 2-60-2-30-3 0-161zM-457 104l49-1 54 0 48 2 30 3 18 4 24 8 36 16 18 12 6 2 6-1 6-3 7-6 23-8 12-3 36-3 24-1 24 0 36 2 36 2 24 1 15-2 128-18 61-3 12 1 12 2 54 12 24 2 18-2 36-11 96-7 0 168-1032 0 0-162 24-1 30-4z"/>
<path fill="#feba55" d="M-516 -268l1032 0 0 170-60-4-30-4-18-4-12-5-12-6-30-21-45-30-15-6-12-3-6-1-32 4-16 5-15 7-9 3-48 11-12 1-54-1-36 2-19 2-23 7-42 21-36 16-12 3-42 2-12 0-12-3-24-9-10-7-6-6-4-6-10-25-5-11-5-6-2-1-6-2-6 0-42 0-6 1-6 3-34 23-26 24-12 9-18 9-12 4-30 4-24 1-54-3-30-3 0-159zM-415 104l38 0 59 2 24 2 19 2 23 7 48 17 6 3 18 13 6 2 6 0 6-3 12-9 12-5 12-3 12-2 66-3 90 4 18 0 28-3 116-15 54-3 12 0 12 1 22 5 38 8 24 1 22-3 32-8 36-3 24-3 36-2 0 166-1032 0 0-159 24-2 24-3 48-3z"/>
<path fill="#feb54f" d="M-516 -268l1032 0 0 169-42-2-24-3-24-4-18-4-18-8-12-7-30-23-33-22-11-6-10-3-9-3-9 0-13 0-33 6-26 13-36 9-12 2-12 1-42-1-24 1-30 2-20 3-19 6-39 20-36 16-12 3-42 3-12-1-16-5-20-10-10-8-5-6-2-6-6-24-3-6-3-6-6-5-7-3-6 0-48 2-6 1-6 4-36 25-30 27-12 8-18 7-12 3-12 2-30 3-54-3-30-3-6-1 0-157zM-475 110l37-3 42-1 72 2 34 2 27 6 59 20 6 2 18 13 6 3 6 0 4-2 19-12 7-3 12-4 12-1 66-3 108 3 41-4 53-6 50-7 54-3 18 1 30 6 36 6 24 2 18-2 36-8 36-3 24-4 36-3 0 165-1032 0 0-156 24-2 12-2z"/>
<path fill="#feaf4b" d="M-516 -268l1032 0 0 168-42-3-23-3-25-4-18-4-12-5-12-7-14-10-28-22-21-14-15-7-11-5-7-1-12-2-18 2-30 5-7 2-11 7-12 5-42 10-12 1-42 0-36 1-24 3-18 3-18 6-42 22-30 12-12 3-42 3-12-1-10-3-20-10-10-8-5-6-3-6-3-12-3-18-2-6-4-4-6-5-6-2-6-1-54 3-6 2-36 25-36 32-12 7-18 8-12 3-12 2-30 2-42-2-37-4-11-1 0-155zM-452 110l38-2 36 0 60 2 24 3 24 5 66 19 7 3 17 13 6 3 6 0 9-4 21-13 12-4 12-2 60-2 114 2 57-5 87-10 54-4 18 2 30 5 36 6 24 1 18-2 30-6 42-3 18-4 42-4 0 163-1032 0 0-153 30-2 12-4 18-2z"/>
<path fill="#feaa49" d="M-516 -268l1032 0 0 166-42-3-24-2-30-6-12-3-12-5-14-9-34-27-21-15-15-7-12-5-12-4-12-1-18 2-36 7-8 2-16 9-24 7-18 4-12 1-42 1-36 1-24 2-18 4-18 5-42 22-36 15-14 1-34 2-12-1-12-4-18-11-10-10-4-6-1-6-2-24-2-6-4-6-7-6-6-2-12-2-48 4-6 0-6 3-30 21-16 12-20 19-12 9-24 11-24 5-30 3-30-1-42-4-18-4 0-152zM-418 110l34 0 42 1 30 2 24 3 60 16 24 7 6 2 18 13 6 4 6 0 6-1 6-3 21-14 9-3 12-2 60-2 114 1 73-6 71-8 54-3 18 1 24 4 42 6 24 1 18-2 30-5 42-3 18-4 42-4 0 161-1032 0 0-150 30-3 12-3 12-2 42-3z"/>
<path fill="#fea546" d="M-516 -268l1032 0 0 165-42-3-30-4-24-4-18-6-12-6-12-8-30-26-18-13-18-9-12-5-12-3-12-1-18 1-36 7-12 5-12 6-6 3-36 9-18 2-36 0-30 1-24 2-18 3-18 4-6 2-42 22-36 15-12 1-36 3-12-2-11-5-17-12-7-6-4-6-2-6-2-30-2-6-9-7-9-5-9-1-54 4-6 1-6 3-36 26-36 31-12 8-18 7-12 4-12 2-30 2-36-1-36-4-18-4 0-150zM-460 116l34-3 36-1 48 2 42 3 66 15 30 8 6 3 18 13 6 3 6 1 12-3 12-7 14-10 16-3 60-3 114 2 89-8 49-5 60-4 12 1 65 8 19 2 18-1 14-1 28-4 36-2 24-5 42-3 0 158-1032 0 0-148 30-2 6 0 12-4 6-1z"/>
<path fill="#fea044" d="M-516 -268l1032 0 0 164-36-3-30-4-24-4-18-5-12-5-12-7-12-10-24-21-12-9-12-8-12-6-12-4-12-2-12-1-18 1-42 8-24 12-36 10-18 2-36 1-36 2-18 1-18 3-24 6-42 22-36 14-18 2-30 2-6-1-12-4-16-12-7-6-5-6-2-6-1-6 0-18-1-6-1-6-4-6-8-6-9-3-12-1-54 4-6 2-12 7-30 22-36 32-12 7-18 8-24 5-24 3-30-1-42-5-24-4 0-148zM-436 116l34-1 36 0 36 2 30 3 72 15 24 7 6 3 24 16 6 1 12-3 12-5 20-14 10-1 60-3 114 1 105-9 33-3 54-3 18 0 72 8 30 0 42-4 36-2 24-4 42-4 0 156-1032 0 0-146 36-2 12-4 30-3z"/>
<path fill="#fd9a42" d="M-516 -268l1032 0 0 162-36-3-36-4-18-3-18-6-12-5-14-9-34-30-24-17-12-6-12-3-12-3-12-1-18 2-42 9-6 2-26 11-19 6-15 4-84 3-24 2-16 3-23 6-39 21-36 14-18 2-30 2-11-3-7-3-18-15-5-6-3-6-1-6 0-24-1-6-3-6-5-6-12-5-12-2-18 1-36 3-6 1-12 5-36 27-36 31-12 8-18 7-24 6-24 3-30-2-42-5-24-4 0-146zM-466 122l34-3 36-2 48 1 42 4 24 4 54 11 18 5 12 4 18 13 6 4 6 1 12-2 10-4 8-4 12-9 6-3 6-2 54-2 120 0 138-11 54-3 18 0 72 7 30 0 78-5 18-3 48-5 0 154-1032 0 0-144 36-2 12-3z"/>
<path fill="#fd953f" d="M-516 -268l1032 0 0 161-72-8-24-4-12-4-12-5-12-8-36-33-24-17-18-8-12-2-18-2-18 2-42 9-11 3-28 12-27 8-90 4-18 2-22 4-20 6-36 20-30 11-12 3-36 3-12-2-6-2-12-9-12-12-3-6-1-6 0-24-2-8-5-10-7-5-12-4-12 0-54 4-12 3-12 7-36 28-30 27-12 7-18 8-24 6-24 2-30-1-42-5-24-6 0-143zM-446 122l38-2 42 0 30 1 42 5 60 11 24 6 12 5 18 13 6 3 6 2 12-1 12-3 6-3 12-10 6-4 6-1 30-3 30-1 114 0 84-8 102-6 24 0 78 6 24 0 75-4 21-4 48-4 0 152-1032 0 0-142 37-2 5 0 6-3 18-2zM84 200l24 1 63-1-69-1-12 0z"/>
<path fill="#fd903d" d="M-516 -268l1032 0 0 160-72-8-18-4-18-5-11-5-10-6-7-6-32-30-24-18-6-3-12-4-12-2-18-1-18 2-42 9-12 3-34 14-20 6-12 1-42 2-42 3-18 2-21 4-18 6-33 18-30 12-12 3-30 1-12 0-10-4-9-6-12-12-3-6-2-6 0-24-2-12-3-6-7-6-12-5-12-1-24 1-30 3-12 2-6 2-12 7-36 29-30 27-18 10-12 5-24 5-24 3-24-1-42-5-18-3-12-4 0-141zM-413 122l41 0 36 2 30 2 36 6 48 10 18 5 12 6 18 13 6 2 12-1 18-3 18-14 6-3 24-2 36-2 108 1 12-2 7-2 65-6 54-4 54-2 18 0 90 5 24-1 66-2 24-4 48-3 0 149-1032 0 0-141 36-1 6-1 12-3 6-1 42-2zM60 194l-6 1-10 5 16 3 30 2 66 0 54-4-18-3-66-4-30-3-30 2z"/>
<path fill="#fd893b" d="M-516 -268l1032 0 0 158-78-9-18-3-12-4-18-10-6-4-36-35-12-11-12-8-6-3-12-3-24-2-18 1-54 11-47 18-13 4-18 2-48 2-36 3-36 7-18 6-34 18-20 8-18 5-24 1-18-1-6-2-8-5-12-12-4-6-2-6-1-6 1-18-4-18-4-6-8-5-12-3-12 0-46 2-20 3-12 6-18 13-54 47-12 8-18 7-18 5-30 4-24-2-42-5-18-3-12-4 0-139zM-464 128l38-3 54-1 36 1 48 5 60 12 24 6 12 6 18 13 6 3 6 0 24-2 6-3 12-10 6-4 12-2 12-1 48-1 96 4 12-2 18-6 5-3 52-6 51-3 72-2 84 4 24 1 72-3 30-4 42-3 0 148-1032 0 0-140 36-1 12-2zM48 188l-12 3-6 2-8 7 31 6 43 1 78 0 18-1 24-3 18-3-18-3-18-2-66-5-36-6-42 3z"/>
<path fill="#fd8038" d="M-516 -268l1032 0 0 157-24-2-54-7-18-4-12-4-14-8-8-6-38-37-24-21-5-2-7 0-24-1-18 0-12 1-48 11-54 19-12 3-78 5-30 3-24 6-12 4-9 3-33 18-24 8-12 3-12 1-24-1-6-1-8-4-10-8-8-10-2-6-1-6 0-24-2-12-3-6-7-6-7-2-6-2-12-1-24 1-24 2-21 2-9 3-6 3-12 9-60 53-18 10-18 7-24 5-24 1-24-2-42-6-12-2-12-5 0-136zM-450 128l36-2 54 0 24 1 48 5 54 10 24 6 12 4 24 17 6 3 12 1 18-1 6-1 6-4 12-10 6-3 8-2 16 0 36 0 48 3 20 3 22 8 6 1 12-1 18-3 6-2 6-4 4-5 3-6 7-6 40-4 36-3 78-3 90 4 24 0 72-2 18-3 54-3 0 146-1032 0 0-139 42-1 12-3 12 0zM84 176l-36 1-12 2-24 11-6 4-4 6 25 6 21 2 54 0 90-1 25-1 17-2 18-4-6-1-17-5-67-4-30-3-19-5-11-4-6-2-6 0z"/>
<path fill="#fd7736" d="M-516 -268l1032 0 0 156-18-2-60-7-18-4-12-5-11-6-8-6-42-42-5-6-5-12-25-3-42 0-22 3-44 10-42 15-18 6-72 5-36 4-24 6-12 3-18 8-24 14-24 8-18 3-12 0-12 0-12-3-6-3-6-5-9-11-3-6-2-6 0-24-2-12-2-7-4-5-14-5-18-2-36 2-30 3-12 3-6 3-12 8-60 55-12 7-18 8-18 5-24 3-18 0-18-2-48-7-8-3-10-4 0-134zM-425 128l35 0 42 0 42 3 30 4 48 10 24 6 12 6 18 14 6 2 6 2 24 1 6 0 6-2 5-4 7-7 6-4 12-3 30 0 28 2 14 3 21 3 11 6-1 6-17 12-5 6-2 6 22 6 43 3 48 0 78 0 60-2 12-2 21-5-15-6-24-2-66-4-24-3-12-3-11-6-3-6-2-12 1-12 5-6 52-6 48-2 48-1 90 4 18 0 72-1 18-4 54-2 0 144-1032 0 0-138 42 0 18-4 30-1z"/>
<path fill="#fc6e33" d="M-516 -268l1032 0 0 155-78-10-18-4-12-4-8-5-8-6-35-36-5-6-3-6 1-6-2-6-12-3-18-2-48 1-12 1-54 11-48 16-12 4-23 2-55 4-30 5-37 9-15 6-26 15-24 8-12 2-12 1-18 0-12-4-5-4-12-12-4-6-1-6-1-6-1-24-2-12-2-6-8-5-6-1-12-2-12-1-30 1-36 3-17 5-13 9-28 27-32 29-18 11-12 5-24 6-18 2-18-1-18-2-48-7-18-8 0-64 78 0 19-7-7-3-90 0 0-57zM-471 134l15-3 54-2 54 1 48 3 30 5 60 13 12 4 24 17 6 3 6 2 12 2 18 1 6-1 7-3 13-12 10-3 24 1 24 4 14 4 2 6-3 12-1 13 21 5 69 4 90 0 54-1 58-3 24-6-8-6-14-2-24-2-66-4-24-4-12-3-6-3-3-6-1-6 0-18 5-6 56-6 39-1 48-1 102 4 66-1 24-3 54-3 0 143-1032 0 0-136 42-1z"/>
<path fill="#fc6530" d="M-516 -268l1032 0 0 153-78-9-18-4-12-5-13-9-35-36-4-6-1-6 2-6-3-6-17-6-19-1-48 2-18 2-48 10-60 18-96 10-48 12-19 7-23 14-14 4-22 6-12 1-12-1-12-2-6-4-12-11-5-7-2-6-1-6-1-18-3-24-6-6-12-3-18-2-30 1-42 3-12 3-10 4-8 6-30 30-24 23-9 7-15 9-18 7-24 4-18 2-24-2-48-8-12-3-6-5-6-1 0-57 72 0 17-6 14-6 1-6-104 0 0-54zM-465 134l9-2 18-1 60-1 42 1 42 4 24 4 60 13 12 5 30 20 18 5 12 2 12 1 10-3 2-1 12-10 6-3 12 0 12 2 7 6 10 24 19 6 72 5 66 1 84-1 66-3 19-2 21-6 0-6-10-2-32-4-82-4-12-2-18-6-4-6-2-12 0-12 5-6 49-5 42-1 30-1 48 1 54 3 54 0 30-1 12-3 12-1 48-2 0 142-1032 0 0-135 30 0 18-1z"/>
<path fill="#fc5c2e" d="M-516 -268l1032 0 0 152-24-2-54-8-17-4-13-5-9-7-35-36-3-5 0-7 1-6-3-6-17-6-24-2-48 2-18 1-48 10-66 18-60 6-36 5-36 10-13 4-16 6-19 12-6 2-30 8-12 1-12-1-12-3-6-5-12-12-4-8-1-6-1-18-3-24-2-6-13-4-12-2-12 0-30 0-36 3-12 1-12 4-6 2-6 4-32 34-25 24-9 7-12 7-18 7-24 4-18 1-24-2-48-8-11-4-7-6-6 0 0-49 60 0 12-3 22-8 14-6 4-6-16-1-96 0 0-53zM-461 134l41-2 60 0 30 1 36 4 66 12 24 6 12 7 12 9 12 7 24 8 12 3 12 1 16-2 8-2 6 1 14 13 20 6 74 5 78 2 90-1 72-3 27-3 18-6 4-6-7-6-120-5-12-2-16-5-6-6-4-12 0-12 6-6 50-4 48-2 60 1 54 3 60 1 24-2 18-3 54-2 0 140-1032 0 0-133 42-1 6-1 6-2z"/>
<path fill="#fc522b" d="M-516 -268l1032 0 0 151-24-2-54-8-12-3-16-6-8-6-35-36-2-6 2-12-3-6-16-6-12-2-12-1-60 2-17 1-43 9-66 17-78 8-18 4-42 13-24 8-24 14-30 7-12 1-12-1-6-2-9-6-11-12-5-6-2-6-1-18-3-30-5-4-6-2-12-1-18-1-30 1-36 2-36 7-30 1-11 3 23 4 6 2-3 6-8 12-11 12-20 20-13 10-17 10-12 4-12 3-24 2-12 0-18-2-42-7-12-3-12-12-6 0 0-39 54 0 45-16 14-6 5-6-4-1-12-2-102 0 0-51zM-452 134l38-1 60 0 24 1 36 4 66 13 24 6 12 6 18 14 12 5 24 9 30 6 32 9 34 4 48 2 84 2 96-1 78-3 33-4 16-6 6-6 3-6-4-6-6 0-24 2-12 1-60-2-36-3-16-4-6-6-3-12-1-6 1-6 6-6 37-3 54-1 54 1 54 2 60 1 18-1 24-4 54-2 0 139-1032 0 0-132 48-1 12-4z"/>
<path fill="#fa4a29" d="M-516 -268l1032 0 0 150-24-2-54-8-12-3-12-5-9-6-34-36-2-6 3-12-4-6-12-6-8-2-12-2-12-1-60 3-18 2-42 7-36 9-30 6-66 7-18 3-6 1-24 9-18 5-30 11-24 13-30 7-18 1-6-1-11-6-16-18-3-6-1-6-3-42-2-3-2-3-10-2-30-2-24 1-42 2-30 4-30 1-12 2-12 7 6 3 12 3 6 2 4 3-2 6-8 12-5 6-19 18-12 10-18 11-18 5-18 3-12 1-24-1-55-11-8-6 1-6 14-16 12-12 18-10 18-7 26-9 14-6 5-6-3-2-6-2-6 0-108 0 0-50zM-433 134l79 0 30 2 36 4 60 12 18 4 12 5 24 17 30 14 18 6 36 9 30 3 35 2 109 3 102-1 84-3 24-2 15-3 14-6 14-12 10-12 4-6-3-3-6 0-12 1-24 9-12 3-12 2-66-2-36-3-9-7-4-12 0-12 7-6 24-1 42-2 66 1 58 2 14 6 6 1 6 1 48-7 18-5 30-2 30 0 0 138-1032 0 0-125 18 0 30-6 12-5 18-1z"/>
<path fill="#f74327" d="M-516 -268l1032 0 0 149-24-2-53-9-13-3-8-3-10-6-34-36-2-5 4-13-3-6-12-6-7-2-12-2-12-2-21 0-63 4-47 8-31 8-24 4-90 8-6 2-6 3-8 5-15 6-13 4-30 10-24 13-24 6-12 2-12 0-6-2-6-3-18-18-3-6-1-6-4-42-1-6-3-2-6-1-30-3-36 1-66 5-30 0-12 3-7 3-9 6 2 6 14 2 6 2 4 2 1 6-3 6-10 12-18 18-10 9-18 11-12 4-12 3-24 2-24-1-48-10-6-2-5-4 1-6 17-17 14-13 9-6 18-8 36-12 8-4 6-6-2-2-6-3-6-1-114 0 0-48zM-461 140l5-2 6-1 42-2 66 1 48 4 66 13 24 6 12 7 18 13 30 17 18 7 24 5 18 3 42 2 84 2 54 0 84-1 78-2 30-1 24-3 7-2 14-6 47-30 22-15 12-6 42-11 30-2 30-1 0 137-1032 0 0-95 48 0 3-1-2-6-9-12-2-6 4-6 6-1 6-4zM189 140l63-2 54 1 32 1 5 6-7 6-30 18-12 6-6 1-12 1-66-1-22-7-2-2-5-10 0-6 0-6 5-4z"/>
<path fill="#f33b25" d="M-516 -268l1032 0 0 148-24-2-48-8-12-3-12-3-8-6-34-36-2-6 5-12-4-6-17-8-18-4-12-1-18 0-60 4-54 8-42 8-36 4-30 2-30 0-12 2-6 2-6 5-8 8-14 6-38 13-24 12-24 6-18 2-6-1-6-2-6-4-18-20-1-6-5-48-6-5-36-2-36 0-60 4-30 1-12 1-6 2-12 5-8 6 0 6 24 6 3 6-2 6-4 6-10 12-19 18-8 6-12 7-18 5-18 4-12 0-24-1-48-11-7-4 0-6 17-18 14-12 9-6 15-6 35-12 14-6 6-6-1-2-2-4-16-1-114 0 0-47zM-458 140l8-2 30-2 78 1 48 5 60 11 24 6 12 5 24 16 16 8 20 14 6 3 12 4 24 3 54 3 132 1 180-3 24-1 18-2 16-4 14-6 30-18 36-25 12-6 18-6 10-5 8-1 18-2 42-1 0 136-1032 0 0-72 78 0 4-6-22-21-11-14-1-7 7-6zM214 140l38 0 69 0 4 6-6 6-18 12-12 6-13 2-42-1-12-1-11-6-6-6-3-6-1-6 9-4z"/>
<path fill="#f03423" d="M-516 -268l1032 0 0 59-96 0-2 1 2 1 6 6 90 1 0 79-24-2-54-10-11-3-7-3-6-4-33-35-1-6 6-12-3-6-11-6-12-4-18-4-12 0-84 4-48 7-36 7-12 2-60 2-36-1-12 1-7 4-12 18-31 12-19 6-21 11-30 7-14 0-4 0-9-6-9-11-7-7-3-6-3-30-1-18-3-6-7-2-36-1-30 0-60 4-36 0-18 4-12 5-12 8-1 6 7 3 15 3 3 2 4 4-2 6-8 12-11 12-13 12-8 6-10 6-18 6-24 3-24-1-12-2-42-11-2-1-1-6 16-18 14-12 9-6 15-6 37-12 14-6 7-6-1-6-12-2-12 0-114 0 0-46zM-455 140l17-1 24-1 78 1 48 5 60 12 18 4 12 5 18 13 28 16 14 12 12 6 12 2 30 2 156 1 210-3 30-2 18-4 21-8 15-8 48-35 24-10 12-6 30-3 36-1 0 135-1032 0 0-65 96 0 3-1-2-6-25-22-13-14-4-6 1-6 3-6 1-2zM240 146l12 0 42 0 9 0-3 2-6 1-48 0-6-2z"/>
<path fill="#ec2d21" d="M-516 -268l1032 0 0 52-108 0-4 2 4 3 3 3 10 6 5 3 12 3 78 0 0 74-30-3-52-11-14-5-31-31-5-6 0-6 7-11-3-7-10-6-12-5-18-4-18-1-84 5-42 6-42 7-12 1-60 2-48-4-6 2-6 3-8 18-4 6-30 12-18 6-18 8-24 6-18 2-6-1-4-3-9-12-12-12-1-6-2-18 0-24-2-6-6-4-42-1-30 0-60 3-36 1-12 2-12 4-12 6-10 7-1 6 5 3 18 5 6 4 0 6-3 6-10 12-18 18-17 11-18 6-24 3-24-1-12-2-37-11-4-6 4-6 12-12 13-12 10-6 15-6 39-12 8-3 5-3 8-6 3-6-10-2-12-1-126 0 0-45zM-445 140l37-1 60 0 18 1 42 6 66 12 18 6 6 2 18 13 26 15 16 16 6 4 12 4 12 1 42-1 216-1 72-1 72 0 18-2 30-6 12-4 6-3 12-8 36-29 12-6 30-15 11-3 7 0 48-1 0 133-1032 0 0-61 96 0 6 0 6-2 3-3-3-6-30-22-9-8-5-6-3-6 2-12 3-4z"/>
<path fill="#e8251f" d="M-516 -268l1032 0 0 47-120 0-4 1 4 4 2 2 16 11 18 8 12 1 72 0 0 71-18-1-18-3-38-9-17-6-32-30-5-6 1-6 8-12-4-6-15-9-12-5-12-2-18-1-18 0-74 5-48 6-28 5-18 2-60 0-42-4-12 0-9 3-3 3-2 4-6 17-4 6-11 6-13 5-18 5-18 8-30 6-12 1-6-3-4-4-8-11-7-7-3-6-3-18 2-12-2-18-4-6-7-1-36-1-30 1-54 3-48 0-12 2-12 4-12 6-14 10-2 6 10 6 12 2 6 3 3 1 0 6-3 6-9 12-18 18-15 10-18 6-24 3-12 0-12-1-18-4-24-8-6-6 9-12 19-18 9-6 16-6 40-12 13-6 15-12-7-3-12-2-138 1 0-44zM-427 140l73 0 24 2 48 6 66 13 12 4 10 5 37 24 19 20 6 5 6 3 12 3 42-4 42-2 120 0 138-2 66 0 30-2 30-4 12-4 6-3 6-4 3-6 5-6 19-18 15-9 26-15 10-2 23-4 37 0 0 132-1032 0 0-57 108 0 15-3 9-6-7-6-11-4-18-9-18-13-9-10-2-6-1-12 6-2 12-3z"/>
<path fill="#e51e1d" d="M-516 -268l1032 0 0 42-132 0-5 0 4 6 13 10 18 10 18 6 12 2 72 0 0 68-18-1-18-3-30-8-19-6-17-13-18-17-4-6 2-6 6-6 2-6-3-6-3-2-12-7-12-7-12-4-6 0-114 8-84 11-66-1-42-4-12-1-6 1-6 2-6 4-3 6-5 18-3 6-10 6-27 8-18 7-24 4-12 1-6-1-6-4-6-9-12-13-3-11-1-6 2-6 3-6 2-6-3-6-3-12-3-2-6-2-6 0-60 0-54 3-54 0-18 3-6 1-4 3-8 4-19 14-2 6 10 6 17 4 5 2 2 6-3 6-4 6-16 18-6 6-9 6-17 8-24 4-12 1-12-1-12-2-12-4-15-6-9-6 3-6 4-6 11-12 8-6 10-6 16-6 32-9 18-7 18-11 9-9-9-1-42 1-120 0 0-42zM-442 146l16-3 18-1 72 0 54 7 48 9 18 5 18 6 39 25 7 6 8 12 12 13 12 9 6 3 6 2 6-1 6-2 6-6 11-6 31-2 36-1 156-2 78-2 78 2 30-1 12 1 12-1 12-2 12-5 17-11-3-6 1-6 4-6 13-12 28-18 12-5 18-3 24-2 24 0 0 100-174 0-24-3-30 3-27 6 27 3 228-1 0 22-1032 0 0-53 155-1 1-6-6-6-8-6-28-8-12-5-12-7-11-10-5-6-3-6-1-6 2-4zM-324 241l-2 1 5 6 15 2 48 0 60-2-36-1-39-5-45-3z"/>
<path fill="#e0181d" d="M-516 -268l1032 0 0 37-144 1-24-2-2 0-1 6-9 2-48 6-54 3-78 10-66-1-48-6-12 1-6 1-7 2-6 6-9 30-8 5-6 3-18 4-18 6-30 2-6 0-6-3-9-11-9-7-3-5-3-6-1-6 2-6 4-6 4-6 0-6-5-12-4-5-6-2-66 0-54 3-48 0-24-2-8 0-4 3-6 1-24 5-12 1-30 1-120 0 0-41zM-374 -196l8-1 13 7 23 6 1 0 4 6-3 6-8 13-18 17-12 8-18 6-24 4-12-1-12-1-13-4-14-6-8-6 1-6 4-6 5-6 13-12 12-6 54-17zM409 -196l5-1 30 7 72 0 0 66-18-2-24-5-30-8-6-3-6-3-24-20-7-7-4-6 2-6 7-6 2-5zM-428 146l26-2 54-1 18 1 54 7 42 9 24 6 12 5 37 23 6 6 22 36-4 6-7 2-12 2-12 0-54-2-66-9-24-6-18-8-30-21-42-11-12-5-6-3-13-11-5-6-3-6-1-6 4-2 6-3zM467 146l25-2 24 0 0 91-144 0-6-2-5-3 35-20 13-10-3-6-4-2-3-4 3-6 12-12 17-12 12-6 19-5zM210 218l54 1 53 5-7 6-10 4-62 14 8 3 12 2 24 1 234 0 0 18-1032 0 0-20 192 0 42 2 42 0 54-1 114-4 14-1-2-1-8-17 12-6 50-2 210-3zM-516 224l0-1 132 0 12 3 12 4 7 6-7 2-156 0 0-8z"/>
<path fill="#db141e" d="M-516 -268l1032 0 0 34-144 0-30-1-6 3-3 6-3 1-38 5-52 4-84 9-66-2-48-6-18 1-12 4-3 2-5 6-6 30-11 6-35 8-12 1-12-1-12-3-24-17-4-6-1-6 2-6 9-12 2-6 0-6-5-12-3-2-6-2-12-1-54 1-54 3-48-1-18-2-18 2-42 9-24 3-132 0 0-40zM-387 -190l15-3 6 0 7 3 26 6 3 3 2 3-2 6-3 6-16 18-6 6-10 6-13 6-12 3-12 1-12 1-12-1-18-5-10-5-7-6 1-6 3-6 5-6 13-12 10-6 39-11zM413 -190l1-1 6-1 24 3 72 0 0 64-18-2-24-5-24-7-12-6-12-9-20-18-4-6 4-6 2-2zM-403 146l55-1 30 2 36 5 42 8 22 4 14 6 12 6 29 18 6 6 4 6 6 12 2 12-2 6-3 3-6 3-6 1-48-1-24-1-54-11-12-3-12-5-37-22-19-6-22-4-18-5-12-7-10-8-5-6-3-6 5-6 1 0 12-3 12-2zM493 146l23 0 0 73-114-1 4-6 14-12-1-6-11-6-2-6 5-6 6-6 9-6 18-9 24-6 24-2zM-28 224l244-5 48 2 27 3-1 6-19 6-52 12-3 4-9 2 3 3 18 2 30 1 258 0 0 12-1032 0 0-13 366 1 126-2 30-1 8-3 5-6-43-7-13-5-8-6 15-5z"/>
<path fill="#d51120" d="M-516 -268l1032 0 0 31-162 0-18-2-7 1-1 6-7 6-39 6-48 3-78 8-66-2-48-6-12-1-12 1-11 3-7 6-2 6-3 24-2 6-11 6-24 4-12 1-12-1-12-4-24-10-6-5-1-3-2-6 3-6 8-12 4-12 1-6-2-6-4-6-7-2-18 0-102 4-42 0-30-3-9 1-45 10-30 4-132 1 0-39zM-379 -190l7 0 6 1 27 5 3 2 6 4-2 6-7 12-11 12-7 6-15 9-18 5-12 2-12 0-12-1-11-3-13-6-5-6 0-6 3-6 4-6 14-12 11-6 39-11zM422 -189l8-1 14 3 72 0 0 61-18-1-24-6-25-9-10-6-22-18-6-6-4-6 6-6 7-5zM-420 152l18-2 24-2 30-1 18 0 60 8 42 8 18 6 18 9 27 16 6 6 6 12 2 7-2 11-2 6-7 4-12 1-54-2-30-5-24-6-18-6-12-6-30-16-18-6-42-10-12-5-5-3-8-6-4-6 0-6 5-3zM465 152l27-3 24 0 0 50-78 0-6-1-6-6-12-7-2-3 2-6 6-6 18-10 24-7zM10 224l206-4 30 1 24 3 5 0-1 6-4 2-18 6-60 15-36 2-18 1-60-2-24-3-11-3-19-6-31-6-15-6 16-3 12-2z"/>
<path fill="#d00d21" d="M-516 -268l1032 0 0 28-186 0-10 2 1 6-9 6-6 1-24 4-48 3-78 8-66-3-54-8-18 0-12 1-6 2-4 4-2 4-4 32-2 6-18 5-18 2-18-3-11-4-19-4-6-2-5-6-2-6 2-5 8-13 3-6 5-12 1-6-1-6-5-3-6-2-18-1-102 5-78-1-18 2-42 10-24 3-132 0 0-37zM-396 -184l18-4 12 1 24 4 6 3 3 2-1 6-3 6-9 12-5 6-7 6-8 5-12 5-12 3-12 2-12 0-12-1-7-2-13-6-5-6 1-6 2-6 5-5 6-7 8-6 9-4 18-6zM420 -184l6-3 6 0 24 1 60 0 0 59-12-1-18-3-17-5-16-6-18-12-14-12-5-6-2-6zM-400 152l46-3 18-1 12 1 60 8 36 7 18 6 12 6 12 7 18 11 7 6 6 12 0 6-2 6-1 6-4 6-6 3-42 0-18-1-30-6-36-11-12-5-28-16-15-6-17-4-32-8-16-6-8-6-3-6 4-6 19-5zM485 152l31 0 0 42-78 0-6-6-12-5-1-7 6-6 11-6 16-6 28-5zM76 224l140-3 24 1 24 2-1 6-18 6-53 14-18 2-24 1-36-1-30-1-18-3-24-9-32-9 62-5z"/>
<path fill="#cb0922" d="M-516 -268l1032 0 0 25-192 0-6 1-5 4 1 6-11 6-27 4-48 4-66 6-18 0-54-3-48-9-48-4-6-4-6 0-1 0 1 6 6 6 0 6-1 24-4 12-1 3-6 3-24 3-42-7-12-4-3-4-2-6 1-6 9-12 13-24 2-6-2-2-2-4-4-1-12-1-12 0-102 3-48 1-24-1-18 2-54 11-24 4-132 0 0-36zM-388 -184l16-2 24 4 6 1 6 3 0 6-2 6-9 12-13 12-12 7-18 5-18 2-20-2-15-6-4-6 1-6 3-6 5-6 12-10 16-8 20-5zM427 -184l11-1 78 0 0 57-18-1-18-4-18-6-12-7-18-14-11-12 0-6 5-5zM-379 152l37-2 18 1 54 7 36 7 21 5 21 11 22 13 7 6 3 6 2 6-1 6-3 6-1 6-6 7-11 0-42 0-30-5-30-9-18-7-29-16-19-7-58-17-8-6-1-6 9-6 22-5zM467 158l19-3 30 0 0 35-66 0-6 0-2-2-10-5-5-7 6-6 11-5 18-5zM133 224l83-1 35 1 1 7-17 5-25 7-24 6-12 1-30 1-48-3-16-6-11-6-8-6 71-5z"/>
<path fill="#c50624" d="M-516 -268l1032 0 0 23-198 0-11 1 0 6-1 6-11 6-19 3-120 10-24-1-48-4-61-14-17-6-12-3-6-2-12 1-11 4-8 6 5 6 8 3 6 4 6 6 2 5 0 6-2 12-3 6-5 6-10 4-12 1-42-5-6-1-7-5-3-6 2-6 9-12 5-9 6-7 4-2 2-3 5-3-1-12-4-2-6-2-24-1-102 3-78 1-18 2-60 13-18 2-132 0 0-34zM-375 -184l15 1 18 4 3 1 1 6-2 6-9 12-11 11-6 4-6 3-12 4-12 2-12 1-18-1-14-6-4-6 1-6 3-6 8-8 6-5 12-7 18-6 18-3zM441 -184l75 1 0 54-18-1-18-4-19-8-10-6-15-12-5-6-4-6 0-6 5-4 6-1zM-358 152l28-1 54 7 48 10 10 2 14 6 12 6 20 12 7 6 3 6 1 6-7 18-6 5-6 0-48-1-12-1-18-5-36-12-48-23-18-7-35-10-8-6 1-6 12-6 18-4 12-1zM484 158l32 0 0 29-60 0-6-1-6-3-6-7 6-6 14-6 22-5zM180 224l36 0 19 0 6 6-17 6-22 6-30 6-30 0-10-2-10-4-10-6-2-6 70-5z"/>
<path fill="#c00225" d="M-516 -268l1032 0 0 20-204 1-12 2-2 1 4 6-2 5-1 1-12 6-17 3-120 8-54-4-18-3-15-4-18-6-15-6-11-6-13-4-18 0-36 0-12-2-30-1-198 4-22 3-32 8-30 5-144 1 0-32zM-84 -220l6-3 24-1 12 1 12 5 6 5 3 5 0 6-3 12-3 6-9 6-12 2-42-3-6-2-6-3-3-6 2-6 13-18zM-398 -178l14-3 12-1 18 1 12 3 2 6-2 6-8 12-13 12-15 8-12 3-12 1-18 0-6-1-10-5-5-6 1-6 3-6 6-6 11-8 18-8zM433 -178l5-2 6-2 72 0 0 53-12-1-18-3-12-4-10-5-10-6-14-12-5-6-3-6 0-3zM-377 158l17-3 18-2 18 0 54 7 23 4 25 7 30 13 17 10 7 6 3 6 1 6-9 18-1 1-6 2-6 0-42 0-24-5-24-7-18-7-48-24-40-14-8-6 2-6 10-5zM472 164l14-2 30 0 0 21-60-1-5-6 6-6 11-4zM161 230l49-5 6 0 6 2 7 3-16 6-27 7-12 0-7-1-7-6z"/>
<path fill="#b90026" d="M-516 -268l1032 0 0 18-192 0-24 1-6 2-1 3 4 6-5 6-14 6-128 10-41-4-31-4-20-8-39-17-19-2-108-2-156 3-30 2-54 12-24 3-144 0 0-29zM-79 -220l1 0 12-1 18 0 12 4 6 3 5 7 0 5-1 6-4 8-6 5-12 4-12 0-30-1-9-4-3-2-2-4 2-6 12-15 6-6zM-392 -178l14-3 18 1 14 2 4 6-2 6-3 6-10 12-8 6-7 4-12 5-18 3-18-1-13-5-5-6 1-6 3-6 8-7 12-8 18-8zM438 -178l6-2 12-1 60 0 0 51-12-1-12-2-12-3-14-6-9-6-14-12-4-6-3-6zM-365 158l29-3 18 0 36 5 24 4 30 6 12 5 18 7 12 6 9 6 6 6 4 6 0 6-7 13-5 5-7 1-36 0-12-1-18-3-30-10-18-8-36-18-35-15-7-6 1-6 11-5zM469 170l11-1 36 0 0 8-54 0 6-4zM191 230l13-1 10 1-16 3-6-1z"/>
<path fill="#b00026" d="M-516 -268l1032 0 0 15-198 0-30 1-7 2 7 6 3 6-6 6-15 6-120 8-25-2-40-6-16-6-24-12-15-6-24-3-42-1-120-1-114 3-24 2-60 14-18 1-144 0 0-27zM-85 -214l7-4 18-1 12 1 12 4 7 6 1 6-2 6-3 6-9 6-12 2-30 1-6 0-6-2-6-7 1-6 11-13zM-386 -178l14-2 12 1 8 1 4 2 4 4-1 6-3 7-5 5-7 8-12 8-7 2-11 3-18 2-12-1-10-4-6-6 2-6 3-6 6-6 17-10 18-7zM444 -178l12-1 60 0 0 48-12-1-12-1-12-4-11-5-10-6-13-12-4-6-2-6zM-352 158l16-2 12 0 48 6 43 8 23 9 18 8 12 7 7 6 3 6-1 6-3 7-6 8-6 2-36 0-12 0-12-2-18-5-18-7-18-8-30-16-33-15-7-6 2-6 14-5z"/>
<path fill="#a70026" d="M-516 -268l284 0 0 12-38 2-18 2-42 10-24 4-6 1-156 0 0-25zM-12 -268l528 0 0 13-216 0-18 1-6 3 0 1 8 6 0 6-6 6-8 3-22 3-92 7-18-1-39-6-21-6-24-12-12-6-18-3-36-3 0-6zM-83 -214l5-2 18-1 12 1 8 2 7 6 1 6-2 6-2 4-6 5-12 3-12 1-18 1-6-1-6-2-5-5 1-6 16-17zM-379 -178l13 0 12 2 7 4 0 6-3 6-4 6-6 6-8 6-14 6-14 3-18 1-13-4-6-6 1-6 4-6 2-2 12-9 18-9 12-3zM452 -178l64 0 0 46-18-1-12-3-15-6-9-6-8-6-5-6-4-6-1-6 6-5zM-339 158l15 0 56 6 34 8 29 10 12 7 10 5 7 6 3 6-1 6-3 6-3 4-6 4-6 1-24 0-24-1-24-5-18-7-16-8-26-14-31-16-7-6 2-6 18-5z"/>
<path fill="#9e0026" d="M-516 -268l238 0 0 12-22 4-5 2-25 7-30 3-156 0 0-22zM13 -268l245 0 0 12 6 2 15 10-1 6-2 2-6 4-6 2-39 4-63 4-18 1-32-5-22-6-12-4-25-14-17-3-23-3 0-6zM-79 -214l7-1 12-1 12 2 6 3 5 3 2 6-3 6-7 6-9 4-18 2-18 0-6-2-4-4 1-6 15-15zM-397 -172l13-3 12-2 12 1 6 2 4 2 1 6-2 6-5 6-10 10-12 6-12 4-18 1-16-3-7-6 1-6 4-6 12-10 12-6zM448 -172l2-2 6-2 6-1 54 0 0 44-12 0-12-2-18-7-10-6-7-6-6-6-3-6zM-350 164l20-4 12 0 48 6 24 4 18 6 18 6 14 6 10 6 7 6 3 6-1 6-4 7-5 4-4 1-14 1-30 0-24-4-18-6-18-9-24-13-30-17-6-6 0-1z"/>
<path fill="#960026" d="M-516 -268l226 0 0 12-16 3-5 3-19 4-6 3-18 0-162 0 0-19zM39 -268l208 0 0 12 17 6 9 6-3 7-6 3-8 3-59 5-41 3-18-1-13-2-40-12-7-2-18-11-6-2-15-3 0-6zM-70 -214l10 0 6 1 6 2 6 3 3 6-3 6-9 6-9 3-18 3-12-1-6-2-2-3 1-6 13-13 6-4 6 0zM-393 -172l15-3 12 0 6 1 7 2 2 6-2 6-4 6-6 6-9 7-12 4-18 3-12 0-6-2-8-6 0-6 4-6 4-3 12-8 12-6zM452 -172l4-2 6-1 54-1 0 42-12 0-9-2-19-6-10-6-7-6-5-6-3-6zM-340 164l10-2 6-1 32 3 39 6 31 9 22 9 11 6 7 6 3 6-1 6-5 6-7 4-6 1-36 1-18-3-18-5-21-10-50-30-6-6 5-4z"/>
<path fill="#8d0026" d="M66 -268l171 0 0 12 21 6 8 6-3 6-11 4-84 8-24 0-27-6-20-6-16-6-8-6-7-6 0-6zM-516 -250l0-4 192 0 6 2 1 2-25 3-174 0zM-84 -208l6-3 6-1 12 0 6 1 8 3 3 6-4 6-9 6-10 3-12 2-12-1-7-4 1-6 6-7zM-389 -172l11-2 12 0 9 2 4 6-2 7-4 5-6 6-8 6-17 6-12 1-12 0-6-2-6-5 1-6 3-6 7-6 13-7 12-4zM456 -172l6-2 6 0 48 0 0 39-18-1-19-6-10-6-8-6-5-6-3-6zM-331 164l13 0 54 6 24 6 24 7 18 9 5 2 7 6 3 6-1 6-5 6-9 3-6 1-30 0-18-2-18-5-18-9-45-30-5-6 2-1z"/>
<path fill="#840026" d="M91 -268l136 0 0 12 25 6 8 6-2 3-5 3-7 2-72 6-30 0-12-2-21-6-18-6-9-5-1-1 1-2 7-4 0-6zM-81 -208l3-1 12-1 6 0 8 2 4 6-3 6-11 6-10 3-12 1-6-1-5-3 0-6 11-10zM-384 -172l6-1 12 0 6 2 5 5-1 6-4 6-6 6-10 6-14 5-10 1-8 0-6 0-6-3-3-3 0-6 3-6 6-5 12-7 12-4zM461 -172l7-1 48 0 0 38-18-2-18-5-9-6-8-6-5-6-2-6zM-330 170l6-3 6-1 47 4 13 3 24 6 24 9 14 6 7 6 3 6-1 6-5 5-3 1-9 2-12 1-24-1-12-1-18-5-15-8-40-30z"/>
</g>
<use href="#co"/>
</g><use href="#ro"/></g>
<text class="t" x="2603.0" y="120.8">ifs-nemo</text>
<rect x="2195.0" y="676.1" width="816.0" height="40.0" fill="url(#cb)" stroke="#000" stroke-width="1.67"/>
<path d="M2254.4 716.1v7.3" stroke="#000" stroke-width="1.67"/>
<text class="k" x="2254.4" y="747.4">100</text>
<path d="M2386.5 716.1v7.3" stroke="#000" stroke-width="1.67"/>
<text class="k" x="2386.5" y="747.4">200</text>
<path d="M2518.7 716.1v7.3" stroke="#000" stroke-width="1.67"/>
<text class="k" x="2518.7" y="747.4">300</text>
<path d="M2650.8 716.1v7.3" stroke="#000" stroke-width="1.67"/>
<text class="k" x="2650.8" y="747.4">400</text>
<path d="M2782.9 716.1v7.3" stroke="#000" stroke-width="1.67"/>
<text class="k" x="2782.9" y="747.4">500</text>
<path d="M2915.0 716.1v7.3" stroke="#000" stroke-width="1.67"/>
<text class="k" x="2915.0" y="747.4">600</text>
<text class="k" x="2603.0" y="776.1">Pa</text>
<g transform="translate(517.50 1063.60)">
<g clip-path="url(#rc)"><g filter="url(#bl)"><rect x="-540" y="-290" width="1080" height="580" fill="#fffbc3"/>
<path fill="#fff9bc" d="M-516 -268l1032 0 0 235-42-1-66-6-30-1-78 7-138 6-54 11-18 2-24 1-18-1-36-6-36-2-42-6-12-1-78 6-54 0-126-4-72-4-108-1 0-229zM-238 20l46-2 36 0 30 5 48 14 12 3 12 1 48 0 12 0 6-2 36-18 6-2 12-1 18 1 18 3 12 3 36 12 8 1 10 2 25-2 71-9 42-5 36-2 30 0 24 1 24 4 66 13 12 1 18 0 0 231-1032 0 0-232 24 1 54-2 150-15 48-3z"/>
<path fill="#fff6b6" d="M-516 -268l1032 0 0 218-36-1-30-2-32-5-22-1-48-1-24 2-36 5-24 2-102 0-18 4-36 12-18 3-12 0-30 0-60-4-18-3-36-9-12-2-138-2-126 0-72 2-102-1 0-211zM309 38l39-3 30 1 30 4 36 11 24 5 18 2 30 0 0 214-1032 0 0-215 36 1 63-2 87-5 96-8 66-2 24 2 31 7 35 6 18 1 60 0 12-1 12-2 12-4 18-7 12-2 6 0 18 2 25 7 23 6 18 1 18 1 26-2 22-2 84-15z"/>
<path fill="#fff3b0" d="M-516 -268l1032 0 0 209-42-1-60-7-60-5-24-1-12 0-42 8-24 3-78-1-24 1-24 4-30 7-12 2-90 0-12-2-29-7-19-2-42 1-60-1-48-5-66 2-54-4-42 6-24 1-96 1-18-1 0-202zM330 50l24-1 18 0 18 3 36 8 18 3 36 3 36 0 0 206-1032 0 0-207 72 1 102-2 96-5 54-3 36 1 50 5 40 3 72-1 18-1 30-5 12-1 18 1 32 4 22 3 48 0 60-3 78-11z"/>
<path fill="#fff1a9" d="M-516 -268l1032 0 0 202-30 0-18-1-120-16-24-2-12 2-42 10-18 2-96-1-66 4-90 4-60-4-48 3-54-2-18-1-36-6-66 1-42-6-12 1-42 9-24 3-96 0-18-1 0-195zM-223 68l19-3 12 0 84 5 66 2 54-1 48-4 72 4 60 1 72-2 102-6 18 1 30 4 24 2 78 2 0 199-1032 0 0-200 162 0 126-3z"/>
<path fill="#ffeea3" d="M-516 -268l1032 0 0 197-30 0-24-2-54-8-24-3-48-9-12-1-6 0-18 7-12 4-24 4-18 1-36-2-48-5-84-3-24 2-30 6-24 3-60 3-36 3-24 0-48-2-12-1-30-7-48-3-36-5-18-1-12 0-42 13-30 5-96 1-24-1 0-190zM-516 80l0-2 282 0 36-2 54 2 72 0 450-1 138 1 0 194-1032 0 0-186z"/>
<path fill="#ffec9d" d="M-516 -268l1032 0 0 192-36 0-24-2-72-11-48-11-12-2-6 0-6 2-12 8-18 6-24 2-24 0-18-2-18-3-30-10-12-3-30-4-36-1-42 0-6 2-36 14-24 6-84 9-36 0-36-3-72-14-12-5-14-8-4-1-6 0-12 2-24 5-6 2-12 7-12 4-30 8-12 2-18 1-84 0-24-1 0-185zM-516 86l0-3 24-1 180 0 78 2 12 2 6 2 6 4 15 18 3 2 6 1 10-3 14-12 12-7 12-4 12-1 72-1 54 1 18 1 36 6 30-6 30-3 96-1 78 1 48 2 42 5 24-5 18-2 96-2 0 190-1032 0 0-180z"/>
<path fill="#ffe997" d="M-516 -268l1032 0 0 189-36-1-54-6-36-5-24-6-30-9-18-2-6 1-19 14-11 3-18 2-24 0-18-3-18-4-42-17-36-4-24-1-48 0-12 1-15 4-42 18-15 5-36 5-30 4-36 0-42-4-48-9-24-10-13-9-11-5-12-1-12 2-24 8-18 12-12 6-24 6-12 2-18 2-12 0-78 0-24-1 0-181zM-516 86l78-1 114 1 84 2 12 2 6 3 8 5 11 12 5 5 6 3 6 2 6 0 11-4 14-6 11-10 6-3 6-2 12-2 66-2 42 2 24 3 30 10 12 1 9-3 21-9 18-4 96-3 78 0 24 1 30 3 12 3 24 8 6 1 6-2 24-10 18-4 18-1 78-1 0 186-1032 0 0-180z"/>
<path fill="#ffe691" d="M-516 -268l1032 0 0 185-48-1-54-6-30-6-51-16-15-1-6 0-4 1-13 12-13 7-12 2-24 0-18-3-18-5-36-15-12-4-36-4-24-1-54 1-12 2-10 2-16 6-34 16-12 4-12 2-30 4-18 2-42 0-36-4-42-8-9-4-39-22-12-4-6-1-12 4-24 10-12 9-12 8-18 6-24 5-18 2-24 0-66 0-24-1 0-178zM-516 92l0-3 84-1 126 0 60 3 12 2 6 2 12 8 8 7 10 9 12 5 6 1 26-9 22-14 6-2 12-1 60-2 30 2 30 4 30 8 18 2 12-3 18-9 6-2 18-4 102-3 66-1 24 2 24 4 18 5 18 7 6 2 6 0 30-15 18-5 18-1 78-2 0 184-1032 0 0-174z"/>
<path fill="#fee38b" d="M-516 -268l1032 0 0 183-42-1-54-5-30-7-48-15-12-3-12-1-6 0-6 1-6 4-4 6-7 6-7 4-12 3-18-1-12-1-15-5-21-7-24-11-12-4-12-2-54-3-54 1-12 2-24 6-16 6-14 9-12 5-30 7-18 2-24 2-36-1-36-3-36-7-12-6-12-8-36-20-6-2-6 0-11 4-25 13-18 14-6 4-12 4-18 5-24 4-24 1-72 0-24-2 0-175zM-516 92l78-2 120 0 36 2 36 2 12 3 6 2 6 3 16 14 8 6 12 6 6 1 6-1 24-9 18-10 6-3 18-2 42-1 30 0 36 5 42 8 12 1 6-1 12-4 24-10 12-2 96-5 66-1 24 2 30 5 12 4 11 5 19 4 6-1 11-3 19-10 18-6 18-1 78-3 0 182-1032 0 0-174z"/>
<path fill="#fee085" d="M-516 -268l1032 0 0 181-48-1-48-6-24-5-54-18-12-2-12-1-12 0-5 2-11 12-8 7-12 3-18-1-12-2-12-4-42-18-12-4-18-3-54-3-54 1-12 2-36 11-12 5-18 10-12 4-24 5-12 2-24 1-36 0-42-5-21-5-9-3-6-3-17-12-19-9-18-12-6-2-6 1-6 3-24 13-30 22-18 7-18 4-18 3-30 1-66-1-24-1 0-173zM-444 92l132 1 36 1 30 3 12 3 6 2 27 20 15 9 6 2 6-1 24-10 24-11 6-1 18-1 36-1 24 0 48 5 24 4 24 2 15-3 27-10 12-2 96-6 66-1 18 2 18 3 18 4 13 4 17 6 12 1 6-1 6-1 11-5 19-9 18-5 90-3 0 179-1032 0 0-177 66-2z"/>
<path fill="#fedd7f" d="M-516 -268l1032 0 0 179-48-1-48-6-24-5-30-12-18-6-12-2-18-3-12 1-6 1-6 4-9 12-9 6-6 1-12 0-12-2-12-4-36-17-18-6-18-3-60-4-54 2-12 2-42 13-18 10-12 5-30 7-12 2-24 1-36 0-36-4-30-7-6-3-18-13-20-10-8-6-8-7-6-3-6-1-12 5-24 15-6 3-18 16-6 4-18 7-12 3-24 4-30 1-60-1-30-2 0-170zM-516 98l0-1 36-1 66-2 102 1 48 3 18 2 12 3 6 3 23 16 19 12 6 2 6 0 48-20 6-2 12-1 36-1 30 0 30 2 48 6 18 1 18-3 24-8 12-3 96-6 66-1 24 3 24 5 28 8 20 2 14-2 28-13 18-4 90-4 0 177-1032 0 0-168z"/>
<path fill="#feda79" d="M-516 -268l1032 0 0 177-48-1-48-6-24-6-30-13-12-4-18-4-18-1-12 0-11 2-7 6-9 12-9 4-12 0-15-4-13-6-20-12-18-6-24-4-66-4-54 2-12 2-36 11-13 5-23 12-30 8-24 2-42 1-36-5-30-6-10-5-16-13-22-10-14-14-4-2-6-1-6 0-6 2-6 3-30 20-12 11-12 8-12 5-18 6-24 4-30 2-60-2-30-2 0-168zM-491 98l65-2 108 1 30 1 24 2 18 3 12 3 6 3 19 13 23 14 6 3 6 0 42-18 6-2 12-2 66-2 48 3 36 4 18 1 18-3 24-7 12-2 96-7 60-1 24 2 54 13 12 2 12 0 18-3 24-11 12-4 6-1 90-4 0 175-1032 0 0-172 24-1z"/>
<path fill="#fed673" d="M-516 -268l1032 0 0 176-54-3-42-5-24-6-24-12-12-4-18-5-24-2-12-1-12 2-8 4-5 6-3 6-8 6-12 1-17-7-25-17-12-4-30-4-72-4-48 2-18 2-41 13-31 15-30 9-18 1-48 1-42-6-12-3-12-4-24-17-18-8-6-4-6-8-6-5-6-2-6-1-6 1-6 2-6 4-30 20-18 16-6 4-12 5-18 6-24 4-30 2-60-1-30-3 0-166zM-442 98l130 1 30 1 24 3 24 6 21 13 27 16 6 3 6 1 6-2 12-6 24-10 12-3 12-1 36-1 30 0 78 5 18 1 18-2 30-8 12-1 48-3 42-4 60-2 12 1 12 2 60 13 18 1 18-3 30-13 12-3 90-4 0 173-1032 0 0-170 72-3z"/>
<path fill="#fed16d" d="M-516 -268l1032 0 0 174-54-2-42-5-12-3-12-5-30-15-6-2-30-6-24-1-18 2-6 3-5 4-7 11-2 1-4 1-6 0-6-2-7-5-17-13-9-5-9-2-24-2-84-3-42 1-18 1-36 11-42 18-30 9-18 2-48 1-36-6-18-5-6-3-7-4-17-12-22-12-11-12-3-2-6-2-6-2-12 1-6 3-30 20-24 21-18 9-18 6-24 5-30 1-60-1-30-3 0-164zM-511 104l55-3 42-1 102 0 36 3 24 4 18 5 49 28 5 3 6 1 6-1 12-7 24-9 12-3 6-1 66-2 102 5 18-2 24-5 12-2 96-8 60-1 18 1 66 13 18 1 18-3 36-13 18-2 78-4 0 171-1032 0 0-167z"/>
<path fill="#fecb67" d="M-516 -268l1032 0 0 173-54-3-42-5-12-3-12-5-36-19-24-5-24-2-24 1-12 2-6 2-12 6-6-2-18-9-12-5-6 0-12-1-60 0-42-2-54 2-14 1-28 10-42 18-24 7-12 3-48 1-12 0-15-3-21-4-18-6-12-8-12-9-15-9-21-18-6-2-12-1-12 1-6 2-30 22-24 21-18 9-18 7-24 4-30 2-60-2-30-3 0-162zM-477 104l39-2 36 0 90 0 36 3 24 5 18 5 36 19 18 11 6 2 6-2 12-6 18-8 12-3 12-2 66-2 102 4 12-1 36-7 12-1 90-7 60-2 18 2 60 11 24 2 18-3 36-13 60-5 36-1 0 169-1032 0 0-164 36-3z"/>
<path fill="#fec661" d="M-516 -268l1032 0 0 171-54-3-42-5-12-4-12-4-36-20-12-4-48-9-42 1-42-2-66 3-48-2-54 1-21 3-21 8-42 17-30 9-12 2-51 0-9-1-20-5-22-7-12-7-26-22-11-12-15-6-20-1-12 1-6 4-30 22-18 17-12 8-18 8-12 4-24 4-30 3-54-2-36-3 0-161zM-437 104l35 0 90 0 24 2 18 2 18 4 18 6 36 18 18 11 6 1 9-2 11-6 22-9 12-2 12-1 60-2 84 3 24 0 12-1 30-5 24-2 78-7 54-1 18 1 72 12 18 0 22-4 32-10 96-7 0 167-1032 0 0-162 78-5z"/>
<path fill="#fec05b" d="M-516 -268l1032 0 0 170-60-4-28-4-14-3-12-4-12-6-30-18-6-2-30-10-9-5-17-12-10-6-6-1-13 1-11 9-6 3-20 6-22 4-54 4-54-2-36 0-24 2-22 4-56 23-30 9-12 2-42 0-12-1-12-3-24-7-12-6-12-9-13-14-5-6-7-12-5-2-24-3-24 0-12 6-24 18-30 27-12 6-24 9-24 5-30 2-54-2-36-3 0-159zM-483 110l39-3 36-1 96 0 30 3 24 5 24 7 36 16 18 11 6 2 6 0 6-2 13-8 17-7 18-3 66-2 108 2 20-2 22-3 90-7 66-3 18 1 66 10 18 2 12-1 12-2 36-10 96-8 0 165-1032 0 0-159 30-2z"/>
<path fill="#feba55" d="M-516 -268l1032 0 0 168-60-4-24-3-18-4-12-4-12-6-36-22-24-10-30-19-14-6-10-1-12 1-16 6-19 12-7 4-9 2-15 3-42 3-72-1-36 1-12 1-24 6-30 13-24 9-24 7-18 1-44-1-16-4-24-9-8-5-10-7-12-17-10-18-8-4-48 1-6 1-12 7-24 18-24 23-6 4-12 7-24 9-24 4-30 3-54-3-36-3 0-157zM-453 110l57-2 84 0 26 2 28 7 30 9 30 13 18 11 6 2 6 0 6-2 18-10 12-5 12-3 6 0 60-2 114 2 54-6 84-7 60-2 18 1 71 10 19 1 18-3 36-9 96-8 0 163-1032 0 0-155 60-6z"/>
<path fill="#feb54f" d="M-516 -268l1032 0 0 167-66-5-24-4-18-5-18-8-36-23-24-12-22-14-14-6-12-3-6-1-12 1-16 3-14 6-14 12-16 6-24 3-18 2-96-1-24 1-11 1-22 6-21 10-30 11-24 6-12 2-48-2-12-3-28-12-9-6-6-6-8-12-9-18-6-7-6-3-6 0-48 3-6 2-6 4-24 18-12 10-18 18-6 4-18 9-18 6-24 5-30 2-36-1-42-4-12-2 0-154zM-400 110l88 1 30 3 18 4 30 8 36 14 18 11 6 2 6 0 6-1 30-15 10-3 8-1 60-2 114 2 138-12 54-2 24 1 60 9 30 1 14-2 40-8 96-8 0 160-1032 0 0-152 30-2 54-6 30-1z"/>
<path fill="#feaf4b" d="M-516 -268l1032 0 0 166-60-5-24-3-18-5-12-4-12-6-42-28-45-25-15-5-12-2-12 1-27 6-9 5-6 7-9 6-9 3-12 3-18 3-18 1-78-1-42 2-12 1-12 4-24 10-24 9-30 8-12 1-42-1-12-3-9-4-15-6-12-7-5-5-6-6-3-6-7-18-8-12-7-3-6 0-48 4-6 1-6 3-36 27-18 18-12 10-18 8-18 6-30 6-24 2-36-2-42-4-12-2 0-152zM-445 116l49-2 84-1 24 2 18 4 42 11 30 12 18 10 6 3 6 0 10-3 23-12 9-3 18-2 54-2 114 1 132-11 60-2 18 1 72 8 24 1 21-3 27-5 42-2 60-6 0 157-1032 0 0-149 30-2 36-4z"/>
<path fill="#feaa49" d="M-516 -268l1032 0 0 164-42-3-24-2-24-4-18-6-18-8-13-9-29-20-27-16-26-12-13-2-6-1-18 2-30 7-6 6-6 6-6 5-12 4-12 2-18 3-18 1-72-1-42 2-24 4-30 13-18 6-24 6-18 2-36-1-12-2-12-5-18-8-9-7-7-6-4-6-5-18-6-12-6-6-11-2-18 2-36 4-6 1-12 8-24 18-30 29-6 4-12 6-24 9-30 6-24 1-36-1-36-4-18-3 0-150zM-392 116l80 0 18 1 12 2 54 13 30 11 18 10 6 3 6 1 6-1 9-4 27-13 12-2 12-1 48-2 108 1 138-10 60-2 24 1 66 7 24 0 18-1 30-5 42-2 60-5 0 154-1032 0 0-147 36-1 60-6 24-1z"/>
<path fill="#fea546" d="M-516 -268l1032 0 0 163-42-3-24-3-24-4-18-5-12-5-12-7-36-27-21-13-27-12-12-4-12-1-18 2-30 7-5 2-11 12-8 5-24 6-30 3-78-1-36 2-24 4-30 12-18 6-18 5-24 3-30-2-12-2-12-4-18-8-12-8-8-9-2-6-6-24-4-6-4-2-6-3-12-1-54 7-6 2-12 8-24 19-25 24-11 9-12 6-18 7-30 6-24 3-30-1-42-4-24-5 0-147zM-431 122l29-2 54-1 42 0 18 1 48 11 18 5 24 8 24 13 6 1 6-1 15-5 22-12 11-2 18-1 42-1 114 0 66-5 66-5 60-1 18 0 72 7 18 0 18-1 36-4 36-1 66-5 0 151-1032 0 0-145 36-1 48-3z"/>
<path fill="#fea044" d="M-516 -268l1032 0 0 161-66-6-24-4-18-5-12-5-12-7-30-24-24-15-18-9-12-5-12-3-12-1-16 1-32 8-9 4-9 10-6 4-11 4-19 5-24 2-84-1-30 1-28 5-26 11-30 10-24 3-30-1-12-2-12-4-18-8-13-9-7-6-3-6-2-6-2-18-3-6-6-6-6-2-12-1-38 3-22 4-6 3-12 8-18 14-12 11-24 23-6 5-12 6-18 7-30 6-24 2-30 0-42-5-24-5 0-145zM-376 122l70 0 30 3 36 7 18 5 24 9 24 13 6 1 9-2 15-4 18-10 6-3 30-2 36-1 114 0 84-7 60-4 42-1 24 1 72 6 18 0 48-4 42-1 66-4 0 148-1032 0 0-143 37-1 71-4 30-1z"/>
<path fill="#fd9a42" d="M-516 -268l1032 0 0 160-66-6-24-5-18-5-12-5-11-7-37-29-24-14-12-6-12-4-12-3-12-1-18 2-31 7-5 2-7 4-5 7-7 5-11 5-18 4-24 3-84-1-30 1-30 6-24 10-30 9-24 3-30-2-12-3-18-7-12-5-12-9-6-8-2-6-2-24-3-6-10-6-13-1-22 1-14 3-24 3-12 5-12 8-12 10-18 16-24 23-6 5-18 8-12 4-30 6-24 3-30-1-42-5-24-5 0-143zM-437 128l35-2 54-2 42 0 18 1 36 6 30 8 24 8 24 13 6 1 12-1 12-4 17-10 7-2 6-2 24-2 36-1 114 0 84-7 90-4 30 0 96 6 48-3 66-2 42-2 0 145-1032 0 0-141 78-2z"/>
<path fill="#fd953f" d="M-516 -268l1032 0 0 158-42-3-24-3-24-4-18-6-20-10-40-31-24-16-12-5-12-4-12-2-12-1-18 2-36 9-10 6-5 6-8 6-18 6-13 3-18 2-90 0-24 0-30 6-24 9-30 9-24 2-24-1-12-2-12-4-18-8-14-10-5-6-3-6-1-6 1-17-1-7-7-6-6-2-12-1-18 0-28 3-20 4-12 4-12 9-12 10-42 40-12 8-18 7-18 5-30 5-12 0-24 0-42-4-18-4-12-4 0-140zM-400 128l64-2 36 0 18 2 42 8 24 6 18 6 24 13 6 2 12-1 12-3 6-2 17-11 7-2 36-3 138-1 84-7 72-4 54 0 84 6 54-3 60-1 48-2 0 143-1032 0 0-140 60-1 54-2z"/>
<path fill="#fd903d" d="M-516 -268l1032 0 0 157-60-5-24-4-18-5-12-5-12-6-42-34-24-16-18-8-24-3-18 1-42 11-6 2-7 5-5 6-9 6-15 5-12 3-18 2-90 0-24 1-15 1-15 4-36 12-18 5-24 2-24-1-18-5-24-11-9-6-5-6-3-6-1-6 2-24-3-6-11-4-6-1-12-1-24 2-30 4-18 3-6 3-18 14-48 46-12 8-18 7-24 6-36 4-24-1-36-3-24-5-12-5 0-137zM-353 128l59 0 30 4 30 6 30 9 12 5 18 10 6 2 6 0 18-2 6-2 12-8 12-5 36-3 24-1 108 0 84-9 78-4 54 0 42 3 42 3 48-3 66 0 48-2 0 141-1032 0 0-139 66 0 96-4z"/>
<path fill="#fd893b" d="M-516 -268l1032 0 0 155-36-2-30-4-18-3-18-5-18-8-10-7-38-31-24-17-6-3-12-4-24-2-18 1-42 11-8 3-13 12-9 6-24 7-18 2-96 0-18 1-24 3-30 10-30 8-24 2-24-2-12-3-24-10-10-6-6-6-3-6-1-6 0-6 4-18-1-6-10-6-21-2-42 3-30 4-6 2-6 3-6 4-12 10-48 47-12 7-18 8-18 4-36 5-24 0-42-4-24-5-12-5 0-135zM-463 134l121-4 42 0 18 1 36 6 24 6 24 7 24 14 6 1 6 1 18-2 6-1 18-12 6-2 12-2 48-2 114 0 18-1 15-4 45-5 48-3 48-1 36 0 42 2 42 4 48-2 66-1 48-2 0 140-1032 0 0-137 48 0z"/>
<path fill="#fd8038" d="M-516 -268l1032 0 0 154-60-5-24-4-18-5-15-8-10-6-47-40-18-13-12-4-24-2-15-1-9 2-42 11-11 5-13 12-6 4-18 6-12 3-18 1-90 0-18 1-26 3-28 10-30 8-24 0-18-1-12-2-30-12-6-3-6-6-3-6-1-6 5-30-1-2-3-4-15-3-18-1-24 2-29 2-19 3-12 4-6 4-12 11-48 47-12 8-18 8-18 4-36 5-24-1-42-4-22-5-14-6 0-132zM-414 134l72-3 42 0 18 1 36 7 42 11 12 4 18 11 6 2 6 0 18 0 6-1 6-3 16-11 14-2 48-3 120 1 24-3 17-5 25-3 54-4 48-1 36 0 42 2 30 4 12 1 48-3 60 0 54-2 0 138-1032 0 0-136 66 0 30-1z"/>
<path fill="#fd7736" d="M-516 -268l1032 0 0 152-60-4-24-5-18-5-12-6-9-6-28-24-35-31-8-5-16-1-36 0-10 1-8 3-36 11-8 4-16 13-12 6-18 5-18 1-108 1-24 3-30 10-30 7-18 0-24-1-12-3-24-9-6-3-8-6-3-6-1-6 6-30-1-6-5-3-6-1-24-2-36 2-42 5-12 4-6 4-12 11-48 48-6 5-11 5-19 8-36 5-18 2-24-1-36-4-18-4-12-7-6-1 0-130zM-78 -232l-6 2-6 4-6 13-4 11 4 4 6-4 3-6 13-18-2-6zM-381 134l51-2 36 1 18 1 36 7 36 10 12 4 18 11 6 2 18 1 12 0 6-3 12-8 6-4 12-2 54-3 54 1 48 2 18-1 24-3 12-3 10-5 26-3 42-3 48-1 36 0 36 2 36 4 12 1 48-2 60 0 54-2 0 136-1032 0 0-134 72 0 60-3z"/>
<path fill="#fc6e33" d="M-516 -268l1032 0 0 151-42-3-24-3-24-5-18-6-11-8-29-24-12-12-10-12-3-12-25-3-48 1-17 2-37 12-11 6-15 12-12 6-10 4-12 2-120 1-24 3-36 11-24 5-18 0-24-2-12-2-24-9-6-3-6-6-2-4-1-6 7-30 0-6-3-6-7-1-24-1-30 2-24 2-30 3-12 4-12 9-29 30-25 25-12 8-18 8-18 4-36 4-24-1-36-3-18-3-12-6-6-5-6 0 0-64 78 0 14-3-2 0-90 0 0-60zM-84 -233l-6 1-6 6-6 16-2 8 2 5 6 2 8-7 8-12 10-12 1-6-9-1zM-354 134l60 0 24 3 36 7 36 10 30 16 24 2 6 0 6-2 18-13 12-3 30-2 36 0 42 1 54 3 18 0 18-2 12-3 20-11 64-5 54-2 30 1 36 2 42 6 12-2 30-1 66 0 54-2 0 135-1032 0 0-133 78 0 78-4z"/>
<path fill="#fc6530" d="M-516 -268l1032 0 0 150-36-2-30-4-24-5-16-7-10-6-28-24-13-12-4-6-2-6 1-6-2-6-16-4-14-2-52 2-12 2-11 2-35 12-8 5-18 13-12 6-18 5-12 1-108 0-24 3-24 8-30 7-18 0-30-2-18-5-18-7-6-4-5-6-1-6 9-30 1-6-1-6-3-2-6-1-6 0-30 0-36 2-42 5-12 3-12 8-30 33-25 24-17 11-18 7-24 3-24 3-24-1-36-3-12-3-12-4-12-10-6 0 0-53 72 0 15-4 14-6-5-4-6 0-90 0 0-56zM-90 -233l-5 1-7 6-2 6-4 18 2 6 4 2 6 1 6-4 12-16 12-13 0-6-6-2-12 0zM229 134l47 1 36 3 22 2 3 6 1 6 4 5 23-11 25-4 12-1 60 0 54-2 0 133-1032 0 0-131 72 0 108-6 54 1 42 8 42 11 6 2 24 14 18 3 12 1 6-2 6-3 12-9 4-3 8-2 48-2 54 1 24 2 48 5 18 1 18-3 12-5 17-15 49-4 42-1zM96 188l-6 2-6 3-6 7 12 4 18 2 42-1 12-1 15-4-1-6-8-4-6-3-12-3-12-1-18 3-18 1z"/>
<path fill="#fc5c2e" d="M-516 -268l1032 0 0 148-30-1-30-3-24-5-19-7-9-6-28-24-13-12-3-6-1-6 2-6-3-6-15-6-13-1-60 2-12 1-12 3-36 13-27 18-13 6-14 4-12 1-108 0-24 3-24 8-30 6-18 1-30-3-12-3-18-7-8-4-6-6-1-6 15-42-1-6-11-1-60 3-54 5-12 2-9 3-9 6-32 36-25 24-15 10-18 7-30 4-18 1-24 0-34-4-22-6-7-6-1-6-2-3-12 0 0-41 60 0 12-3 21-7 14-6 2-6-13-1-96 0 0-53zM-102 -232l-8 6-2 6 0 18 1 6 3 2 6 3 6-1 6-3 6-7 6-8 15-16 1-6-10-4-6 0-18 3zM-398 140l62-3 48 0 12 1 36 7 36 9 12 4 24 14 18 4 12 1 6 0 6-3 12-10 6-3 10-3 56-1 42 1 18 2 28 4 18 6 0 6-10 18-2 6 2 2 11 4 37 3 48-1 30-2 32-6-3-6-10-6-11-6-39-18-5-3-2-3 0-6 0-6 7-6 49-3 54-2 36 2 37 3 0 6-4 6-9 11-9 7-4 6 1 2 6 2 12-1 14-3 14-6 28-18 16-6 12-1 114-4 0 131-1032 0 0-126 78-3 36-2z"/>
<path fill="#fc522b" d="M-516 -268l1032 0 0 147-24-1-36-3-21-5-18-6-10-6-28-24-12-12-3-6 0-6 2-6-3-6-13-5-20-3-66 2-18 4-36 12-31 20-13 6-10 3-12 1-108 0-24 3-30 9-24 5-18 0-30-3-18-5-15-7-7-6-1-6 5-13 6-10 6 2 6 3 6 1 6-1 9-6 15-18 12-12 1-6-1 0-6-4-6-1-6 0-12 1-18 4-6 4-18 4-114 9-12 3-12 4-11 6-13 18-10 12-26 26-14 10-10 5-12 5-30 4-18 1-24-1-30-2-21-6-8-6 0-6 6-12-1-2-24 0 0-25 54 0 45-15 13-6 5-6-15-2-102 0 0-52zM-372 140l42-2 42 0 18 2 42 9 30 8 6 3 24 14 6 2 24 4 6 0 6-2 6-3 12-11 6-2 6-1 54-2 54 4 10 1 14 6 1 6-3 24 7 6 19 3 36 2 54-1 66-4 38-6 4-2 6-1 19-3 46-12 17-6 13-6 25-14 12-4 18-3 30-3 72-3 0 129-1032 0 0-119 24 0 12-3 26-4 76-5zM161 140l37-2 48-2 24 1 30 2 17 1 0 6-5 5-12 9-29 10-13 9-12 3-12 1-18-3-21-10-15-3-12-5-5-4-6-6-2-6 1-1z"/>
<path fill="#fa4a29" d="M-516 -268l1032 0 0 146-24-1-36-4-15-3-19-6-14-8-30-26-7-8-3-6 1-6 2-6-3-6-14-6-12-3-12-1-66 3-18 3-36 12-7 4-27 18-14 6-6 2-12 1-96-1-18 1-18 3-30 9-30 5-18-1-24-3-12-3-16-7-8-6-2-6 2-6 6-9 6-1 12 0 6-1 6-3 6-5 14-17 12-12 2-6-4-2-6-4-12 0-11 0-13 3-12 3-6 3-18 4-108 9-14 2-28 9-24 1-12 2 30 2 4 4-2 6-13 18-12 12-20 18-11 7-18 7-36 5-30 0-36-3-15-4-10-6-1-6 4-6 10-14 6-7 18-11 18-7 26-9 13-6 5-6-8-3-12-1-102 0 0-50zM-353 140l23-1 42 1 18 2 42 8 30 8 12 6 18 11 6 2 24 5 12 0 6-3 4-3 8-7 6-4 6-1 54-2 24 2 18 2 17 4 1 6-2 24 5 6 15 4 18 2 42 1 58-1 102-6 30-6 55-18 16-6 33-15 18-6 36-6 54-4 18 0 0 127-1032 0 0-108 36-1 3-5 9-4 18-5 96-8zM175 140l53-2 42 0 37 2 1 6-8 6-6 3-24 8-18 5-18 2-18-3-30-7-6-2-8-6-4-6 6-5z"/>
<path fill="#f74327" d="M-516 -268l1032 0 0 144-24-1-36-3-12-2-18-6-12-6-30-26-9-10-3-6 4-12-3-6-12-6-7-2-12-2-12-1-66 3-18 3-36 12-10 5-27 19-17 6-12 1-96-1-18 1-18 3-24 8-12 2-24 4-18-1-24-3-12-4-12-5-8-6-3-5 5-10 4-3 20-3 6-4 6-5 16-18 13-12 2-5-7-6-6-2-12 0-24 2-24 7-18 3-102 9-12 2-18 5-30 1-12 2-13 6 1 2 6 2 12 1 12 2 6 5-8 12-10 12-27 24-9 6-18 7-42 5-24 0-36-3-9-3-12-6-1-6 7-12 11-12 10-8 12-7 12-5 30-10 12-5 2-1 6-6-8-4-6-1-114 0 0-49zM190 140l50-1 36 0 16 1 2 6-12 6-18 6-18 4-12 0-18-2-27-8-7-6 4-3zM-390 146l54-5 48 0 12 1 48 10 30 7 12 6 18 11 24 8 12 1 6 0 8-3 9-6 6-6 7-2 54-2 18 2 15 2 5 6 3 24 2 6 5 3 12 3 12 1 60 2 66-1 102-5 18-2 18-5 54-19 54-21 24-7 18-4 54-4 18 0 0 125-1032 0 0-98 42 0 6-1 3-3 1-6 4-6 10-6 6-1 48-4zM-66 224l-42 4-6 2 60 1 6 0 0-1-5-6-7 0z"/>
<path fill="#f33b25" d="M-516 -268l1032 0 0 143-24-1-36-3-18-4-12-5-8-4-10-8-25-22-5-6-2-6 5-12-3-6-18-8-18-4-12-1-66 4-23 3-31 11-12 6-28 19-8 4-11 2-115 1-24 3-30 9-24 4-18 0-24-3-12-3-12-5-10-6-3-6 3-6 4-3 18-5 7-4 7-6 16-18 14-12 1-6-6-5-9-3-12 0-24 2-30 7-24 4-84 7-30 5-36 1-6 1-12 4-11 7 3 6 20 2 12 3 2 1-1 6-9 12-10 10-23 20-9 6-16 6-36 4-24 1-36-3-12-3-10-5-2-6 7-12 11-12 7-6 11-7 12-5 42-15 7-3 6-6-5-5-8-1-120 0 0-48zM216 141l36-1 22 0 3 6-1 1-18 7-12 1-12 0-14-3-16-6 12-5zM-367 146l37-3 42-1 18 2 42 9 30 7 12 6 18 11 24 9 12 2 12-1 6-1 7-4 11-8 24 0 30 1 6 3 6 5 6 11 3 12 3 6 6 4 18 1 138-1 114-4 18-2 12-2 12-4 25-10 53-18 54-21 12-2 48-3 24-1 0 123-1032 0 0-91 54 0 6-3 2-2 1-12 4-6 5-3 13-3 59-5zM-102 218l-18 2-6 4 3 6 9 5 6 2 66 1 9-2 10-6 1-6-2-4-6-5-18-1-48 4z"/>
<path fill="#f03423" d="M-516 -268l1032 0 0 142-30-2-30-3-20-5-14-6-26-21-9-9-6-6-1-6 6-12-3-6-11-6-12-4-24-4-18 1-54 3-29 4-25 9-12 7-32 20-16 5-60 1-48-1-30 3-30 10-24 4-18 0-23-3-20-7-11-6-3-6 3-6 6-3 12-3 9-6 7-6 14-16 16-14 2-6-5-6-13-3-6 0-30 2-30 6-30 4-78 7-30 4-30 1-12 2-18 7-9 6-1 6 10 2 18 2 6 1 3 1 1 6-3 6-13 15-25 21-10 6-7 3-12 3-36 3-24 0-29-3-7-1-11-5-3-6 3-6 8-12 13-12 9-5 14-7 37-12 14-6 7-6-2-6-11-1-12-1-114 0 0-46zM-350 146l26-2 36 0 12 1 48 9 30 7 12 6 18 11 30 12 6 1 12 0 12-1 12-4 6 0 12 2 12 6 5 6-5 6-32 6-22 3-6 2-5 7 3 6 8 7 12 3 66 3 12-1 12-2 7-4 6-6 11-6 24-4 120-2 72-4 42 0 30-3 6-1 37-16 53-17 42-19 12-2 42-4 30-1 0 121-1032 0 0-85 60 0 6-1 5-4 3-6-2-12 1-6 5-1 84-10z"/>
<path fill="#ec2d21" d="M-516 -268l1032 0 0 57-96 0-5 3 5 2 4 4 2 2 12 1 78 0 0 71-30-1-30-3-15-4-14-6-30-24-12-12-1-6 7-11-4-7-10-6-11-4-18-4-12-1-18 0-60 5-28 4-26 10-41 26-13 4-60 1-36-2-18 1-24 3-24 9-24 4-18 1-21-3-23-6-11-6-4-6 4-6 13-5 12-8 6-5 12-15 13-9 6-6 1-6-4-6-10-3-12-1-30 1-48 9-64 6-32 3-18 2-36 2-18 3-12 6-13 8-2 6 9 4 18 1 6 1 6 4 1 2-2 6-10 12-31 26-7 4-11 4-24 3-30 1-30-2-12-2-12-3-4-7 3-6 8-12 12-11 9-7 15-6 38-12 14-6 7-6 2-6-8-2-12-1-126 0 0-45zM-331 146l43 0 12 0 48 9 30 8 12 5 18 11 18 8 12 6 30 5 7 2-5 6-20 5-9 13 3 8 6 5 6 3 12 4 6 0 78 4 18-1 12-2 6-3 8-12 11-6 11-1 180-7 54 2 4 0 8 5 6-1 6-1 12-6 23-15 13-6 30-8 18-7 26-15 10-4 18-3 36-3 30 0 0 118-1032 0 0-78 66 0 12-1 7-11-1-6-6-12 6-6 96-11z"/>
<path fill="#e8251f" d="M-516 -268l1032 0 0 51-108 0-5 3 16 12 7 4 12 3 78 0 0 66-24-1-36-3-10-3-15-6-29-22-9-8-5-6 1-6 7-12-4-6-14-8-12-4-12-3-18-2-12 1-66 5-33 5-21 8-42 27-12 4-60 1-36-2-18 0-24 4-24 9-18 4-18 1-24-2-18-5-6-2-9-5-4-6 5-6 8-3 13-9 7-6 10-13 6-5 9-6 6-6 1-6-3-6-13-4-12-1-30 1-54 8-66 7-42 4-36 1-18 4-12 5-12 7-5 4-3 6 8 4 24 2 6 3 4 3-1 6-11 12-27 24-11 6-8 3-30 3-24 1-30-3-12-2-6-2-5-6 5-12 10-12 7-6 9-6 16-6 36-11 12-5 11-8 5-6-4-2-12-2-138 0 0-44zM-361 152l31-3 48-2 54 9 24 6 12 4 24 14 19 8 17 11 4 1 0 6-4 5-3 7-4 6 2 6 11 12 6 5 6 1 30 3 30 2 54 1 24 0 12-2 10-4 0-18 8-3 12-3 90-3 54-3 24 0 24 3 9 3-9 10-20 14 2 2 6 3 24 2 246-1 0 18-1032 0 0-19 192 0 66 2 48-2 6-3 1-2-25-1-12-1-12-4-18-2-24-7-66-21-6-2-6 0-18 1-18-4-11-7 1-6 5-6-17-18-3-6 1-1 6-2 12-3 48-5zM460 158l26-2 30 0 0 78-144 0-4-3 5-7 5-12-6-3-6 1-6 1-12 0-4-5 7-6 18-6 15-3 6-3 12-7 15-11 9-5 12-3 18-3z"/>
<path fill="#e51e1d" d="M-516 -268l1032 0 0 46-120 0-6 2 18 15 12 6 12 5 12 1 72 0 0 62-24 0-36-4-6-1-14-6-32-24-7-6-5-6 1-6 5-6 3-6-5-6-12-7-18-8-6-2-18-1-18 0-36 4-36 3-32 5-16 6-42 27-6 3-6 2-12 1-48 0-42-3-12 1-24 3-20 8-22 6-18 1-24-3-15-4-9-4-4-2-4-6 4-6 10-5 12-9 13-16 5-4 12-8 5-6 2-6-3-6-4-2-6-2-18-2-30 1-54 7-60 6-42 4-42 1-12 2-18 7-12 7-10 7-3 6 7 5 6 2 18 0 6 2 7 3 0 6-5 6-34 30-10 6-6 1-30 3-24 1-30-3-12-2-6-6 5-12 4-6 12-12 9-6 16-6 32-9 12-5 12-7 10-9-3-6-7 0-30 1-120 0 0-43zM-345 152l21-2 36-1 12 0 54 9 30 9 24 14 18 9 8 4 6 6 2 6-1 6-3 6-5 6 1 6 2 6-3 6-7 3-18 2-48-1-12-2-24-4-78-23-66-26-12-7-18-13 3-7 21-4 54-7zM482 158l34 0 0 64-120 0-6-4 2-6 7-12 3-12 12-12 8-5 16-7 42-5zM127 224l89-4 18 1 18 3-4 6-14 8-18 8-12 4-12 2-30 2-36 0-30-2-17-4 9-18 38-5z"/>
<path fill="#e0181d" d="M-516 -268l1032 0 0 41-132 0-9 1 5 6-2 2-9-2-3-2-6-1-12 0-24 1-36 5-42 3-24 5-18 5-6 3-36 24-12 5-12 1-54 0-13-1-23-3-6 0-30 6-18 8-12 3-12 3-18 1-18-2-15-4-14-6-5-6 5-6 5-3 12-9 15-18 18-12 5-6 1-6-2-6-7-4-6-1-18-2-24 0-125 13-85 5-18 4-7 4-11 3 0-4-6-2-6 0-42 2-120 0 0-42zM-348 -214l1 0-1 1zM383 -214l1-1 3 1-3 1zM-377 -196l11-4 13 10 11 2 18 1 9 3 1 6-4 6-7 6-28 24-13 6-36 3-24 0-24-3-6-1-7-5 1-6 7-12 12-12 9-6 14-5 30-8 12-4zM407 -196l1-4 24 7 12 3 72 0 0 57-24 0-27-3-15-3-9-3-33-24-7-6-4-6 1-5 7-7zM-326 152l38-2 18 1 54 10 18 5 12 5 12 8 19 9 10 6 6 6 2 6-1 7-3 5-6 6-1 12-8 6-6 1-48 1-24-3-12-2-44-15-16-3-24-8-70-31-10-6-7-6 9-6 78-11zM453 164l33-3 30 0 0 55-108 0-5-4 3-6 8-12 4-12 5-6 7-6 20-5zM176 224l40-2 20 2-2 6-11 6-19 8-16 4-26 3-40-3 19-18 33-5z"/>
<path fill="#db141e" d="M-516 -268l1032 0 0 36-156 0-11 0-10 6-15 2-30 5-56 5-29 6-13 6-40 26-12 4-60 0-12-2-24-5-6 0-18 4-18 6-5 3-15 6-10 3-18 2-18-1-16-4-14-6-5-6 4-6 13-10 17-20 13-7 6-5 5-6 1-6-2-6-4-3-6-3-24-2-30 0-120 12-60 2-30 0-4 0-14 4-54 6-132 0 0-40zM-389 -190l17-4 6 1 5 3 7 2 24 2 10 2 3 6-4 6-27 24-8 6-4 2-6 2-20 2-28 2-20-2-16-3-7-3 0-6 3-6 3-6 12-12 13-7 14-5 22-5zM411 -190l3-3 6 0 24 5 72 0 0 54-36-2-32-6-19-12-23-18-5-6 2-6 5-3zM-296 152l14 0 12 1 42 6 22 5 14 5 18 11 27 14 6 6 2 6-1 6-4 6-6 6-5 12-7 4-6 1-54 0-12-2-18-4-30-11-30-8-24-9-62-31-5-6 15-6 58-9 30-2zM473 164l43 0 0 45-96 0-4-3 9-12 10-18 9-6 24-5zM207 224l9 1 5 5-12 6-23 7-14-1 2-5 6-7 24-5z"/>
<path fill="#d51120" d="M-516 -268l1032 0 0 33-174 0-20 10-28 5-60 6-31 6-11 6-36 24-12 4-60 0-16-4-20-6-6 0-12 2-18 7-14 9-10 5-12 3-18 2-18-1-10-3-15-6-5-6 3-6 9-7 18-22 13-7 8-6 6-6 1-6-2-6-8-5-6-2-18-2-30 0-36 2-84 8-54 2-30-1-48 8-36 5-132 0 0-39zM-380 -190l8 0 18 4 24 1 6 2 4 5-4 6-24 22-12 8-6 2-36 4-18-1-26-5-4-5 1-7 4-6 11-12 9-6 41-11zM419 -190l7 0 18 3 6 1 66 0 0 50-24-1-24-3-9-2-15-5-18-12-16-13-4-6 2-3 6-5zM-334 158l40-4 18 0 54 8 30 8 42 24 6 6 3 6-1 6-5 6-7 6-7 12-7 3-48 1-18-2-18-5-24-9-36-11-16-7-53-30-4-6 17-6 32-5zM462 170l18-2 36 0 0 27-78 0 0-1 12-15 6-5z"/>
<path fill="#d00d21" d="M-516 -268l1032 0 0 29-180 0-8 1-6 6-9 6-7 2-22 4-38 4-22 2-26 6-6 4-36 24-12 4-30 1-30-1-12-3-24-10-6-1-12 3-18 7-6 5-2 3-10 7-18 6-18 2-12-1-12-2-14-6-6-6 3-5 5-6 18-21 26-16 6-6 1-6-2-6-7-6-6-1-24-3-36 0-36 2-78 6-54 2-30-1-84 14-132 1 0-38zM-396 -184l18-2 24 2 19 0 5 1 6 5 1 0-4 6-15 14-12 10-6 3-6 2-24 3-24 0-16-2-7-6-3-6 1-6 4-6 6-6 10-6 23-5zM420 -184l6-2 6 0 24 2 60 0 0 45-24-1-17-2-19-6-18-8-15-10-7-6-4-6 2-2zM-316 158l34-3 12 1 54 8 21 6 9 5 34 19 6 6 3 6-1 6-6 6-8 6-4 7-5 5-7 2-42 0-18-2-18-4-69-26-10-6-23-18-7-6-4-6 16-6 31-5z"/>
<path fill="#cb0922" d="M-516 -268l1032 0 0 26-180 0-12 1-8 3-4 6-7 6-23 5-54 6-30 6-5 1-7 5-30 21-12 4-6 1-48-1-12-2-12-4-9-6-13-12-1-24-1-1-6-3-5 4 4 12 2 12-6 6-19 11-6 4-5 9-8 6-17 6-18 1-12 0-12-2-10-5-6-6 3-6 19-23 33-19 5-6 1-6-1-6-6-6-8-2-12-2-18-1-54 0-90 6-90 2-84 15-132 0 0-36zM-408 -178l24-5 48 1 6 2 3 2-3 6-18 16-12 8-12 2-24 3-12-1-10-4-7-6-2-6 1-6 5-6 7-3zM422 -178l10-4 6 0 18 0 60 0 0 39-24-1-18-4-30-12-12-6-8-6zM-297 158l15-1 12 0 54 8 24 8 36 20 9 7 2 6-2 6-6 6-9 6-6 9-6 3-42 1-18-2-16-5-64-24-9-6-13-12-11-12-2-6 16-6 33-5z"/>
<path fill="#c50624" d="M-516 -268l1032 0 0 23-192 0-11 1-7 5-2 7-5 6-17 4-54 6-30 5-12 5-31 22-11 5-6 0-48-1-12-2-6-3-8-5-7-6-3-6-1-6 1-6 2-6 4-6-3-6-13-6-8-1-18 0-11 1-10 6 1 6 8 5 6 6 5 7 2 6-4 6-9 8-3 4-5 12-8 6-14 5-18 1-12 0-12-3-6-3-6-6 2-6 10-13 6-7 18-10 18-8 6-4 6-6 1-6-2-6-4-6-7-2-6-2-42-2-36-1-36 1-66 4-78 2-18 2-60 11-18 3-132 0 0-34zM-390 -178l12-1 36-1 6 1 5 1-2 6-9 8-12 9-6 3-12 1-12 0-12-1-6-3-5-5-1-6 3-6 9-3zM440 -178l22-1 54 0 0 27-24 0-12-2-18-6-12-6-10-6zM-283 158l7 0 12 1 36 5 18 4 12 4 12 5 30 17 7 6 2 6-2 6-7 6-9 6-5 6-4 3-6 1-42 1-18-3-53-20-14-6-9-6-13-11-4-7-3-6 1-6 17-6 30-5z"/>
<path fill="#c00225" d="M-516 -268l1032 0 0 21-192 0-24 2-3 1 0 12-5 6-16 4-66 7-18 4-8 3-24 18-9 6-7 3-6 1-48-2-7-2-11-4-10-8-3-6 0-6 1-6 4-6 6-6-2-6-10-6-16-4-36-5-12-3-66-2-36 0-102 4-72 1-30 4-60 12-144 0 0-31zM-35 -208l17-3 12 1 7 2 2 6-4 12-4 18-8 6-11 4-18 1-18-2-8-3-6-6 2-6 3-6 9-10 11-8 13-5zM-356 -178l14 0 6 0-1 6-11 9-6 4-6 1-12 0-5-2-5-6 3-6 19-5zM465 -172l3-1 6 0 42 0 0 8-36 0-12-5zM-302 164l20-4 6 0 12 1 36 4 12 3 12 3 18 8 28 15 7 6 2 6-3 6-4 4-12 8-6 6-6 2-42 1-18-3-33-12-28-12-9-6-11-12-4-6-1-6 4-6 16-5z"/>
<path fill="#b90026" d="M-516 -268l1032 0 0 18-198 0-24 2-6 4 3 12-5 6-16 3-60 7-18 3-13 5-11 8-11 10-7 5-6 2-12 1-42-3-6-1-9-4-8-6-3-6-1-6 3-6 14-12-3-6-9-6-14-5-33-7-51-3-66-1-168 4-30 2-24 4-36 8-18 2-144 0 0-28zM-40 -202l10-1 6 0 6 1 6 4 2 2 2 6 1 6-1 12-10 7-12 2-24 0-10-3-7-6 2-6 3-5 6-7 6-5 12-6zM-358 -172l10-1 4 1-10 5zM-292 164l10-2 12 0 48 6 12 3 18 6 22 11 10 6 7 6 2 6-3 6-2 2-24 16-6 1-36 0-12-1-24-7-38-17-8-6-6-5-4-7-3-6 1-6 6-6 16-5z"/>
<path fill="#b00026" d="M-516 -268l1032 0 0 15-198 0-36 2-4 1 6 12 1 6-6 6-75 9-18 3-13 6-19 18-4 3-6 2-12 1-36-2-12-2-6-3-6-5-4-6 0-6 4-6 18-12-3-6-10-6-17-7-12-3-12-2-36-3-36-2-144 1-108 3-71 13-157 1 0-25zM-44 -196l8-2 12 1 6 3 5 4 2 6 0 12-10 6-15 2-18-1-6-1-7-6 1-6 4-6 6-6 8-4zM-283 164l7-1 12 1 48 6 30 11 24 13 7 6 2 6-4 6-23 16-6 1-6 0-30 0-12-1-24-7-32-15-9-6-5-5-4-7-1-6 3-6 7-6 11-4z"/>
<path fill="#a70026" d="M-516 -268l285 0 0 12-57 3-42 8-6 2-24 2-156 0 0-21zM-6 -268l522 0 0 13-216 0-24 1-6 3-1 1 9 12 1 6-8 6-73 8-12 2-7 2-11 6-6 5-5 7-7 6-12 4-6 0-18-1-23-3-7-1-7-5-5-6 1-6 5-6 13-6 9-6-4-6-24-12-18-6-24-3-36-3 0-6zM-49 -190l13-3 6 0 6 1 5 2 4 6 1 6 0 6-10 6-6 1-18 0-6-1-6-3-3-3 1-6 4-6 4-3zM-291 170l9-3 12-2 48 5 18 5 12 5 12 5 15 9 8 6 2 6-4 6-15 10-12 5-42 0-18-4-27-11-12-6-8-6-5-6-3-6-1-6 4-6 4-3z"/>
<path fill="#9e0026" d="M-516 -268l235 0 0 12-25 3-12 4-24 3-174 0 0-16zM25 -268l230 0 0 12 3 3 2 3 8 7 5 5-1 6-13 6-67 7-18 4-13 7-8 12-9 6-12 2-18-1-18-3-12-3-7-7 1-6 9-6 15-6 6-5 1-1-4-6-10-6-35-13-12-3-23-2 0-6zM-51 -184l9-4 6-1 6 0 6 1 4 4 2 5 1 7-7 4-6 1-12 0-12-2-5-3 2-6 3-4zM-284 170l8-2 6-1 12 1 36 4 24 7 12 5 10 4 9 6 7 6 2 6-4 6-18 11-6 2-6 1-36-1-18-3-23-10-11-6-8-6-5-6-2-6 0-6 4-6 3-2z"/>
<path fill="#960026" d="M-516 -268l219 0 0 12-27 2-192 0 0-8zM55 -268l185 0 0 12 6 2 6 3 11 8 4 5-2 6-17 6-56 5-18 3-11 4-7 4-2 2-5 12-5 3-6 2-6 1-18-1-21-5-9-6 2-6 27-12 4-6-4-6-10-6-31-13-6-2-11-3 0-6zM-38 -184l8 0 6 1 3 5 0 6-3 2-6 1-6 0-16-3 2-6 8-4zM-276 170l12-1 36 4 18 3 18 6 13 6 10 6 7 6 2 6-4 6-4 3-12 6-6 2-6 1-42-1-18-5-23-12-8-6-5-6-2-6 1-6 4-6 3-2z"/>
<path fill="#8d0026" d="M76 -268l150 0 0 12 14 3 6 2 12 7 2 6-2 3-5 3-18 6-49 4-12 1-12 3-12 5-4 5 1 6-3 6-6 2-6 1-18-1-9-2-11-6 3-6 28-12 1-6-5-6-9-6-27-12-9-6 0-6zM-33 -178l4 0 2 6-10 0 1-2zM-280 176l10-4 12-1 36 4 24 6 18 8 9 5 7 6 2 7-5 5-13 7-12 4-36-1-18-3-18-8-7-5-8-6-4-6-2-6 1-6 2-3z"/>
<path fill="#840026" d="M97 -268l107 0 0 12 30 4 8 2 9 6 0 7-12 5-17 5-6 1-42 2-24 3-6 0-6-3-18-14-22-12-1-12zM110 -208l16-4 6 1 5 3 4 6-3 4-6 3-12-1-15-6 3-4zM-274 176l10-2 24 0 24 4 18 5 18 8 6 3 7 6 2 6-5 6-16 8-12 2-30-2-18-3-18-8-11-9-4-6-2-6 1-6 4-4z"/>
</g>
<use href="#co"/>
</g><use href="#ro"/></g>
<text class="t" x="517.5" y="796.5">icon</text>
<rect x="109.5" y="1351.9" width="816.0" height="40.0" fill="url(#cb)" stroke="#000" stroke-width="1.67"/>
<path d="M168.9 1391.9v7.3" stroke="#000" stroke-width="1.67"/>
<text class="k" x="168.9" y="1423.2">100</text>
<path d="M301.0 1391.9v7.3" stroke="#000" stroke-width="1.67"/>
<text class="k" x="301.0" y="1423.2">200</text>
<path d="M433.2 1391.9v7.3" stroke="#000" stroke-width="1.67"/>
<text class="k" x="433.2" y="1423.2">300</text>
<path d="M565.3 1391.9v7.3" stroke="#000" stroke-width="1.67"/>
<text class="k" x="565.3" y="1423.2">400</text>
<path d="M697.4 1391.9v7.3" stroke="#000" stroke-width="1.67"/>
<text class="k" x="697.4" y="1423.2">500</text>
<path d="M829.5 1391.9v7.3" stroke="#000" stroke-width="1.67"/>
<text class="k" x="829.5" y="1423.2">600</text>
<text class="k" x="517.5" y="1451.9">Pa</text>
<g transform="translate(1560.60 1063.60)">
<g clip-path="url(#rc)"><g filter="url(#bl)"><rect x="-540" y="-290" width="1080" height="580" fill="#fffbc3"/>
<path fill="#fff9bc" d="M-516 -268l1032 0 0 235-42-1-66-6-30-1-72 6-84 3-60 3-54 12-18 1-30 1-12 0-34-7-32-1-48-6-12-1-78 5-54 1-126-5-72-3-108-2 0-228zM-237 20l51-2 24 0 12 1 30 6 48 14 18 2 48 0 12 0 12-4 30-16 6-2 12-1 18 1 18 3 24 7 24 8 7 1 11 2 25-2 71-9 36-4 30-2 36-1 30 2 24 3 66 14 12 1 18-1 0 231-1032 0 0-232 12 1 18 0 54-2 150-15 42-3z"/>
<path fill="#fff6b6" d="M-516 -268l1032 0 0 218-36 0-78-8-30-1-30 1-18 2-30 4-30 2-102 0-18 3-30 9-12 3-12 1-18 1-24 0-60-3-18-3-36-9-12-2-90 0-48-1-126 0-66 1-108 0 0-212zM311 38l37-2 30 0 30 5 36 9 24 5 18 2 30 0 0 215-1032 0 0-216 42 1 60-1 88-6 92-7 66-2 24 2 31 7 34 6 19 2 60-1 18-2 18-5 18-7 12-2 6 0 18 2 25 7 29 6 18 2 18 0 22-2 20-2 60-11 24-4z"/>
<path fill="#fff3b0" d="M-516 -268l1032 0 0 210-42-1-66-7-42-2-36-1-12 1-36 7-24 3-30-1-54-2-18 0-23 3-37 8-12 1-90 0-54-9-18 0-30 1-60-1-48-5-66 2-54-3-42 5-24 1-114-1 0-203zM327 50l27-1 18 0 18 2 36 8 26 3 28 2 36 1 0 207-1032 0 0-208 54 1 84-2 132-4 54-3 36 1 46 5 32 3 78 0 18-1 36-7 12-1 18 1 40 5 20 2 48 2 52-4 80-11z"/>
<path fill="#fff1a9" d="M-516 -268l1032 0 0 204-30 0-18-1-54-7-84-7-12 1-36 10-24 3-30 0-48-4-18 0-18 1-42 6-18 2-84-1-60-3-42 2-42 0-36-2-36-7-66 2-48-4-12 1-36 6-24 2-96 0-18 0 0-198zM344 62l34 0 48 6 24 1 66 2 0 201-1032 0 0-202 78 1 198-2 18-1 24-2 36 1 36 3 36 1 90 1 18-1 36-5 12-1 78 6 60 1 54-2 84-7z"/>
<path fill="#ffeea3" d="M-516 -268l1032 0 0 200-30 0-24-2-42-7-78-10-12 0-12 0-6 2-24 9-12 3-24 3-30-1-48-6-12-1-18 1-54 6-42 0-60-1-48 2-36 4-24 0-54-2-42-10-60 0-36-4-12-1-12 2-36 9-24 3-96 1-24-1 0-193zM45 74l21-1 84 4 60 1 48-1 108-4 66 2 84 1 0 196-1032 0 0-196 210-1 174 3 132 0 18-1 24-2z"/>
<path fill="#ffec9d" d="M-516 -268l1032 0 0 196-30 0-18-2-50-8-34-3-42-9-12-1-18 2-12 4-12 6-18 6-24 3-30-3-18-3-30-8-6-1-18-1-18 1-36 4-42 1-54 3-90 11-30 0-42-2-12-2-30-9-42-4-30-5-18-1-24 1-18 7-24 7-30 5-96 1-24-2 0-188zM-516 80l198 0 84 3 12 1 12 5 18 16 6-1 18-9 18-6 12-3 18-1 60-1 84 0 66-3 132 2 294-3 0 192-1032 0 0-186z"/>
<path fill="#ffe997" d="M-516 -268l1032 0 0 192-36 0-24-3-78-11-36-10-12-2-12 1-12 3-24 13-12 3-18 3-18 0-24-3-12-3-12-4-24-12-30-4-24-1-60 1-34 11-44 11-66 10-30 0-30-2-18-2-36-10-18-3-18-5-24-10-6-1-6 0-12 1-24 4-6 2-12 7-12 4-30 9-12 2-18 1-84 0-24-1 0-185zM-516 86l0-2 102-1 114 1 60 3 12 1 10 4 8 7 12 12 6 4 6 2 6-1 14-6 10-5 12-8 6-3 12-3 30-2 36-1 42 1 30 1 30 4 12 0 30-6 18-1 180-1 54 1 42 4 30-5 18-2 90-1 0 189-1032 0 0-180z"/>
<path fill="#ffe691" d="M-516 -268l1032 0 0 189-42-1-78-10-24-5-30-11-12-2-12 1-12 2-6 3-11 8-7 5-12 4-18 3-24-1-18-3-18-6-12-6-12-9-6-3-6-1-36-4-30-1-36 0-12 2-10 2-20 10-36 13-24 5-54 8-36-1-24-2-12-2-54-15-18-7-18-10-12-3-18 2-24 7-6 3-12 8-12 5-24 7-18 3-18 2-84 0-24-2 0-181zM-491 87l77-1 96 0 48 2 30 2 6 1 12 4 6 4 19 17 11 5 6 0 24-8 6-3 12-9 7-3 11-2 30-2 42-1 48 2 18 2 30 7 6 0 6-1 30-10 12-2 18-1 84-1 84 0 42 2 42 8 6 0 24-8 18-3 96-2 0 186-1032 0 0-185 24 0z"/>
<path fill="#fee38b" d="M-516 -268l1032 0 0 186-48-1-60-8-30-6-12-4-24-9-12-3-18 1-12 3-6 4-4 5-7 6-7 4-6 2-18 4-18 0-24-5-12-4-12-7-18-14-9-4-33-3-30-2-42 1-12 2-11 2-15 6-34 16-12 5-36 7-36 5-30-1-42-4-48-14-42-22-6-1-12-2-12 3-24 7-18 13-12 6-18 5-18 5-18 2-18 0-72 0-24-1 0-179zM-516 92l0-3 96-1 114 1 54 2 12 2 12 3 12 8 18 15 12 6 6 1 29-10 13-8 12-6 18-2 30-3 36 0 42 2 18 3 24 7 12 1 6-1 24-9 12-3 12-2 18-1 84-3 78 0 42 4 30 9 12 1 6-1 30-11 18-3 90-2 0 184-1032 0 0-174z"/>
<path fill="#fee085" d="M-516 -268l1032 0 0 184-48-1-54-7-18-3-16-5-44-16-12-1-18 1-12 3-2 1-7 12-7 6-8 4-18 3-18 0-18-2-18-7-6-4-7-6-11-10-12-6-6-2-24-2-36-1-48 1-12 2-32 12-23 12-11 5-24 6-24 5-18 2-36 0-36-4-36-10-12-4-18-12-30-13-12-3-6-1-12 3-24 9-18 14-12 6-18 6-18 4-18 2-24 1-66 0-24-2 0-176zM-516 92l72-2 90 0 60 1 48 3 12 3 6 2 6 4 16 13 8 6 12 7 6 1 6-1 24-9 24-13 18-3 30-3 36 0 36 2 18 3 24 6 18 2 17-4 25-9 18-3 84-4 78-1 24 2 24 3 12 3 24 8 12 1 12-4 24-10 12-2 18-2 78-2 0 182-1032 0 0-174z"/>
<path fill="#fedd7f" d="M-516 -268l1032 0 0 182-48-1-36-4-24-4-12-2-18-6-36-15-12-2-6-1-24 2-10 1-2 2-3 4-1 6-3 6-5 4-6 4-18 4-12 0-12-1-12-2-18-8-8-7-10-12-8-6-10-3-30-4-36-1-42 1-12 2-17 5-25 10-30 16-30 8-36 5-36 1-36-5-30-8-18-8-18-12-30-13-12-4-6 0-12 3-18 8-6 3-24 18-18 7-18 5-24 3-24 1-66 0-24-2 0-174zM-467 92l59 0 90 0 42 2 30 3 12 3 6 2 28 20 9 6 11 5 6 0 25-11 23-11 6-1 42-5 30-1 30 2 24 2 36 8 12 1 12-2 30-10 18-4 84-5 72-1 24 2 30 4 12 4 16 5 14 3 12-2 30-12 18-4 90-3 0 180-1032 0 0-178 48-1z"/>
<path fill="#feda79" d="M-516 -268l1032 0 0 180-48-1-54-6-12-3-18-5-42-18-18-3-20 0-16 2-6 4-1 12-3 6-8 5-6 3-12 2-18 0-18-3-14-7-7-6-7-12-6-5-11-7-9-2-12-1-54-2-42 1-12 2-42 14-30 17-12 4-24 7-36 4-30-1-36-4-27-9-14-6-19-13-24-10-18-10-6-1-6 1-6 1-24 11-12 8-12 10-12 7-18 6-18 5-18 2-24 1-66 0-24-2 0-172zM-516 98l0-2 102-3 102 1 48 3 18 2 12 3 12 7 18 13 18 11 6 3 6 0 12-6 42-16 24-4 24-2 24-1 24 2 30 3 30 6 18 1 18-3 30-10 18-2 78-5 72-2 18 2 18 2 18 4 24 7 18 3 12-1 9-4 21-9 18-4 90-3 0 178-1032 0 0-168z"/>
<path fill="#fed673" d="M-516 -268l1032 0 0 178-48 0-54-7-24-7-36-16-12-4-12-2-12-1-24 1-12 2-1 0-5 6 1 12-3 6-10 6-6 2-12 1-12 0-18-4-10-5-7-6-3-6-1-6-3-6-6-4-6-3-12-4-12-1-60-3-42 2-12 1-42 16-6 2-20 12-10 5-30 9-12 2-18 1-36 0-36-5-24-7-12-6-18-13-5-4-19-7-18-11-6-2-6-1-12 3-24 12-12 8-18 15-18 7-18 6-24 3-24 1-66 0-24-1 0-171zM-516 98l60-2 54-1 90 1 48 3 18 3 12 3 6 3 21 14 21 13 6 3 6 1 18-8 36-14 24-3 24-3 24 0 18 1 30 3 36 5 18 1 18-2 30-9 24-4 72-5 72-2 12 1 18 3 24 5 30 8 12 1 12-1 30-12 18-5 90-3 0 176-1032 0 0-168z"/>
<path fill="#fed16d" d="M-516 -268l1032 0 0 177-48-1-48-6-18-4-11-4-31-14-18-7-18-3-12-1-24 1-6 1-6 2-4 3-1 6 2 6 1 6-3 6-7 4-12 3-18 1-18-5-6-3-7-6-2-6 3-12-4-6-8-3-12-3-18-3-39-3-27 0-36 1-18 2-42 16-36 20-30 9-12 2-18 1-36 1-36-6-10-4-16-6-10-6-12-10-6-4-23-10-18-12-7-1-6 0-12 4-30 16-24 19-18 8-18 6-24 4-24 1-66 0-24-2 0-169zM-477 98l63-1 90 0 36 2 30 3 14 2 10 3 6 4 17 11 31 19 6 1 6-3 12-6 36-13 48-5 18-1 24 1 36 3 30 4 18 1 18-2 30-8 30-4 72-6 66-2 24 3 24 5 25 7 23 3 16-3 26-10 18-4 90-5 0 175-1032 0 0-171 36-2z"/>
<path fill="#fecb67" d="M-516 -268l1032 0 0 175-48 0-48-6-24-7-13-6-17-9-18-7-18-5-24-2-24 2-14 3-6 6 8 12 1 6-4 6-9 4-6 2-18 0-12-2-6-2-9-8-2-6 3-6 2-3 4-3 3-6-9-6-16-3-16-3-74-2-42 1-18 1-42 16-30 17-30 12-12 3-12 1-24 1-24 0-12-2-24-5-18-7-10-5-20-17-24-10-18-13-6-2-6-1-12 2-6 3-30 18-24 19-18 8-18 6-24 4-24 1-66 0-24-2 0-167zM-430 98l40 0 78 1 30 2 26 3 22 6 19 12 17 9 18 12 6 1 6-2 12-7 30-10 18-3 30-4 24-1 18 1 36 2 36 4 18 1 21-3 27-6 12-2 66-7 30-3 54-1 24 2 54 13 24 2 18-2 24-10 12-4 96-5 0 173-1032 0 0-169 84-4z"/>
<path fill="#fec661" d="M-516 -268l1032 0 0 174-36 0-18-1-30-4-18-3-12-4-12-4-24-14-12-5-12-4-24-6-12-1-12 0-18 2-18 4-12 0-33-8-9-1-30-1-72-2-42 1-18 1-9 2-27 11-12 6-30 17-30 11-12 2-12 1-42 0-28-6-18-6-11-6-20-18-7-4-18-8-18-12-6-2-12-2-12 3-30 17-30 24-18 8-18 6-24 4-24 2-66 0-24-2 0-166zM228 -124l6-1 6 0 12 3 12 8 2 2 2 6-4 6-12 4-12 1-12-1-11-4-7-6-1-6 1-2 6-5 6-3zM-502 104l46-3 54-1 90 1 42 3 24 5 12 4 15 9 21 11 18 12 6 2 6-2 12-7 30-11 12-2 36-4 18-1 24 1 72 5 18 1 18-2 30-7 18-2 66-8 24-1 54-2 24 3 54 12 24 2 18-3 36-12 96-6 0 171-1032 0 0-167 12 0z"/>
<path fill="#fec05b" d="M-516 -268l1032 0 0 172-36 1-18-1-30-4-18-4-12-3-12-6-24-14-12-6-28-9-26-10-6-1-12 2-8 3-10 3-12 1-48-3-108-1-48 1-18 4-18 7-12 6-36 20-30 11-18 3-36 1-12-1-20-4-22-7-8-5-8-6-14-14-6-5-20-11-16-9-6-3-12-1-12 1-6 2-30 17-24 20-6 4-18 9-18 7-24 4-24 2-66-1-24-2 0-164zM220 -118l8-2 6-1 12 1 6 2 6 3 4 3 2 4 1 2-5 6-8 3-12 1-12-1-6-2-9-7 0-6 3-3zM-480 104l48-2 42-1 78 2 36 3 26 4 16 6 23 12 13 6 18 12 6 2 6-1 12-7 24-9 18-4 30-3 24-1 24 0 90 5 18-1 48-9 72-8 24-2 48 0 18 1 60 13 24 1 18-2 36-12 96-7 0 170-1032 0 0-165 30-2z"/>
<path fill="#feba55" d="M-516 -268l1032 0 0 171-36 0-18-1-36-5-18-4-18-8-30-19-34-14-10-6-18-12-10-5-6-1-13 0-5 2-11 4-22 12-15 3-54 2-96 0-26 1-16 5-12 5-12 5-30 18-30 13-18 4-42 1-12 0-12-3-19-6-12-6-8-6-21-22-19-14-11-6-18-4-18-1-6 1-6 3-24 14-12 9-18 15-12 8-18 8-12 4-24 4-24 2-66 0-23-3-1-162zM230 -118l4 0 12 1 6 2 7 3 3 6-6 6-10 3-6 0-12-1-6-3-6-5 0-5 6-5 6-1zM-453 104l51-1 72 1 30 1 30 4 18 4 18 6 19 9 17 8 18 12 6 2 6 0 18-11 24-8 12-2 36-3 36-1 78 4 24 0 12-1 54-8 66-8 24-1 42-1 12 0 12 1 23 5 33 6 28 2 18-2 36-11 96-7 0 168-1032 0 0-162 24-1 36-4z"/>
<path fill="#feb54f" d="M-516 -268l1032 0 0 170-36 0-18-1-36-5-18-5-12-5-12-6-30-20-24-11-32-21-16-5-6-1-18 2-24 4-10 12-2 2-12 4-12 1-42 3-96 0-12 0-12 2-24 7-12 6-24 15-12 6-30 12-12 2-42 2-12-1-12-3-11-4-13-6-8-6-6-6-16-19-6-7-10-10-8-4-6-2-18-2-24 0-6 1-6 3-24 15-12 9-24 20-18 9-18 6-18 4-24 3-66 0-24-2-6-1 0-161zM220 -112l8-3 12-1 12 3 2 1 5 6-7 6-12 2-11-2-10-6zM-489 110l15-2 18-1 54-2 84 1 36 3 24 5 30 11 30 12 18 13 6 2 6 0 6-3 14-9 16-6 12-2 24-3 48-1 108 2 22-2 20-3 96-11 60-2 18 1 60 11 30 2 23-4 31-8 36-3 24-3 36-2 0 166-1032 0 0-159 24-2z"/>
<path fill="#feaf4b" d="M-516 -268l1032 0 0 168-36 0-18 0-34-6-20-5-12-5-12-6-30-22-24-12-24-16-13-6-11-2-6-1-30 3-12 2-6 2-3 2-4 6-7 6-16 5-42 4-102 0-12 0-12 2-6 2-15 5-9 5-24 15-12 6-30 12-12 3-42 1-12-1-12-3-17-8-9-6-11-12-17-25-6-7-6-5-6-3-6-1-48-1-12 6-30 19-24 21-6 4-18 9-18 7-24 4-18 2-66 0-24-2-6-1 0-159zM225 -112l9-2 12 1 4 1 5 6-3 3-6 3-6 1-6-1-11-6zM-476 110l38-3 42-1 78 2 30 2 30 7 24 8 30 11 6 3 18 12 6 3 6 0 4-2 21-12 17-5 12-3 18-1 48-2 108 2 33-3 105-12 60-2 18 1 30 6 36 5 24 1 18-2 36-9 36-2 24-4 36-3 0 165-1032 0 0-156 24-2 12-3z"/>
<path fill="#feaa49" d="M-516 -268l1032 0 0 167-36 0-18-1-30-4-24-6-12-5-12-7-30-23-42-25-18-8-18-3-18 1-32 4-6 6-5 6-5 4-12 4-12 2-30 3-102 0-12 1-12 2-11 2-13 6-24 15-12 7-36 15-12 2-42 1-12-1-11-3-12-6-9-6-6-6-9-12-7-12-6-13-6-7-6-5-12-3-48 1-6 0-6 3-30 19-30 25-12 8-12 6-18 6-24 5-18 2-66 0-18-2-12-2 0-157zM232 -112l11 0 3 2 6 4-6 3-6 2-6-1-8-4 2-3zM-455 110l41-2 36 0 66 2 24 3 24 5 36 11 24 8 7 3 17 13 6 2 6 1 6-2 24-14 6-2 12-3 24-2 48-2 108 2 48-5 90-9 54-2 18 0 34 5 32 4 30 2 18-2 36-7 36-3 24-4 36-3 0 163-1032 0 0-154 30-2 12-3 18-2z"/>
<path fill="#fea546" d="M-516 -268l1032 0 0 166-42 0-12-1-30-5-24-6-12-5-12-7-36-28-30-18-12-6-12-4-6-2-12-1-24 1-24 4-6 2-2 0-10 12-6 4-8 2-22 4-24 2-102 0-24 3-11 3-7 4-6 3-24 16-12 6-30 12-12 3-42 1-12-1-12-5-13-9-7-6-5-6-8-12-5-12-4-12-5-6-7-4-6-3-12-1-48 1-6 2-6 3-24 15-12 9-18 16-12 9-18 9-18 6-24 6-18 2-66 0-18-2-12-2 0-156zM231 -106l3-2 6 0 7 2-7 2-6-1zM-423 110l33 0 42 1 36 2 24 3 60 15 24 8 6 2 18 13 6 3 6 0 6-1 29-16 7-2 12-2 24-2 42-2 108 2 63-6 75-7 54-2 18 0 72 9 24 1 18-2 30-5 42-4 18-3 42-4 0 161-1032 0 0-151 30-2 18-5 42-3z"/>
<path fill="#fea044" d="M-516 -268l1032 0 0 164-54 0-24-4-30-8-12-5-12-7-36-29-25-15-26-12-9-2-12-2-39 4-15 3-6 3-11 12-7 4-11 2-19 4-24 1-96 0-24 3-18 6-9 4-21 15-12 6-30 12-12 3-42 1-7-1-11-3-6-3-14-12-6-6-8-12-5-12-3-12-2-6-7-6-9-3-12-3-54 2-6 2-6 4-24 15-42 35-12 6-18 7-24 6-24 3-60 0-23-2-13-2 0-154zM-465 116l33-3 36-1 54 1 43 3 17 4 48 11 24 7 12 5 18 13 6 3 6 0 12-4 30-15 12-3 24-2 36-1 114 1 132-12 60-2 18 0 60 7 36 2 20-2 28-4 36-3 24-4 42-4 0 159-1032 0 0-148 30-3 18-4z"/>
<path fill="#fd9a42" d="M-516 -268l1032 0 0 163-42 0-12-1-24-4-30-7-12-5-12-7-36-30-19-13-29-13-12-3-12-2-12 1-42 6-10 5-8 9-6 4-12 4-18 3-24 2-96 0-25 2-18 6-11 7-12 9-12 7-36 15-12 2-42 1-12-2-6-3-9-6-11-12-12-18-2-6-4-18-3-6-7-4-12-4-12-1-48 2-6 1-6 2-18 11-24 18-30 25-12 7-18 7-30 7-18 2-60 0-18-1-18-4 0-152zM-443 116l35-2 42 1 42 2 30 3 60 13 24 7 12 4 18 13 6 3 6 1 12-3 34-18 8-1 24-2 36-2 114 1 132-11 54-2 24 0 66 7 36 0 42-4 36-2 24-5 42-4 0 157-1032 0 0-146 36-3 12-4 24-2z"/>
<path fill="#fd953f" d="M-516 -268l1032 0 0 162-42 0-12-1-30-5-24-7-12-5-12-7-36-31-18-12-18-9-12-4-12-3-12-1-12 0-45 7-9 5-7 7-10 6-13 4-18 4-36 1-78 0-12 0-18 3-18 7-24 17-18 9-24 9-6 2-12 1-42-1-6-2-10-6-11-12-8-12-6-12-6-24-7-6-12-4-12-2-54 2-12 4-18 11-24 19-30 25-12 6-18 7-30 7-18 3-60 0-18-2-18-5 0-149zM-470 122l32-4 42-1 48 1 42 3 30 5 36 7 24 6 18 7 18 12 6 4 6 1 6-1 10-4 32-16 7-2 29-2 30-1 114 0 138-11 48-1 24 0 34 3 38 3 30 0 72-5 30-5 42-4 0 155-1032 0 0-144 30-2 12-2z"/>
<path fill="#fd903d" d="M-516 -268l1032 0 0 160-42 0-12-1-30-5-24-6-12-5-12-8-36-32-12-8-12-7-12-6-12-4-12-2-12-1-18 1-42 8-6 3-12 10-6 4-12 3-18 4-12 2-30 0-72-1-30 4-20 7-22 16-18 10-24 8-6 2-12 1-38-1-10-3-6-3-11-12-11-18-5-12-3-18-3-6-9-5-12-3-12-1-54 3-12 4-12 7-24 19-36 29-12 7-12 5-18 5-30 6-60 0-18-1-24-6 0-147zM-455 122l35-2 42-1 36 1 48 5 42 7 36 9 18 6 18 13 6 3 6 1 12-2 9-4 27-13 12-3 24-2 30-1 114 0 90-8 54-3 42-2 24 1 72 5 30 0 66-4 12-1 18-4 48-3 0 152-1032 0 0-143 30-1 12-2 6-2 12-1z"/>
<path fill="#fd893b" d="M-516 -268l1032 0 0 159-54-1-24-4-30-8-12-5-12-7-30-29-12-9-12-8-12-6-12-5-12-2-18-2-12 0-48 9-6 2-18 14-11 4-19 5-12 1-30 1-72-1-30 3-12 4-11 5-19 15-18 9-24 9-6 1-12 1-36-1-11-4-7-5-10-13-8-12-4-12-6-24-2-3-6-4-12-3-12-2-54 3-12 2-12 6-12 8-49 41-11 8-18 7-24 7-24 4-60 1-18-1-12-3-12-4 0-145zM-430 122l34-1 42 1 48 3 36 5 36 8 24 6 12 5 18 12 6 4 6 1 12-2 12-4 18-10 12-5 42-4 132-1 90-8 42-3 48-1 24 0 78 4 30 1 72-4 24-4 48-3 0 150-1032 0 0-141 36-2 6 0 12-4 30-2z"/>
<path fill="#fd8038" d="M-516 -268l1032 0 0 157-42 0-18-1-24-5-24-6-12-5-11-8-31-30-12-9-18-12-18-7-18-3-12 0-12 1-48 9-9 3-15 11-6 3-12 5-18 4-12 0-48 1-48-1-30 3-15 4-9 5-17 13-13 8-12 5-12 4-18 4-24 0-18-1-6-2-8-6-6-6-8-12-4-6-4-12-4-24-3-6-5-3-6-3-12-2-12 0-54 2-12 2-6 3-6 3-12 9-54 46-12 6-18 7-30 7-18 2-54 0-18-1-12-3-12-4 0-143zM-468 128l6-1 30-3 54-1 48 2 48 5 42 8 30 8 12 5 18 12 6 3 6 2 12-1 12-4 6-3 14-8 10-4 12-2 30-3 24-1 102 0 84-8 78-4 48-1 84 4 24 1 72-4 24-3 48-3 0 148-1032 0 0-140 42-2zM102 194l-12 3-7 3 13 4 48 1 18-1 26-4-20-6-30-2-30 1z"/>
<path fill="#fd7736" d="M-516 -268l1032 0 0 156-42 0-18-1-30-6-18-6-11-5-10-6-7-6-26-27-18-14-12-8-6-2-12-4-30-2-12 1-48 9-13 5-11 9-7 3-16 6-13 3-12 1-48 1-48-1-30 2-18 6-10 6-15 12-11 7-18 7-12 4-12 2-18-1-18-1-6-1-6-3-6-4-8-10-8-12-5-12-2-12-1-12-1-6-5-5-12-4-18-2-60 2-12 2-6 3-12 8-22 20-37 30-13 8-18 7-24 6-18 3-60 0-12-1-18-4-12-4 0-141zM-460 128l40-3 60 0 30 2 48 4 42 8 30 8 12 5 24 16 6 2 6 0 12-2 12-4 18-11 6-2 12-2 30-3 24-1 108 0 18-2 9-3 51-5 60-4 66-1 84 4 24 0 66-2 36-4 42-3 0 147-1032 0 0-139 36-1 18-3zM108 188l-24 4-6 2-10 6 16 6 24 1 66-1 42-6-12-4-6-2-54-7-30 1z"/>
<path fill="#fc6e33" d="M-516 -268l1032 0 0 155-42 0-18-2-24-4-24-7-8-4-10-6-7-6-17-18-12-12-24-20-12-6-6-1-30-2-18 1-51 10-13 6-8 6-12 6-12 5-12 3-12 1-48 1-48-2-30 3-21 7-25 18-14 8-12 5-12 3-12 2-30-1-12-3-6-4-10-10-8-12-5-12-2-12-1-18-2-6-8-4-6-2-12-2-12 0-60 3-12 1-6 2-12 9-24 23-30 26-7 4-11 6-18 8-24 5-18 3-60 1-12-1-18-4-12-5 0-139zM-441 128l39-1 48 0 48 3 24 3 41 7 31 9 12 5 24 15 6 3 6 0 12-2 12-3 18-10 11-5 37-4 30-1 108 2 12-1 12-3 12-5 48-5 48-3 66-1 84 4 24 0 60-2 12 0 18-3 54-3 0 145-1032 0 0-138 36-1 18-3 18-1zM126 182l-42 5-22 7-8 6 15 6 33 3 54-1 47-2 36-6-9-6-86-12-12 0z"/>
<path fill="#fc6530" d="M-516 -268l1032 0 0 153-42 0-18-1-24-5-24-7-16-8-7-6-19-21-36-36-5-3-31-1-24 0-9 1-51 12-6 2-29 16-19 7-12 1-30 1-24 0-42-2-30 2-12 4-12 5-24 18-18 10-24 6-30-1-12-2-6-2-5-5-6-6-10-12-3-6-4-12 1-24-1-6-2-3-4-3-8-2-12-2-12-1-78 4-6 1-6 2-25 28-35 30-9 6-9 5-18 7-18 5-24 4-54 0-18-1-18-4-12-5 0-137zM-399 128l45 1 30 1 30 3 30 4 36 8 24 8 12 6 18 12 6 2 6 1 12-1 12-2 6-3 18-11 6-2 12-2 30-2 24-1 84 2 48 3 6-1 6-3 12-11 60-6 30-1 54-1 90 4 24 0 54-1 18-1 18-3 54-2 0 143-1032 0 0-136 36-2 18-3 12-1 48-1zM132 176l-42 3-6 2-30 11-5 2-7 6 12 6 30 3 24 1 66-1 54-3 27-6 0-6-15-4-60-6-30-7-12-1z"/>
<path fill="#fc5c2e" d="M-516 -268l1032 0 0 152-48 0-12-1-24-5-25-8-12-6-7-6-16-18-22-24-3-6 2-12-13-2-18-1-54 2-12 1-36 9-12 3-33 18-21 6-54 2-48-2-30 1-12 4-12 5-27 20-15 8-24 6-18 0-12 0-12-4-7-4-11-11-9-13-3-6-1-6 0-6 2-23-1-7-6-3-6-2-12-1-12-1-66 2-24 0-17 5 0 6-2 6-9 12-12 12-26 22-11 8-13 7-12 4-18 5-24 4-54 0-18-1-18-5-12-5 0-69 78 0 20-6-8-2-90 0 0-58zM-470 134l8-2 18-1 60-1 48 0 48 5 33 5 45 12 12 5 24 15 12 4 12 0 12-2 6-2 18-11 5-3 13-2 30-2 24-1 72 3 24 2 12 3 8 3 3 6-3 6-11 6-27 12-6 6 12 7 36 3 30 1 54 0 84-5 23-6 4-6-2-6-7-1-48-3-36-4-14-4-16-5-24-4-4-3-3-6 1-12 5-6 49-5 30-1 60-1 90 4 54 0 30-2 30-4 48-1 0 142-1032 0 0-135 24 0 18-2z"/>
<path fill="#fc522b" d="M-516 -268l1032 0 0 151-6 0-42-1-18-1-30-7-18-7-11-9-13-15-18-21-5-6-1-6 3-6 0-6-20-6-13 0-54 3-24 3-42 11-38 19-16 5-24 1-30 1-48-3-30 2-12 4-12 5-29 21-13 7-6 2-18 3-24 0-12-2-8-4-7-6-15-18-3-6-1-12 3-24 0-6-5-6-18-3-18 0-66 2-24 0-13 1-16 6 5 9 1 3-3 6-9 12-36 30-9 6-10 5-18 7-30 6-24 1-48-1-18-4-18-7 0-61 72-1 18-5 17-6-3-6-2 0-102 0 0-54zM-465 134l9-1 30-2 66 0 36 1 36 4 26 4 52 14 12 4 18 12 12 6 12 3 12-1 12-2 6-3 13-9 5-2 6-2 12-1 36-2 18-1 54 4 24 2 11 2 7 6 1 0-3 6-34 16-4 2-5 6 13 6 32 4 42 2 66 0 94-6 22-6 4-4 4-2 2-2 31-10 12-6 5-6-6-2-12 0-14 2-4 4-18 4-42 3-24 0-36-4-12-4-39-15-5-6 0-6 5-6 57-5 54-1 36 0 72 4 60 0 24-1 24-4 54-2 0 141-1032 0 0-134 24 0 24-2z"/>
<path fill="#fa4a29" d="M-516 -268l1032 0 0 150-6 0-42-1-18-2-30-7-18-7-8-7-15-18-16-18-3-6 1-6 3-6 0-6-15-6-19-1-60 2-24 4-42 10-44 21-16 4-48 1-48-2-30 1-24 9-32 23-10 6-6 2-18 3-24 0-12-3-6-4-18-18-6-9-1-7-1-6 5-24 0-6-1-6-8-3-17-3-13 0-66 3-24-1-32 4-14 6 10 9 3 3-1 6-9 12-14 12-22 18-17 10-18 7-30 6-24 1-48-1-18-5-18-8 0-54 60 0 16-4 38-12 2-6-14-1-102 0 0-53zM-461 134l41-2 66 0 30 1 36 4 30 6 48 12 12 5 24 15 6 3 6 2 12 1 12 0 12-3 18-12 6-2 6-1 54-3 50 4 27 6-2 6-26 12-8 6-3 6 15 6 49 6 42 1 84-1 60-3 31-3 22-6 30-12 12-6 9-6 7-6 2-6-5-3-12-2-24 3-24 7-42 7-24 1-18-2-30-6-30-13-7-4-3-6 6-6 52-4 54-1 96 4 60 1 30-2 24-4 54-2 0 140-1032 0 0-132 36-1 12-2 6-2z"/>
<path fill="#f74327" d="M-516 -268l1032 0 0 148-6 0-42 0-18-2-24-5-21-9-8-6-30-36-2-6 0-6 5-6 1-6-17-6-12-2-12-1-66 3-18 3-42 10-48 23-12 2-48 2-48-3-30 1-24 9-19 13-15 12-8 4-6 2-18 3-24 0-9-3-9-5-18-19-3-6-2-6 0-6 5-24 1-6-1-6-6-6-12-2-18 0-72 3-24-1-24 3-20 3-12 6 7 6 11 6 1 6-3 6-5 6-14 12-23 18-9 6-11 5-12 4-30 7-30 0-42-1-18-4-8-5-4-3-6-1 0-47 54 0 66-21 4-6-10-2-12-1-102 0 0-51zM-451 134l37-1 60 0 36 2 36 4 48 11 30 9 12 6 18 12 12 5 12 2 12 0 12-2 6-2 6-3 8-7 10-3 48-3 13 0 27 6 1 6-11 12-5 6-1 6 13 6 60 6 53 2 99-2 63-3 26-3 22-6 28-12 11-6 10-6 6-6 17-17 6-5 3-2 32-6 19-2 12-3 30-2 30 0 0 139-1032 0 0-126 18 0 16-6 14-1 12-4zM158 140l40-3 66-1 104 4 13 6-9 3-42 6-36 8-24 5-24 3-12 1-24-2-24-5-6-2-11-5-11-6-5-6 3-3z"/>
<path fill="#f33b25" d="M-516 -268l1032 0 0 147-6 0-42 0-12-1-30-6-18-8-8-6-29-36-3-6 2-6 6-6 1-6-17-6-18-4-12-1-66 4-18 3-44 10-46 21-12 4-54 2-42-4-24 0-6 1-24 10-22 14-14 12-6 3-6 2-18 2-24 0-6-2-8-5-22-24-2-6-1-6 8-30 0-6-3-6-2-1-6-3-24-1-72 3-30 0-30 3-23 5-11 6 6 6 10 4 4 2 3 6-2 6-4 6-13 12-24 18-10 6-20 8-30 6-36 1-24 0-12-1-12-3-10-5-8-8-6 0 0-34 42 0 12-5 6-3 18-7 30-8 18-7 5-6-5-2-12-2-114 0 0-50zM-434 134l26 0 60 0 36 3 29 3 49 12 25 6 11 5 21 13 9 5 12 4 12 2 12 0 12-1 9-4 9-5 6-3 24 0 18 1 6 2 2 5 4 18 8 6 16 3 60 4 54 2 66 0 90-4 24-1 26-4 21-6 25-11 30-19 18-14 12-7 6-2 42-11 30-2 30 0 0 138-1032 0 0-98 42 0 3-4-12-18 2-6 12-6 13-4 18-1zM171 140l51-2 48-1 68 3 4 6-48 13-42 7-18 1-24-3-26-6-12-6-6-6 2-2z"/>
<path fill="#f03423" d="M-516 -268l1032 0 0 146-12 0-48-1-24-5-21-8-8-6-29-36-2-6 0-1 2-5 8-6 1-6-13-6-10-2-18-4-12 0-66 4-20 2-40 10-12 5-36 16-12 3-6 1-18 2-30 0-11-1-31-4-30 1-18 8-12 6-36 26-6 2-18 2-24 0-6-2-6-4-12-14-8-9-4-6 0-6 1-6 7-24 0-6-1-6-7-6-18-1-84 3-30 0-30 3-18 3-12 4-9 6 2 6 13 4 6 4 4 4-1 6-5 6-6 6-31 24-10 6-17 7-30 6-24 1-42-1-12-2-12-4-5-7 1-6 16-15 6-6 18-12 12-6 18-7 30-7 18-7 5-6-5-4-4-2-8 0-120 0 0-48zM-463 140l7-2 6-1 42-2 60 0 54 5 30 6 54 14 12 4 19 12 11 6 24 8 18 1 30-3 6 1 18 7 20 10 16 4 90 5 48 1 60 0 102-4 30-2 18-3 21-7 21-10 22-14 32-22 16-8 32-9 30-2 30 0 0 137-1032 0 0-83 66 0 2-1-3-6-21-24-2-6 3-6 3-1zM185 140l61-2 60 2 13 0 2 6-18 6-9 2-30 5-24 3-24-2-24-6-6-2-7-6 1-1z"/>
<path fill="#ec2d21" d="M-516 -268l1032 0 0 145-12 0-48-1-24-5-17-7-9-6-29-36-2-6 4-6 9-6 0-6-11-6-11-3-18-3-12-1-24 0-48 4-26 3-40 10-48 20-12 3-24 2-24 0-42-6-30 1-6 2-24 13-18 12-12 11-8 4-4 2-18 1-18 0-6-1-6-2-6-5-9-13-9-7-2-5-1-6 1-6 8-30 0-6-3-6-3-2-6-2-12 0-90 4-24 0-36 3-18 3-17 6-9 6 0 6 19 6 7 6 0 6-4 6-14 13-23 17-11 6-16 6-28 6-24 1-42-1-19-6-7-6 2-6 19-18 16-12 13-8 18-7 42-10 11-5 7-6-5-6-13-1-126 0 0-47zM-459 140l3-1 12-1 42-2 54 0 48 4 30 6 54 13 18 7 18 11 12 7 24 9 36 6 24 8 12 2 30 5 42 0 96 3 60 0 114-3 30-2 12-2 15-4 21-8 24-14 42-30 33-14 9-1 18-2 42-1 0 136-1032 0 0-71 85-1-1-6-24-23-9-13-2-6 5-6zM208 140l44-1 41 1 6 6-29 7-18 3-12 0-24-3-12-4-6-3 6-3z"/>
<path fill="#e8251f" d="M-516 -268l1032 0 0 58-96 0-5 2 5 3 3 3 3 2 12 1 78 0 0 75-12 0-48-1-20-5-18-6-9-6-29-36-2-6 6-6 10-6-2-6-14-7-12-4-12-3-18-1-18 1-60 5-27 3-33 8-42 17-18 5-30 3-18 0-42-7-30 1-6 2-18 10-24 16-13 11-5 3-6 3-6 1-18 0-16-1-8-3-2-3-10-12-11-12-1-3 0-3 1-6 8-30 1-6-1-6-3-3-6-3-12-1-138 6-24 2-18 4-12 5-14 8 1 6 19 7 6 4 2 1 1 6-4 6-7 6-34 27-7 3-11 5-30 6-24 1-42-1-15-5-7-6 1-6 19-18 15-12 17-9 18-6 37-9 14-6 8-6 1-6-18-2-132 0 0-46zM-456 140l12-1 24-2 72 1 37 2 36 6 47 12 24 7 6 2 24 15 27 12 3 3 10 3 14 13 6 4 12 2 12 1 84-4 102 2 174-3 36-2 24-4 18-7 18-10 48-34 36-18 30-2 36-1 0 135-1032 0 0-64 96 0 4-2-3-6-25-22-12-14-4-6 0-6 2-6zM232 146l14-3 12 1 7 2-7 1-12 1-12-1z"/>
<path fill="#e51e1d" d="M-516 -268l1032 0 0 52-108 0-6 3 6 5 9 6 20 6 79 1 0 69-12 1-48-2-15-3-19-6-9-6-31-36 0-6 7-6 10-6-3-6-12-7-18-7-12-2-18-1-12 1-36 4-30 2-34 4-26 7-42 16-18 5-30 2-18 0-42-7-30 1-6 2-12 6-30 20-18 15-6 2-6 1-30 0-6-1-6-4-11-17-7-6-3-6 2-12 7-24 2-12-3-6-5-3-6-1-6-1-86 5-70 4-12 1-18 3-18 8-14 8 1 6 7 4 18 6 4 2 2 6-4 6-7 6-30 24-11 6-8 3-12 4-18 3-18 1-42-1-15-4-9-6 0-6 12-12 14-12 18-12 14-6 44-10 18-7 10-7 4-5-2-2-6-2-12-1-138 0 0-44zM-448 140l22-1 24-1 54 1 24 1 42 7 60 14 24 8 24 14 22 11 8 6 12 20 6 7 6 5 6 2 6 0 24-3 48-10 24-3 108 1 126-3 72 1 24-2 24-6 12-5 18-12 42-31 36-18 8-3 16-1 42-1 0 134-1032 0 0-59 108 0 3-1 1-6-6-6-28-22-14-14-3-6 0-6 1-6 4-5z"/>
<path fill="#e0181d" d="M-516 -268l1032 0 0 46-120 0-6 2 3 6-3 3-24-7-12-2-18 0-84 7-35 5-19 5-36 13-18 6-30 3-18 1-12-1-36-7-30 1-6 2-12 6-18 14-12 7-18 14-4 2-20 2-18-1-6-2-6-6-7-11-10-12-1-6 3-12 9-30 0-6-5-5-7-2-18-1-162 10-18 3-30 11-6-10-162 1 0-43zM-355 -208l1-1 2 1-2 2zM395 -208l1-1 2 1-2 1zM-379 -196l13-4 6-1 4 5 13 6 13 4 6 2 2 6-3 6-7 6-22 18-8 6-16 8-17 4-13 3-30 1-24-1-12-1-6-2-8-6 0-6 12-12 21-18 10-6 19-7 42-9zM404 -196l4-5 24 7 12 1 72 0 0 66-30 0-30-1-12-2-18-6-10-6-31-36 1-6 16-10zM-433 140l31 0 66 0 60 10 62 14 16 7 43 23 7 6 10 20 7 10 11 7 12 3 18-1 17-3 19-4 19-8 17-3 12-1 102 1 132-4 42 1 30 2 30-3 12-2 18-9 12-8 33-28 8-6 31-17 12-4 17-3 43 0 0 132-1032 0 0-53 120-1 6-2 4-4-4-2-3-4-39-27-10-9-5-6-3-6-1-12 1-1 12-4z"/>
<path fill="#db141e" d="M-516 -268l1032 0 0 41-132 0-8 1-4 3-18-1-30 2-36 5-42 4-37 5-17 4-30 11-18 5-30 4-18 1-12-1-36-8-12 0-18 2-12 4-12 6-9 8-21 15-12 10-6 2-6 1-30-1-6-3-18-24-2-6 1-12 12-36-1-6-4-3-6-2-18 0-81 5-81 4-24 3-18 4-18-1-42 2-120 0 0-42zM-372 -196l6 0 6 2 10 4 20 6 5 6-4 6-6 6-30 24-13 6-18 5-12 2-12 1-48-1-6-1-10-6-1-6 19-18 14-12 10-6 22-7 42-9zM413 -196l7 1 24 4 72 0 0 63-24 0-36-1-25-7-11-5-32-37 2-6 6-3 7-3 5-4zM-444 146l12-2 18-3 72 1 60 8 62 14 22 8 40 22 7 6 6 12 4 12 4 6 11 10 12 4 12 1 12-1 36-4 12-4 21-11 15-3 102 0 66-1 54-3 30 1 24 1 18 3 13 1 2 6-15 8-21 10 21 2 228 0 0 22-1032 0 0-45 132 1 12 1 42 15 18 5 36 1 57-2-27-2-36-6-24-7-23-9-31-8-12-5-36-19-23-16-7-6-5-6-3-6-1-6zM451 146l35-4 30-1 0 99-156 0-6-1-3-3 13-12 1-12 6-6 31-30 7-6 11-7 18-11 12-5z"/>
<path fill="#d51120" d="M-516 -268l1032 0 0 36-160 0-8 3-7 3-17 2-36 6-48 4-40 6-14 4-30 10-18 4-24 3-18 1-12-1-36-10-12 0-18 3-12 3-12 6-6 5-8 8-28 21-6 2-30-1-6-1-6-5-16-22-2-6 2-12 7-18 10-17-1-2-4-5-8-2-18 0-108 6-75 2-21 4-24 3-42 3-120 0 0-40zM-391 -190l19-3 6 1 31 8 6 6-3 6-6 6-31 24-14 6-13 4-12 2-12 1-42-1-6-1-11-5-2-6 12-12 13-12 7-6 10-6 19-6 24-4zM409 -190l5-2 6-1 24 4 72 0 0 60-30 0-30-1-21-6-9-4-2-2-16-18-12-12-4-6 3-6 13-5zM-430 146l28-2 54-1 18 2 54 8 48 11 18 5 18 8 31 17 7 6 6 12 1 12 3 6 5 6 2 6-7 3-18 2-48-1-36-5-48-12-66-20-18-6-24-11-12-6-20-16-6-6-3-6-1-6 6-3 6-2zM466 146l26-2 24 0 0 81-126 0-6-1 1-6 0-12 5-12 10-12 13-12 19-13 12-6 18-4zM-5 224l29-1 126-1 66-2 42 1 19 3-3 6-4 3-28 15 4 3 6 1 12 2 18 0 234 0 0 18-1032 0 0-20 192 0 48 2 78 0 132-6 24-2 11-4 7-4 7-8 11-5z"/>
<path fill="#d00d21" d="M-516 -268l1032 0 0 32-168 0-6 1-19 9-30 7-53 4-42 6-12 3-30 9-24 5-30 2-18-1-16-5-20-7-6-1-12 1-18 5-18 7-6 4-15 15-21 16-6 2-30-3-6-1-18-20-3-6 0-6 1-6 5-12 10-18 6-12-1-1-6-3-6-1-24-1-108 7-66 1-48 8-36 5-132 0 0-39zM-383 -190l11 0 6 1 24 6 6 3 3 2-3 6-6 6-31 24-15 6-20 5-18 1-36-2-6-1-7-3-1-6 11-12 13-12 7-6 10-6 20-6 31-5zM417 -190l9 0 18 2 12 1 60 0 0 56-24 1-36-2-16-4-12-6-16-18-12-12-4-6 4-6 14-5zM-393 146l57 0 48 6 18 4 42 9 18 6 12 5 34 18 7 7 4 5 1 6 1 6-1 6 2 12-6 6-12 2-48-2-18-2-12-2-60-16-96-33-12-6-17-13-5-6-3-6 1-3 6-3 18-4 18-1zM451 152l35-5 30 0 0 70-108 0-6-1-2-4 0-12-1-6 0-6 4-6 13-12 10-7 12-6 12-4zM74 224l88-1 54-2 24 1 25 2-3 6-4 3-12 6-23 9-7 4-16 2-8 3-18 2-114 0-24-2-18-4-8-5-2-5-1-13 23-3 42-2z"/>
<path fill="#cb0922" d="M-516 -268l1032 0 0 28-180 0-10 2-3 6-10 6-19 5-10 1-44 4-42 6-16 2-26 8-30 4-30 3-12-2-17-7-19-12-6-1-12 1-18 5-24 12-12 11-11 14-7 6-6 4-6 1-30-4-6-2-12-10-6-6-1-7 1-6 2-6 4-9 10-15 6-12 1-6-5-1-12-1-18 0-102 5-78 2-54 10-30 4-132 1 0-38zM-408 -184l24-3 12-1 19 4 11 4 5 2-3 6-21 18-17 12-18 7-18 3-12 0-30-1-14-3-2-6 17-18 14-12 10-6 17-4zM408 -184l12-3 6-1 30 3 60 0 0 52-18 1-24 0-18-1-12-3-11-6-17-18-12-12-4-6 2-2zM-414 152l48-3 24-1 12 1 60 8 42 10 18 6 12 4 12 6 20 11 7 6 3 6 1 6 0 6-2 6 0 12-5 3-6 2-12 0-36-1-18-2-24-5-54-16-48-18-36-11-12-4-12-7-8-7-5-6 1-6 12-4zM471 152l21-2 24 0 0 60-96 0-6-2-1-2 1-6-2-6-5-6 0-6 5-6 8-6 8-6 10-4 30-7zM138 224l78-2 37 2 0 6-26 12-23 8-24 4-30 1-66-1-24-2-20-4 3-6 5-6 8-6 82-5z"/>
<path fill="#c50624" d="M-516 -268l1032 0 0 24-192 0-6 2-4 4-1 6-8 6-29 6-84 9-42 9-48 3-12 0-6-1-6-3-6-5-13-12-11-6-12-2-54 1-3 1-3 3-7 21-11 20-6 8-6 2-30-1-6-2-12-7-4-8 0-6 4-12 12-18 10-18-4-4-12-1-24 0-96 4-72 2-18 2-36 8-42 7-132 0 0-36zM-398 -184l14-1 12 0 9 1 20 6-2 6-15 13-24 17-16 6-20 3-36-1-7-2-4-6 17-18 13-12 11-6 24-5zM418 -184l8-1 6 0 24 2 60 0 0 49-24 1-36-2-6-1-12-5-17-19-13-12-4-6 4-2 6-2zM-376 152l34-2 12 1 54 7 48 11 30 10 29 15 7 6 3 6 1 7-4 11 0 7-3 5-9 3-48-1-24-4-60-18-54-22-42-12-13-6-7-6-2-6 4-3 6-3 36-5zM459 158l27-3 30 0 0 47-84 0-6-1 1-7-10-12 1-6 7-6 11-6 20-5zM180 224l36-1 22 1 4 6-26 12-17 6-7 2-24 2-30 1-48-2-27-3 7-6 8-4 23-8 79-5z"/>
<path fill="#c00225" d="M-516 -268l1032 0 0 21-198 0-12 2-4 1 4 7-1 5-7 7-22 4-90 9-36 7-42 0-18-2-6-3-18-16-12-6-12-3-62-9-18 0-4 1-6 5-3 6-2 6-4 24-6 12-9 8-6 2-6 1-6-1-12-7-1-3-1-6 1-6 7-12 18-25 6-3 12-3 6-5-30-1-36 0-162 5-25 2-35 9-24 5-18 2-132 0 0-34zM-420 -178l36-5 12 1 20 4 1 6-39 30-18 6-12 1-30-1-6-1-6-4 5-7 12-12 13-12 6-3zM410 -178l16-4 6-1 30 2 54 0 0 45-18 1-18 0-12-1-18-3-8-3-16-18-13-12zM-384 158l18-3 24-2 18 1 60 8 37 8 23 8 12 5 20 11 7 6 4 6 0 6-4 12-1 6-2 3-6 3-42 0-18-2-24-5-48-15-18-8-30-14-18-7-29-9-8-6 1-1 4-5 14-4zM457 164l29-5 30 0 0 34-72-1-4-3-8-13 6-6 18-5zM204 224l15 0 3 1 7 5-24 12-19 7-30 2-65-3 12-6 29-7 20-5 22-1 24-4z"/>
<path fill="#b90026" d="M-516 -268l1032 0 0 18-192 0-22 0-2 1-5 5 5 6-2 6-7 6-21 4-84 8-36 5-30-2-18-3-12-4-20-14-16-5-12-3-53-10-55-2-72-1-136 3-14 1-24 5-36 9-24 4-144 0 0-31zM-78 -232l6 2 6 9 2 7-1 12-3 6-4 6-6 5-6 1-6-1-6-3-2-2-3-6 1-6 3-6 13-18zM-408 -178l24-2 12 1 9 1 2 6-36 30-11 4-12 1-18-1-17-4 10-12 20-18 11-4zM422 -178l16-2 24 1 54 0 0 40-30 2-18-2-18-3-31-30 1-2zM-359 158l29-2 60 6 42 10 30 10 24 12 7 6 3 6 0 6-7 18-3 2-6 2-42 0-18-3-18-4-36-11-18-7-42-23-21-10-6-6 3-6 18-5zM466 170l14-2 36 0 0 13-54 0-4-5 4-3zM189 230l15-1 11 1-11 6-12 5-3 1-9 2-7 4-38 0 17-6 16-3 18-6z"/>
<path fill="#b00026" d="M-516 -268l1032 0 0 15-198 0-30 1-7 3 7 4 6 8-3 5-7 6-49 6-85 8-18-2-18-4-12-4-34-16-20-6-30-6-36-3-24-1-114-1-114 3-24 2-54 13-24 4-144 0 0-29zM-82 -220l4 0 6 3 2 3 1 6-1 6-3 6-5 5-6 2-6-2-6-3-1-8 1-3 6-8 6-6zM-407 -172l17-3 6-1 6 2 4 2-32 30-8 2-20-2 3-6 5-6 18-17zM437 -172l7-3 6 0 24 3 42 0 0 13-24 0-1 5 8 12-7 2-22-2-32-29zM-359 164l23-5 6 0 12 0 54 6 36 9 18 5 23 9 10 6 7 6 3 6 0 6-7 14-3 4-3 1-48 0-24-4-42-13-19-8-45-30-5-6 3-4z"/>
<path fill="#a70026" d="M-516 -268l284 0 0 12-38 2-18 2-42 10-24 5-18 1-144 0 0-26zM-12 -268l528 0 0 13-216 0-18 1-6 3 0 1 9 6 2 6-2 6-9 6-54 6-66 4-12 0-18-4-60-22-18-5-18-4-42-5 0-6zM-86 -208l2-2 6-1 2 3 0 6-2 4-5 2-2 0-5-4 0-3zM-337 164l7-1 12-1 48 4 36 8 30 9 18 8 13 9 3 6 0 6-4 8-6 7-6 2-36 1-12-1-30-7-30-10-14-6-9-6-14-12-12-12-4-6 5-2z"/>
<path fill="#9e0026" d="M-516 -268l238 0 0 12-22 4-6 3-24 6-24 4-6 0-156 0 0-23zM13 -268l245 0 0 12 6 2 16 10 1 6-2 6-9 5-4 1-56 6-60 1-12-2-12-4-54-19-17-6-42-6 0-6zM-333 170l9-4 6-1 48 3 18 3 36 9 18 7 15 7 7 6 3 6-1 6-2 6-4 5-6 4-6 0-30 1-18-2-24-5-25-9-14-6-9-6-7-6-11-12-3-6z"/>
<path fill="#960026" d="M-516 -268l226 0 0 12-16 3-5 3-19 4-5 2-19 2-162 0 0-20zM39 -268l208 0 0 12 17 6 10 6 1 6-4 6-18 6-49 4-30 0-24-1-18-4-66-24-12-3-15-2 0-6zM-321 170l9-1 48 2 36 7 18 6 18 7 6 3 7 6 3 6-1 6-3 6-6 6-3 0-21 2-30-1-24-6-20-7-15-6-9-6-11-12-4-6-1-7z"/>
<path fill="#8d0026" d="M66 -268l171 0 0 12 15 4 7 2 8 6 1 7-4 4-2 1-23 6-41 3-38-3-22-4-40-14-20-8-12-4 0-6zM-516 -250l0-4 192 0 6 2 1 2-25 3-174 0zM-316 176l4-3 6-1 42 1 18 3 28 6 17 6 12 6 3 3 4 3 3 6-1 6-4 6-2 2-6 3-30 1-24-2-24-6-24-10-9-6-6-6-5-6-2-6z"/>
<path fill="#840026" d="M91 -268l136 0 0 12 25 6 9 6 0 6-3 2-24 7-16 3-32 0-24-3-18-4-33-11-13-6-7-6 0-6zM-307 176l13-1 30 0 18 2 30 8 18 7 6 2 6 6 4 6-1 6-5 6-4 2-12 2-30 0-12-1-12-2-18-6-14-7-9-6-5-6-5-6-2-6z"/>
</g>
<use href="#co"/>
</g><use href="#ro"/></g>
<text class="t" x="1560.6" y="796.5">CMIP6 MMM</text>
<rect x="1152.6" y="1351.9" width="816.0" height="40.0" fill="url(#cb)" stroke="#000" stroke-width="1.67"/>
<path d="M1212.0 1391.9v7.3" stroke="#000" stroke-width="1.67"/>
<text class="k" x="1212.0" y="1423.2">100</text>
<path d="M1344.1 1391.9v7.3" stroke="#000" stroke-width="1.67"/>
<text class="k" x="1344.1" y="1423.2">200</text>
<path d="M1476.3 1391.9v7.3" stroke="#000" stroke-width="1.67"/>
<text class="k" x="1476.3" y="1423.2">300</text>
<path d="M1608.4 1391.9v7.3" stroke="#000" stroke-width="1.67"/>
<text class="k" x="1608.4" y="1423.2">400</text>
<path d="M1740.5 1391.9v7.3" stroke="#000" stroke-width="1.67"/>
<text class="k" x="1740.5" y="1423.2">500</text>
<path d="M1872.6 1391.9v7.3" stroke="#000" stroke-width="1.67"/>
<text class="k" x="1872.6" y="1423.2">600</text>
<text class="k" x="1560.6" y="1451.9">Pa</text>
</svg></body></html>
